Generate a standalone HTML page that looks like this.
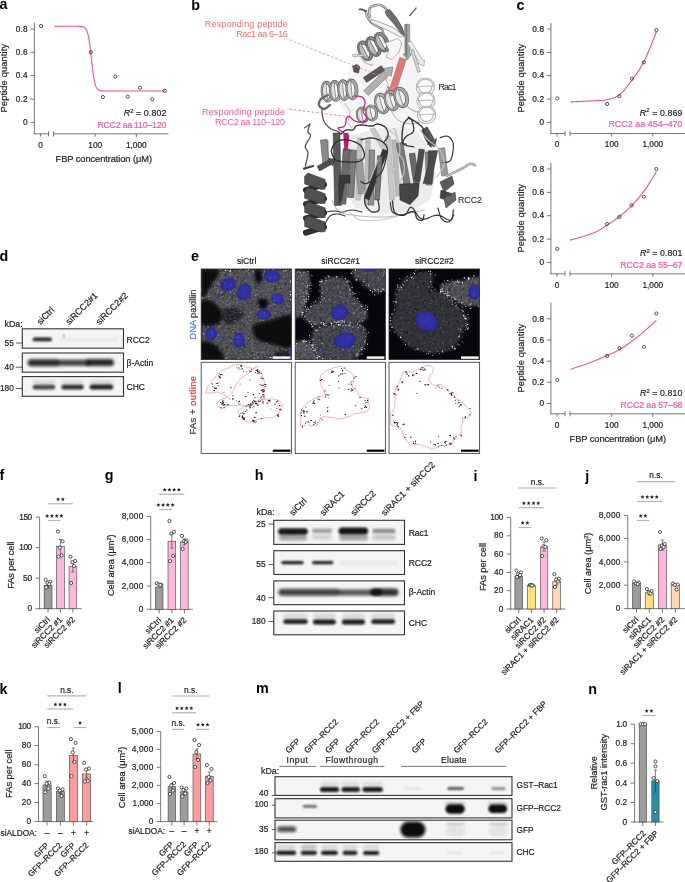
<!DOCTYPE html>
<html><head><meta charset="utf-8"><style>
html,body{margin:0;padding:0;background:#fff;width:685px;height:882px;overflow:hidden}
svg{display:block;will-change:transform}
text{font-family:"Liberation Sans",sans-serif}
</style></head><body>
<svg width="685" height="882" viewBox="0 0 685 882">
<defs><filter id="bl1" x="-50%" y="-100%" width="200%" height="300%"><feGaussianBlur stdDeviation="0.9"/></filter><filter id="bl2" x="-50%" y="-100%" width="200%" height="300%"><feGaussianBlur stdDeviation="1.5"/></filter><filter id="bl3" x="-50%" y="-100%" width="200%" height="300%"><feGaussianBlur stdDeviation="2.3"/></filter><clipPath id="cb1"><rect x="22.3" y="328.8" width="101.2" height="19.399999999999977"/></clipPath><clipPath id="cb2"><rect x="22.3" y="353.0" width="101.2" height="19.19999999999999"/></clipPath><clipPath id="cb3"><rect x="22.3" y="376.6" width="101.2" height="19.69999999999999"/></clipPath><clipPath id="cb4"><rect x="273.8" y="520.3" width="130.7" height="24.100000000000023"/></clipPath><clipPath id="cb5"><rect x="273.8" y="550.7" width="130.7" height="23.799999999999955"/></clipPath><clipPath id="cb6"><rect x="273.8" y="580.9" width="130.7" height="23.800000000000068"/></clipPath><clipPath id="cb7"><rect x="273.8" y="611.0" width="130.7" height="23.799999999999955"/></clipPath><clipPath id="cb8"><rect x="275.0" y="776.7" width="237.0" height="18.699999999999932"/></clipPath><clipPath id="cb9"><rect x="275.0" y="798.7" width="237.0" height="19.199999999999932"/></clipPath><clipPath id="cb10"><rect x="275.0" y="820.2" width="237.0" height="19.59999999999991"/></clipPath><clipPath id="cb11"><rect x="275.0" y="842.6" width="237.0" height="18.699999999999932"/></clipPath><filter id="mb1" x="-20%" y="-20%" width="140%" height="140%"><feGaussianBlur stdDeviation="1.6"/></filter><filter id="mb2" x="-20%" y="-20%" width="140%" height="140%"><feGaussianBlur stdDeviation="0.7"/></filter><filter id="mb3" x="-20%" y="-20%" width="140%" height="140%"><feGaussianBlur stdDeviation="0.35"/></filter><filter id="mnoise" x="0" y="0" width="100%" height="100%"><feTurbulence type="fractalNoise" baseFrequency="0.35" numOctaves="3" seed="7"/><feColorMatrix type="matrix" values="0.9 0.9 0.9 0 -0.55  0.9 0.9 0.9 0 -0.55  0.9 0.9 0.9 0 -0.55  0 0 0 0 1"/></filter><radialGradient id="nuc"><stop offset="0" stop-color="#3434ac"/><stop offset="0.8" stop-color="#2e2e9e"/><stop offset="1" stop-color="#262684"/></radialGradient><clipPath id="mic0"><rect x="201.2" y="269.0" width="90.19999999999999" height="90.60000000000002"/></clipPath><clipPath id="mic1"><rect x="295.2" y="269.0" width="90.19999999999999" height="90.60000000000002"/></clipPath><clipPath id="mic2"><rect x="389.0" y="269.0" width="90.60000000000002" height="90.60000000000002"/></clipPath></defs>
<rect width="685" height="882" fill="#fff"/>
<text x="-0.60" y="9.40" font-size="14.3" text-anchor="start" fill="#000" font-weight="bold">a</text>
<line x1="34.40" y1="22.60" x2="34.40" y2="134.20" stroke="#555" stroke-width="0.8"/>
<line x1="30.40" y1="29.20" x2="34.40" y2="29.20" stroke="#555" stroke-width="0.8"/>
<text x="27.60" y="31.90" font-size="8.3" text-anchor="end" fill="#222" stroke="#222" stroke-width="0.2" textLength="11.77" lengthAdjust="spacing">0.8</text>
<line x1="30.40" y1="52.30" x2="34.40" y2="52.30" stroke="#555" stroke-width="0.8"/>
<text x="27.60" y="55.00" font-size="8.3" text-anchor="end" fill="#222" stroke="#222" stroke-width="0.2" textLength="11.77" lengthAdjust="spacing">0.6</text>
<line x1="30.40" y1="75.60" x2="34.40" y2="75.60" stroke="#555" stroke-width="0.8"/>
<text x="27.60" y="78.30" font-size="8.3" text-anchor="end" fill="#222" stroke="#222" stroke-width="0.2" textLength="11.77" lengthAdjust="spacing">0.4</text>
<line x1="30.40" y1="99.20" x2="34.40" y2="99.20" stroke="#555" stroke-width="0.8"/>
<text x="27.60" y="101.90" font-size="8.3" text-anchor="end" fill="#222" stroke="#222" stroke-width="0.2" textLength="11.77" lengthAdjust="spacing">0.2</text>
<line x1="30.40" y1="122.30" x2="34.40" y2="122.30" stroke="#555" stroke-width="0.8"/>
<text x="27.60" y="125.00" font-size="8.3" text-anchor="end" fill="#222" stroke="#222" stroke-width="0.2" textLength="4.62" lengthAdjust="spacing">0</text>
<line x1="34.00" y1="133.80" x2="48.50" y2="133.80" stroke="#555" stroke-width="0.8"/>
<line x1="48.50" y1="131.20" x2="48.50" y2="136.40" stroke="#555" stroke-width="0.8"/>
<line x1="53.50" y1="133.80" x2="168.60" y2="133.80" stroke="#555" stroke-width="0.8"/>
<line x1="53.50" y1="131.20" x2="53.50" y2="136.40" stroke="#555" stroke-width="0.8"/>
<line x1="40.60" y1="133.80" x2="40.60" y2="136.80" stroke="#555" stroke-width="0.8"/>
<text x="40.60" y="147.60" font-size="8.3" text-anchor="middle" fill="#222" stroke="#222" stroke-width="0.2">0</text>
<line x1="95.20" y1="133.80" x2="95.20" y2="136.80" stroke="#555" stroke-width="0.8"/>
<text x="95.20" y="147.60" font-size="8.3" text-anchor="middle" fill="#222" stroke="#222" stroke-width="0.2">100</text>
<line x1="136.30" y1="133.80" x2="136.30" y2="136.80" stroke="#555" stroke-width="0.8"/>
<text x="136.30" y="147.60" font-size="8.3" text-anchor="middle" fill="#222" stroke="#222" stroke-width="0.2">1,000</text>
<path d="M54.00,26.30 L54.50,26.30 L55.00,26.30 L55.50,26.30 L56.00,26.30 L56.50,26.30 L57.00,26.30 L57.50,26.30 L58.00,26.30 L58.50,26.30 L59.00,26.30 L59.50,26.30 L60.00,26.30 L60.50,26.30 L61.00,26.30 L61.50,26.30 L62.00,26.30 L62.50,26.30 L63.00,26.30 L63.50,26.30 L64.00,26.30 L64.50,26.30 L65.00,26.30 L65.50,26.30 L66.00,26.30 L66.50,26.30 L67.00,26.30 L67.50,26.30 L68.00,26.30 L68.50,26.30 L69.00,26.30 L69.50,26.30 L70.00,26.30 L70.50,26.30 L71.00,26.30 L71.50,26.30 L72.00,26.30 L72.50,26.30 L73.00,26.30 L73.50,26.30 L74.00,26.30 L74.50,26.30 L75.00,26.31 L75.50,26.31 L76.00,26.31 L76.50,26.31 L77.00,26.32 L77.50,26.32 L78.00,26.33 L78.50,26.34 L79.00,26.35 L79.50,26.37 L80.00,26.40 L80.50,26.43 L81.00,26.47 L81.50,26.53 L82.00,26.60 L82.50,26.70 L83.00,26.83 L83.50,27.00 L84.00,27.23 L84.50,27.53 L85.00,27.93 L85.50,28.45 L86.00,29.13 L86.50,30.01 L87.00,31.14 L87.50,32.59 L88.00,34.41 L88.50,36.66 L89.00,39.39 L89.50,42.63 L90.00,46.36 L90.50,50.51 L91.00,54.97 L91.50,59.57 L92.00,64.14 L92.50,68.50 L93.00,72.49 L93.50,76.02 L94.00,79.06 L94.50,81.59 L95.00,83.67 L95.50,85.33 L96.00,86.64 L96.50,87.67 L97.00,88.47 L97.50,89.08 L98.00,89.54 L98.50,89.90 L99.00,90.17 L99.50,90.37 L100.00,90.53 L100.50,90.65 L101.00,90.73 L101.50,90.80 L102.00,90.85 L102.50,90.89 L103.00,90.91 L103.50,90.94 L104.00,90.95 L104.50,90.96 L105.00,90.97 L105.50,90.98 L106.00,90.98 L106.50,90.99 L107.00,90.99 L107.50,90.99 L108.00,91.00 L108.50,91.00 L109.00,91.00 L109.50,91.00 L110.00,91.00 L110.50,91.00 L111.00,91.00 L111.50,91.00 L112.00,91.00 L112.50,91.00 L113.00,91.00 L113.50,91.00 L114.00,91.00 L114.50,91.00 L115.00,91.00 L115.50,91.00 L116.00,91.00 L116.50,91.00 L117.00,91.00 L117.50,91.00 L118.00,91.00 L118.50,91.00 L119.00,91.00 L119.50,91.00 L120.00,91.00 L120.50,91.00 L121.00,91.00 L121.50,91.00 L122.00,91.00 L122.50,91.00 L123.00,91.00 L123.50,91.00 L124.00,91.00 L124.50,91.00 L125.00,91.00 L125.50,91.00 L126.00,91.00 L126.50,91.00 L127.00,91.00 L127.50,91.00 L128.00,91.00 L128.50,91.00 L129.00,91.00 L129.50,91.00 L130.00,91.00 L130.50,91.00 L131.00,91.00 L131.50,91.00 L132.00,91.00 L132.50,91.00 L133.00,91.00 L133.50,91.00 L134.00,91.00 L134.50,91.00 L135.00,91.00 L135.50,91.00 L136.00,91.00 L136.50,91.00 L137.00,91.00 L137.50,91.00 L138.00,91.00 L138.50,91.00 L139.00,91.00 L139.50,91.00 L140.00,91.00 L140.50,91.00 L141.00,91.00 L141.50,91.00 L142.00,91.00 L142.50,91.00 L143.00,91.00 L143.50,91.00 L144.00,91.00 L144.50,91.00 L145.00,91.00 L145.50,91.00 L146.00,91.00 L146.50,91.00 L147.00,91.00 L147.50,91.00 L148.00,91.00 L148.50,91.00 L149.00,91.00 L149.50,91.00 L150.00,91.00 L150.50,91.00 L151.00,91.00 L151.50,91.00 L152.00,91.00 L152.50,91.00 L153.00,91.00 L153.50,91.00 L154.00,91.00 L154.50,91.00 L155.00,91.00 L155.50,91.00 L156.00,91.00 L156.50,91.00 L157.00,91.00 L157.50,91.00 L158.00,91.00 L158.50,91.00 L159.00,91.00 L159.50,91.00 L160.00,91.00 L160.50,91.00 L161.00,91.00 L161.50,91.00 L162.00,91.00 L162.50,91.00 L163.00,91.00 L163.50,91.00 L164.00,91.00 L164.50,91.00 L165.00,91.00" fill="none" stroke="#ea4f9d" stroke-width="1.1"/>
<circle cx="41.00" cy="26.00" r="1.6" fill="none" stroke="#222" stroke-width="0.75"/>
<circle cx="90.80" cy="52.30" r="1.6" fill="none" stroke="#222" stroke-width="0.75"/>
<circle cx="102.90" cy="97.00" r="1.6" fill="none" stroke="#222" stroke-width="0.75"/>
<circle cx="115.30" cy="76.60" r="1.6" fill="none" stroke="#222" stroke-width="0.75"/>
<circle cx="127.70" cy="96.70" r="1.6" fill="none" stroke="#222" stroke-width="0.75"/>
<circle cx="139.90" cy="87.80" r="1.6" fill="none" stroke="#222" stroke-width="0.75"/>
<circle cx="152.30" cy="99.20" r="1.6" fill="none" stroke="#222" stroke-width="0.75"/>
<circle cx="164.70" cy="90.70" r="1.6" fill="none" stroke="#222" stroke-width="0.75"/>
<text x="166.30" y="116.40" font-size="8.8" text-anchor="end" fill="#222" stroke="#222" stroke-width="0.2" textLength="42.5" lengthAdjust="spacing"><tspan font-style="italic">R</tspan><tspan font-size="5.8" dy="-3.4">2</tspan><tspan dy="3.4"> = 0.802</tspan></text>
<text x="166.30" y="127.70" font-size="8.8" text-anchor="end" fill="#ec5aa6" stroke="#ec5aa6" stroke-width="0.2" textLength="68.9" lengthAdjust="spacing">RCC2 aa 110–120</text>
<text x="7.20" y="78.20" font-size="9.3" text-anchor="middle" fill="#222" stroke="#222" stroke-width="0.2" transform="rotate(-90 7.20 78.20)" textLength="68.6" lengthAdjust="spacing">Peptide quantity</text>
<text x="103.80" y="161.50" font-size="9.3" text-anchor="middle" fill="#222" stroke="#222" stroke-width="0.2" textLength="96.4" lengthAdjust="spacing">FBP concentration (μM)</text>
<text x="516.50" y="9.70" font-size="14.3" text-anchor="start" fill="#000" font-weight="bold">c</text>
<line x1="550.90" y1="23.00" x2="550.90" y2="133.90" stroke="#555" stroke-width="0.8"/>
<line x1="546.90" y1="29.00" x2="550.90" y2="29.00" stroke="#555" stroke-width="0.8"/>
<text x="544.10" y="31.70" font-size="8.3" text-anchor="end" fill="#222" stroke="#222" stroke-width="0.2" textLength="11.77" lengthAdjust="spacing">0.8</text>
<line x1="546.90" y1="52.40" x2="550.90" y2="52.40" stroke="#555" stroke-width="0.8"/>
<text x="544.10" y="55.10" font-size="8.3" text-anchor="end" fill="#222" stroke="#222" stroke-width="0.2" textLength="11.77" lengthAdjust="spacing">0.6</text>
<line x1="546.90" y1="75.70" x2="550.90" y2="75.70" stroke="#555" stroke-width="0.8"/>
<text x="544.10" y="78.40" font-size="8.3" text-anchor="end" fill="#222" stroke="#222" stroke-width="0.2" textLength="11.77" lengthAdjust="spacing">0.4</text>
<line x1="546.90" y1="99.10" x2="550.90" y2="99.10" stroke="#555" stroke-width="0.8"/>
<text x="544.10" y="101.80" font-size="8.3" text-anchor="end" fill="#222" stroke="#222" stroke-width="0.2" textLength="11.77" lengthAdjust="spacing">0.2</text>
<line x1="546.90" y1="122.40" x2="550.90" y2="122.40" stroke="#555" stroke-width="0.8"/>
<text x="544.10" y="125.10" font-size="8.3" text-anchor="end" fill="#222" stroke="#222" stroke-width="0.2" textLength="4.62" lengthAdjust="spacing">0</text>
<line x1="550.50" y1="133.50" x2="565.00" y2="133.50" stroke="#555" stroke-width="0.8"/>
<line x1="565.00" y1="130.90" x2="565.00" y2="136.10" stroke="#555" stroke-width="0.8"/>
<line x1="570.00" y1="133.50" x2="685.00" y2="133.50" stroke="#555" stroke-width="0.8"/>
<line x1="570.00" y1="130.90" x2="570.00" y2="136.10" stroke="#555" stroke-width="0.8"/>
<line x1="557.10" y1="133.50" x2="557.10" y2="136.50" stroke="#555" stroke-width="0.8"/>
<text x="557.10" y="147.30" font-size="8.3" text-anchor="middle" fill="#222" stroke="#222" stroke-width="0.2">0</text>
<line x1="611.70" y1="133.50" x2="611.70" y2="136.50" stroke="#555" stroke-width="0.8"/>
<text x="611.70" y="147.30" font-size="8.3" text-anchor="middle" fill="#222" stroke="#222" stroke-width="0.2">100</text>
<line x1="652.80" y1="133.50" x2="652.80" y2="136.50" stroke="#555" stroke-width="0.8"/>
<text x="652.80" y="147.30" font-size="8.3" text-anchor="middle" fill="#222" stroke="#222" stroke-width="0.2">1,000</text>
<path d="M570.60,101.90 L572.11,101.83 L574.14,101.75 L576.56,101.65 L579.23,101.54 L582.04,101.41 L584.86,101.28 L587.55,101.14 L590.00,101.00 L592.28,100.87 L594.54,100.77 L596.77,100.67 L598.96,100.56 L601.10,100.42 L603.18,100.22 L605.18,99.96 L607.10,99.60 L608.91,99.21 L610.60,98.82 L612.22,98.41 L613.78,97.92 L615.30,97.32 L616.81,96.58 L618.33,95.65 L619.90,94.50 L621.50,93.09 L623.11,91.45 L624.72,89.62 L626.33,87.65 L627.93,85.58 L629.51,83.45 L631.07,81.31 L632.60,79.20 L634.09,77.17 L635.54,75.18 L636.97,73.18 L638.38,71.13 L639.78,68.97 L641.20,66.64 L642.63,64.11 L644.10,61.30 L645.68,57.97 L647.41,54.07 L649.19,49.83 L650.97,45.48 L652.65,41.28 L654.17,37.45 L655.45,34.25 L656.40,31.90" fill="none" stroke="#ea4f9d" stroke-width="1.1"/>
<circle cx="557.30" cy="98.40" r="1.6" fill="none" stroke="#222" stroke-width="0.75"/>
<circle cx="607.10" cy="104.00" r="1.6" fill="none" stroke="#222" stroke-width="0.75"/>
<circle cx="619.40" cy="96.10" r="1.6" fill="none" stroke="#222" stroke-width="0.75"/>
<circle cx="631.90" cy="78.70" r="1.6" fill="none" stroke="#222" stroke-width="0.75"/>
<circle cx="643.90" cy="62.30" r="1.6" fill="none" stroke="#222" stroke-width="0.75"/>
<circle cx="656.40" cy="30.10" r="1.6" fill="none" stroke="#222" stroke-width="0.75"/>
<text x="682.50" y="115.50" font-size="8.8" text-anchor="end" fill="#222" stroke="#222" stroke-width="0.2" textLength="42.7" lengthAdjust="spacing"><tspan font-style="italic">R</tspan><tspan font-size="5.8" dy="-3.4">2</tspan><tspan dy="3.4"> = 0.869</tspan></text>
<text x="682.50" y="126.80" font-size="8.8" text-anchor="end" fill="#ec5aa6" stroke="#ec5aa6" stroke-width="0.2" textLength="74.1" lengthAdjust="spacing">RCC2 aa 454–470</text>
<text x="523.70" y="78.25" font-size="9.3" text-anchor="middle" fill="#222" stroke="#222" stroke-width="0.2" transform="rotate(-90 523.70 78.25)" textLength="68.6" lengthAdjust="spacing">Peptide quantity</text>
<line x1="550.90" y1="162.80" x2="550.90" y2="274.20" stroke="#555" stroke-width="0.8"/>
<line x1="546.90" y1="169.00" x2="550.90" y2="169.00" stroke="#555" stroke-width="0.8"/>
<text x="544.10" y="171.70" font-size="8.3" text-anchor="end" fill="#222" stroke="#222" stroke-width="0.2" textLength="11.77" lengthAdjust="spacing">0.8</text>
<line x1="546.90" y1="192.40" x2="550.90" y2="192.40" stroke="#555" stroke-width="0.8"/>
<text x="544.10" y="195.10" font-size="8.3" text-anchor="end" fill="#222" stroke="#222" stroke-width="0.2" textLength="11.77" lengthAdjust="spacing">0.6</text>
<line x1="546.90" y1="215.70" x2="550.90" y2="215.70" stroke="#555" stroke-width="0.8"/>
<text x="544.10" y="218.40" font-size="8.3" text-anchor="end" fill="#222" stroke="#222" stroke-width="0.2" textLength="11.77" lengthAdjust="spacing">0.4</text>
<line x1="546.90" y1="239.10" x2="550.90" y2="239.10" stroke="#555" stroke-width="0.8"/>
<text x="544.10" y="241.80" font-size="8.3" text-anchor="end" fill="#222" stroke="#222" stroke-width="0.2" textLength="11.77" lengthAdjust="spacing">0.2</text>
<line x1="546.90" y1="262.40" x2="550.90" y2="262.40" stroke="#555" stroke-width="0.8"/>
<text x="544.10" y="265.10" font-size="8.3" text-anchor="end" fill="#222" stroke="#222" stroke-width="0.2" textLength="4.62" lengthAdjust="spacing">0</text>
<line x1="550.50" y1="273.80" x2="565.00" y2="273.80" stroke="#555" stroke-width="0.8"/>
<line x1="565.00" y1="271.20" x2="565.00" y2="276.40" stroke="#555" stroke-width="0.8"/>
<line x1="570.00" y1="273.80" x2="685.00" y2="273.80" stroke="#555" stroke-width="0.8"/>
<line x1="570.00" y1="271.20" x2="570.00" y2="276.40" stroke="#555" stroke-width="0.8"/>
<line x1="557.10" y1="273.80" x2="557.10" y2="276.80" stroke="#555" stroke-width="0.8"/>
<text x="557.10" y="287.60" font-size="8.3" text-anchor="middle" fill="#222" stroke="#222" stroke-width="0.2">0</text>
<line x1="611.70" y1="273.80" x2="611.70" y2="276.80" stroke="#555" stroke-width="0.8"/>
<text x="611.70" y="287.60" font-size="8.3" text-anchor="middle" fill="#222" stroke="#222" stroke-width="0.2">100</text>
<line x1="652.80" y1="273.80" x2="652.80" y2="276.80" stroke="#555" stroke-width="0.8"/>
<text x="652.80" y="287.60" font-size="8.3" text-anchor="middle" fill="#222" stroke="#222" stroke-width="0.2">1,000</text>
<path d="M570.10,240.10 L571.01,239.85 L572.21,239.54 L573.64,239.16 L575.24,238.74 L576.93,238.28 L578.67,237.79 L580.38,237.30 L582.00,236.80 L583.58,236.30 L585.20,235.80 L586.84,235.27 L588.50,234.73 L590.16,234.15 L591.80,233.54 L593.42,232.89 L595.00,232.20 L596.54,231.46 L598.04,230.68 L599.52,229.86 L600.98,229.01 L602.44,228.13 L603.91,227.21 L605.39,226.27 L606.90,225.30 L608.43,224.31 L609.98,223.29 L611.54,222.24 L613.11,221.17 L614.69,220.06 L616.26,218.91 L617.83,217.73 L619.40,216.50 L620.97,215.23 L622.54,213.93 L624.11,212.59 L625.69,211.22 L627.26,209.80 L628.82,208.35 L630.37,206.85 L631.90,205.30 L633.41,203.73 L634.90,202.15 L636.38,200.54 L637.85,198.88 L639.32,197.15 L640.80,195.34 L642.29,193.43 L643.80,191.40 L645.42,189.09 L647.18,186.44 L648.99,183.61 L650.79,180.73 L652.50,177.96 L654.04,175.46 L655.33,173.35 L656.30,171.80" fill="none" stroke="#ea4f9d" stroke-width="1.1"/>
<circle cx="557.30" cy="248.90" r="1.6" fill="none" stroke="#222" stroke-width="0.75"/>
<circle cx="607.00" cy="224.00" r="1.6" fill="none" stroke="#222" stroke-width="0.75"/>
<circle cx="619.40" cy="216.90" r="1.6" fill="none" stroke="#222" stroke-width="0.75"/>
<circle cx="631.60" cy="205.30" r="1.6" fill="none" stroke="#222" stroke-width="0.75"/>
<circle cx="643.80" cy="196.80" r="1.6" fill="none" stroke="#222" stroke-width="0.75"/>
<circle cx="656.30" cy="169.00" r="1.6" fill="none" stroke="#222" stroke-width="0.75"/>
<text x="682.50" y="256.30" font-size="8.8" text-anchor="end" fill="#222" stroke="#222" stroke-width="0.2" textLength="42.5" lengthAdjust="spacing"><tspan font-style="italic">R</tspan><tspan font-size="5.8" dy="-3.4">2</tspan><tspan dy="3.4"> = 0.801</tspan></text>
<text x="682.50" y="267.60" font-size="8.8" text-anchor="end" fill="#ec5aa6" stroke="#ec5aa6" stroke-width="0.2" textLength="62.3" lengthAdjust="spacing">RCC2 aa 55–67</text>
<text x="523.70" y="218.30" font-size="9.3" text-anchor="middle" fill="#222" stroke="#222" stroke-width="0.2" transform="rotate(-90 523.70 218.30)" textLength="68.6" lengthAdjust="spacing">Peptide quantity</text>
<line x1="550.90" y1="302.50" x2="550.90" y2="414.20" stroke="#555" stroke-width="0.8"/>
<line x1="546.90" y1="318.80" x2="550.90" y2="318.80" stroke="#555" stroke-width="0.8"/>
<text x="544.10" y="321.50" font-size="8.3" text-anchor="end" fill="#222" stroke="#222" stroke-width="0.2" textLength="11.77" lengthAdjust="spacing">0.8</text>
<line x1="546.90" y1="340.00" x2="550.90" y2="340.00" stroke="#555" stroke-width="0.8"/>
<text x="544.10" y="342.70" font-size="8.3" text-anchor="end" fill="#222" stroke="#222" stroke-width="0.2" textLength="11.77" lengthAdjust="spacing">0.6</text>
<line x1="546.90" y1="361.20" x2="550.90" y2="361.20" stroke="#555" stroke-width="0.8"/>
<text x="544.10" y="363.90" font-size="8.3" text-anchor="end" fill="#222" stroke="#222" stroke-width="0.2" textLength="11.77" lengthAdjust="spacing">0.4</text>
<line x1="546.90" y1="382.30" x2="550.90" y2="382.30" stroke="#555" stroke-width="0.8"/>
<text x="544.10" y="385.00" font-size="8.3" text-anchor="end" fill="#222" stroke="#222" stroke-width="0.2" textLength="11.77" lengthAdjust="spacing">0.2</text>
<line x1="546.90" y1="403.50" x2="550.90" y2="403.50" stroke="#555" stroke-width="0.8"/>
<text x="544.10" y="406.20" font-size="8.3" text-anchor="end" fill="#222" stroke="#222" stroke-width="0.2" textLength="4.62" lengthAdjust="spacing">0</text>
<line x1="550.50" y1="413.80" x2="565.00" y2="413.80" stroke="#555" stroke-width="0.8"/>
<line x1="565.00" y1="411.20" x2="565.00" y2="416.40" stroke="#555" stroke-width="0.8"/>
<line x1="570.00" y1="413.80" x2="685.00" y2="413.80" stroke="#555" stroke-width="0.8"/>
<line x1="570.00" y1="411.20" x2="570.00" y2="416.40" stroke="#555" stroke-width="0.8"/>
<line x1="557.10" y1="413.80" x2="557.10" y2="416.80" stroke="#555" stroke-width="0.8"/>
<text x="557.10" y="427.60" font-size="8.3" text-anchor="middle" fill="#222" stroke="#222" stroke-width="0.2">0</text>
<line x1="611.70" y1="413.80" x2="611.70" y2="416.80" stroke="#555" stroke-width="0.8"/>
<text x="611.70" y="427.60" font-size="8.3" text-anchor="middle" fill="#222" stroke="#222" stroke-width="0.2">100</text>
<line x1="652.80" y1="413.80" x2="652.80" y2="416.80" stroke="#555" stroke-width="0.8"/>
<text x="652.80" y="427.60" font-size="8.3" text-anchor="middle" fill="#222" stroke="#222" stroke-width="0.2">1,000</text>
<path d="M570.60,369.20 L572.11,368.69 L574.14,368.03 L576.56,367.23 L579.23,366.34 L582.04,365.40 L584.86,364.44 L587.55,363.49 L590.00,362.60 L592.28,361.73 L594.55,360.83 L596.79,359.92 L598.99,359.01 L601.14,358.10 L603.22,357.20 L605.21,356.33 L607.10,355.50 L608.87,354.72 L610.51,354.00 L612.06,353.31 L613.54,352.63 L614.98,351.94 L616.42,351.22 L617.89,350.45 L619.40,349.60 L620.96,348.68 L622.52,347.70 L624.09,346.69 L625.67,345.63 L627.24,344.55 L628.81,343.44 L630.36,342.32 L631.90,341.20 L633.42,340.07 L634.92,338.92 L636.41,337.76 L637.90,336.57 L639.39,335.37 L640.88,334.14 L642.38,332.88 L643.90,331.60 L645.52,330.20 L647.28,328.65 L649.10,327.03 L650.90,325.40 L652.61,323.85 L654.14,322.45 L655.43,321.28 L656.40,320.40" fill="none" stroke="#ea4f9d" stroke-width="1.1"/>
<circle cx="557.30" cy="379.90" r="1.6" fill="none" stroke="#222" stroke-width="0.75"/>
<circle cx="607.10" cy="355.90" r="1.6" fill="none" stroke="#222" stroke-width="0.75"/>
<circle cx="619.40" cy="348.20" r="1.6" fill="none" stroke="#222" stroke-width="0.75"/>
<circle cx="631.90" cy="335.70" r="1.6" fill="none" stroke="#222" stroke-width="0.75"/>
<circle cx="643.90" cy="346.90" r="1.6" fill="none" stroke="#222" stroke-width="0.75"/>
<circle cx="656.40" cy="313.50" r="1.6" fill="none" stroke="#222" stroke-width="0.75"/>
<text x="682.50" y="396.20" font-size="8.8" text-anchor="end" fill="#222" stroke="#222" stroke-width="0.2" textLength="42.5" lengthAdjust="spacing"><tspan font-style="italic">R</tspan><tspan font-size="5.8" dy="-3.4">2</tspan><tspan dy="3.4"> = 0.810</tspan></text>
<text x="682.50" y="407.50" font-size="8.8" text-anchor="end" fill="#ec5aa6" stroke="#ec5aa6" stroke-width="0.2" textLength="62.1" lengthAdjust="spacing">RCC2 aa 57–68</text>
<text x="523.70" y="358.15" font-size="9.3" text-anchor="middle" fill="#222" stroke="#222" stroke-width="0.2" transform="rotate(-90 523.70 358.15)" textLength="68.6" lengthAdjust="spacing">Peptide quantity</text>
<text x="617.80" y="441.50" font-size="9.3" text-anchor="middle" fill="#222" stroke="#222" stroke-width="0.2" textLength="96.4" lengthAdjust="spacing">FBP concentration (μM)</text>
<text x="-0.50" y="480.30" font-size="14.3" text-anchor="start" fill="#000" font-weight="bold">f</text>
<line x1="39.60" y1="517.00" x2="39.60" y2="609.10" stroke="#555" stroke-width="0.8"/>
<line x1="39.20" y1="608.70" x2="81.70" y2="608.70" stroke="#555" stroke-width="0.8"/>
<line x1="35.60" y1="517.00" x2="39.60" y2="517.00" stroke="#555" stroke-width="0.8"/>
<text x="32.20" y="519.60" font-size="8.3" text-anchor="end" fill="#222" stroke="#222" stroke-width="0.2" textLength="12.96" lengthAdjust="spacing">150</text>
<line x1="35.60" y1="547.60" x2="39.60" y2="547.60" stroke="#555" stroke-width="0.8"/>
<text x="32.20" y="550.20" font-size="8.3" text-anchor="end" fill="#222" stroke="#222" stroke-width="0.2" textLength="12.96" lengthAdjust="spacing">100</text>
<line x1="35.60" y1="578.20" x2="39.60" y2="578.20" stroke="#555" stroke-width="0.8"/>
<text x="32.20" y="580.80" font-size="8.3" text-anchor="end" fill="#222" stroke="#222" stroke-width="0.2" textLength="9.24" lengthAdjust="spacing">50</text>
<line x1="35.60" y1="608.70" x2="39.60" y2="608.70" stroke="#555" stroke-width="0.8"/>
<text x="32.20" y="611.30" font-size="8.3" text-anchor="end" fill="#222" stroke="#222" stroke-width="0.2" textLength="4.62" lengthAdjust="spacing">0</text>
<rect x="44.10" y="585.30" width="7.90" height="23.40" fill="#9c9c9c" stroke="#444" stroke-width="0.6"/>
<line x1="48.05" y1="608.70" x2="48.05" y2="612.70" stroke="#555" stroke-width="0.8"/>
<line x1="48.05" y1="582.50" x2="48.05" y2="588.00" stroke="#333" stroke-width="0.6"/>
<line x1="46.45" y1="582.50" x2="49.65" y2="582.50" stroke="#333" stroke-width="0.6"/>
<line x1="46.45" y1="588.00" x2="49.65" y2="588.00" stroke="#333" stroke-width="0.6"/>
<circle cx="45.65" cy="579.90" r="1.6" fill="#fff" stroke="#222" stroke-width="0.75"/>
<circle cx="50.25" cy="581.80" r="1.6" fill="#fff" stroke="#222" stroke-width="0.75"/>
<circle cx="47.45" cy="583.00" r="1.6" fill="#fff" stroke="#222" stroke-width="0.75"/>
<circle cx="49.25" cy="584.20" r="1.6" fill="#fff" stroke="#222" stroke-width="0.75"/>
<circle cx="46.25" cy="587.30" r="1.6" fill="#fff" stroke="#222" stroke-width="0.75"/>
<rect x="56.50" y="546.50" width="7.80" height="62.20" fill="#fbb8dc" stroke="#444" stroke-width="0.6"/>
<line x1="60.40" y1="608.70" x2="60.40" y2="612.70" stroke="#555" stroke-width="0.8"/>
<line x1="60.40" y1="539.50" x2="60.40" y2="556.00" stroke="#333" stroke-width="0.6"/>
<line x1="58.80" y1="539.50" x2="62.00" y2="539.50" stroke="#333" stroke-width="0.6"/>
<line x1="58.80" y1="556.00" x2="62.00" y2="556.00" stroke="#333" stroke-width="0.6"/>
<circle cx="58.00" cy="531.60" r="1.6" fill="#fff" stroke="#222" stroke-width="0.75"/>
<circle cx="62.60" cy="541.40" r="1.6" fill="#fff" stroke="#222" stroke-width="0.75"/>
<circle cx="59.80" cy="547.50" r="1.6" fill="#fff" stroke="#222" stroke-width="0.75"/>
<circle cx="61.60" cy="555.50" r="1.6" fill="#fff" stroke="#222" stroke-width="0.75"/>
<circle cx="58.60" cy="556.70" r="1.6" fill="#fff" stroke="#222" stroke-width="0.75"/>
<rect x="69.00" y="566.60" width="7.80" height="42.10" fill="#fbb8dc" stroke="#444" stroke-width="0.6"/>
<line x1="72.90" y1="608.70" x2="72.90" y2="612.70" stroke="#555" stroke-width="0.8"/>
<line x1="72.90" y1="561.00" x2="72.90" y2="572.00" stroke="#333" stroke-width="0.6"/>
<line x1="71.30" y1="561.00" x2="74.50" y2="561.00" stroke="#333" stroke-width="0.6"/>
<line x1="71.30" y1="572.00" x2="74.50" y2="572.00" stroke="#333" stroke-width="0.6"/>
<circle cx="70.50" cy="556.70" r="1.6" fill="#fff" stroke="#222" stroke-width="0.75"/>
<circle cx="75.10" cy="561.00" r="1.6" fill="#fff" stroke="#222" stroke-width="0.75"/>
<circle cx="72.30" cy="562.20" r="1.6" fill="#fff" stroke="#222" stroke-width="0.75"/>
<circle cx="74.10" cy="565.90" r="1.6" fill="#fff" stroke="#222" stroke-width="0.75"/>
<circle cx="71.10" cy="583.00" r="1.6" fill="#fff" stroke="#222" stroke-width="0.75"/>
<line x1="48.10" y1="520.50" x2="60.50" y2="520.50" stroke="#b4b4b4" stroke-width="1.2"/>
<polygon points="47.17,513.85 47.74,515.22 49.22,515.34 48.10,516.30 48.44,517.74 47.17,516.97 45.91,517.74 46.25,516.30 45.13,515.34 46.61,515.22" fill="#222"/><polygon points="51.92,513.85 52.49,515.22 53.97,515.34 52.85,516.30 53.19,517.74 51.92,516.97 50.66,517.74 51.00,516.30 49.88,515.34 51.36,515.22" fill="#222"/><polygon points="56.67,513.85 57.24,515.22 58.72,515.34 57.60,516.30 57.94,517.74 56.67,516.97 55.41,517.74 55.75,516.30 54.63,515.34 56.11,515.22" fill="#222"/><polygon points="61.42,513.85 61.99,515.22 63.47,515.34 62.35,516.30 62.69,517.74 61.42,516.97 60.16,517.74 60.50,516.30 59.38,515.34 60.86,515.22" fill="#222"/>
<line x1="48.10" y1="503.80" x2="72.80" y2="503.80" stroke="#b4b4b4" stroke-width="1.2"/>
<polygon points="58.08,497.15 58.64,498.52 60.12,498.64 59.00,499.60 59.34,501.04 58.08,500.27 56.81,501.04 57.15,499.60 56.03,498.64 57.51,498.52" fill="#222"/><polygon points="62.83,497.15 63.39,498.52 64.87,498.64 63.75,499.60 64.09,501.04 62.83,500.27 61.56,501.04 61.90,499.60 60.78,498.64 62.26,498.52" fill="#222"/>
<text x="14.10" y="565.20" font-size="9.3" text-anchor="middle" fill="#222" stroke="#222" stroke-width="0.2" transform="rotate(-90 14.10 565.20)" textLength="47.3" lengthAdjust="spacing">FAs per cell</text>
<text x="50.60" y="620.20" font-size="8.3" text-anchor="end" fill="#222" stroke="#222" stroke-width="0.2" transform="rotate(-45 50.60 620.20)">siCtrl</text>
<text x="63.00" y="620.20" font-size="8.3" text-anchor="end" fill="#222" stroke="#222" stroke-width="0.2" transform="rotate(-45 63.00 620.20)">siRCC2 #1</text>
<text x="75.50" y="620.20" font-size="8.3" text-anchor="end" fill="#222" stroke="#222" stroke-width="0.2" transform="rotate(-45 75.50 620.20)">siRCC2 #2</text>
<text x="104.80" y="480.30" font-size="14.3" text-anchor="start" fill="#000" font-weight="bold">g</text>
<line x1="150.70" y1="516.40" x2="150.70" y2="609.70" stroke="#555" stroke-width="0.8"/>
<line x1="150.30" y1="609.30" x2="192.80" y2="609.30" stroke="#555" stroke-width="0.8"/>
<line x1="146.70" y1="516.40" x2="150.70" y2="516.40" stroke="#555" stroke-width="0.8"/>
<text x="143.30" y="519.00" font-size="8.3" text-anchor="end" fill="#222" stroke="#222" stroke-width="0.2" textLength="21.65" lengthAdjust="spacing">8,000</text>
<line x1="146.70" y1="539.40" x2="150.70" y2="539.40" stroke="#555" stroke-width="0.8"/>
<text x="143.30" y="542.00" font-size="8.3" text-anchor="end" fill="#222" stroke="#222" stroke-width="0.2" textLength="21.65" lengthAdjust="spacing">6,000</text>
<line x1="146.70" y1="562.70" x2="150.70" y2="562.70" stroke="#555" stroke-width="0.8"/>
<text x="143.30" y="565.30" font-size="8.3" text-anchor="end" fill="#222" stroke="#222" stroke-width="0.2" textLength="21.65" lengthAdjust="spacing">4,000</text>
<line x1="146.70" y1="586.10" x2="150.70" y2="586.10" stroke="#555" stroke-width="0.8"/>
<text x="143.30" y="588.70" font-size="8.3" text-anchor="end" fill="#222" stroke="#222" stroke-width="0.2" textLength="21.65" lengthAdjust="spacing">2,000</text>
<line x1="146.70" y1="609.30" x2="150.70" y2="609.30" stroke="#555" stroke-width="0.8"/>
<text x="143.30" y="611.90" font-size="8.3" text-anchor="end" fill="#222" stroke="#222" stroke-width="0.2" textLength="4.62" lengthAdjust="spacing">0</text>
<rect x="155.30" y="587.10" width="7.70" height="22.20" fill="#9c9c9c" stroke="#444" stroke-width="0.6"/>
<line x1="159.15" y1="609.30" x2="159.15" y2="613.30" stroke="#555" stroke-width="0.8"/>
<circle cx="156.75" cy="583.30" r="1.6" fill="#fff" stroke="#222" stroke-width="0.75"/>
<circle cx="161.35" cy="584.90" r="1.6" fill="#fff" stroke="#222" stroke-width="0.75"/>
<circle cx="158.55" cy="584.50" r="1.6" fill="#fff" stroke="#222" stroke-width="0.75"/>
<circle cx="160.35" cy="585.00" r="1.6" fill="#fff" stroke="#222" stroke-width="0.75"/>
<rect x="168.00" y="541.20" width="7.70" height="68.10" fill="#fbb8dc" stroke="#444" stroke-width="0.6"/>
<line x1="171.85" y1="609.30" x2="171.85" y2="613.30" stroke="#555" stroke-width="0.8"/>
<line x1="171.85" y1="534.30" x2="171.85" y2="548.10" stroke="#333" stroke-width="0.6"/>
<line x1="170.25" y1="534.30" x2="173.45" y2="534.30" stroke="#333" stroke-width="0.6"/>
<line x1="170.25" y1="548.10" x2="173.45" y2="548.10" stroke="#333" stroke-width="0.6"/>
<circle cx="169.45" cy="521.00" r="1.6" fill="#fff" stroke="#222" stroke-width="0.75"/>
<circle cx="174.05" cy="531.70" r="1.6" fill="#fff" stroke="#222" stroke-width="0.75"/>
<circle cx="171.25" cy="533.60" r="1.6" fill="#fff" stroke="#222" stroke-width="0.75"/>
<circle cx="173.05" cy="555.80" r="1.6" fill="#fff" stroke="#222" stroke-width="0.75"/>
<circle cx="170.05" cy="561.10" r="1.6" fill="#fff" stroke="#222" stroke-width="0.75"/>
<rect x="180.60" y="542.00" width="7.60" height="67.30" fill="#fbb8dc" stroke="#444" stroke-width="0.6"/>
<line x1="184.40" y1="609.30" x2="184.40" y2="613.30" stroke="#555" stroke-width="0.8"/>
<line x1="184.40" y1="539.00" x2="184.40" y2="545.00" stroke="#333" stroke-width="0.6"/>
<line x1="182.80" y1="539.00" x2="186.00" y2="539.00" stroke="#333" stroke-width="0.6"/>
<line x1="182.80" y1="545.00" x2="186.00" y2="545.00" stroke="#333" stroke-width="0.6"/>
<circle cx="182.00" cy="535.90" r="1.6" fill="#fff" stroke="#222" stroke-width="0.75"/>
<circle cx="186.60" cy="540.50" r="1.6" fill="#fff" stroke="#222" stroke-width="0.75"/>
<circle cx="183.80" cy="541.00" r="1.6" fill="#fff" stroke="#222" stroke-width="0.75"/>
<circle cx="185.60" cy="542.00" r="1.6" fill="#fff" stroke="#222" stroke-width="0.75"/>
<circle cx="182.60" cy="548.90" r="1.6" fill="#fff" stroke="#222" stroke-width="0.75"/>
<line x1="159.10" y1="509.50" x2="171.80" y2="509.50" stroke="#b4b4b4" stroke-width="1.2"/>
<polygon points="158.32,502.85 158.89,504.22 160.37,504.34 159.25,505.30 159.59,506.74 158.32,505.97 157.06,506.74 157.40,505.30 156.28,504.34 157.76,504.22" fill="#222"/><polygon points="163.07,502.85 163.64,504.22 165.12,504.34 164.00,505.30 164.34,506.74 163.07,505.97 161.81,506.74 162.15,505.30 161.03,504.34 162.51,504.22" fill="#222"/><polygon points="167.82,502.85 168.39,504.22 169.87,504.34 168.75,505.30 169.09,506.74 167.82,505.97 166.56,506.74 166.90,505.30 165.78,504.34 167.26,504.22" fill="#222"/><polygon points="172.57,502.85 173.14,504.22 174.62,504.34 173.50,505.30 173.84,506.74 172.57,505.97 171.31,506.74 171.65,505.30 170.53,504.34 172.01,504.22" fill="#222"/>
<line x1="159.10" y1="494.20" x2="184.40" y2="494.20" stroke="#b4b4b4" stroke-width="1.2"/>
<polygon points="164.62,487.55 165.19,488.92 166.67,489.04 165.55,490.00 165.89,491.44 164.62,490.67 163.36,491.44 163.70,490.00 162.58,489.04 164.06,488.92" fill="#222"/><polygon points="169.38,487.55 169.94,488.92 171.42,489.04 170.30,490.00 170.64,491.44 169.38,490.67 168.11,491.44 168.45,490.00 167.33,489.04 168.81,488.92" fill="#222"/><polygon points="174.12,487.55 174.69,488.92 176.17,489.04 175.05,490.00 175.39,491.44 174.12,490.67 172.86,491.44 173.20,490.00 172.08,489.04 173.56,488.92" fill="#222"/><polygon points="178.88,487.55 179.44,488.92 180.92,489.04 179.80,490.00 180.14,491.44 178.88,490.67 177.61,491.44 177.95,490.00 176.83,489.04 178.31,488.92" fill="#222"/>
<text x="113.80" y="565.20" font-size="9.3" text-anchor="middle" fill="#222" stroke="#222" stroke-width="0.2" transform="rotate(-90 113.80 565.20)" textLength="61.7" lengthAdjust="spacing">Cell area (μm<tspan font-size="5.5" dy="-3">2</tspan><tspan dy="3">)</tspan></text>
<text x="161.70" y="620.80" font-size="8.3" text-anchor="end" fill="#222" stroke="#222" stroke-width="0.2" transform="rotate(-45 161.70 620.80)">siCtrl</text>
<text x="174.40" y="620.80" font-size="8.3" text-anchor="end" fill="#222" stroke="#222" stroke-width="0.2" transform="rotate(-45 174.40 620.80)">siRCC2 #1</text>
<text x="187.00" y="620.80" font-size="8.3" text-anchor="end" fill="#222" stroke="#222" stroke-width="0.2" transform="rotate(-45 187.00 620.80)">siRCC2 #2</text>
<text x="473.50" y="480.50" font-size="14.3" text-anchor="start" fill="#000" font-weight="bold">i</text>
<line x1="510.70" y1="517.40" x2="510.70" y2="609.40" stroke="#555" stroke-width="0.8"/>
<line x1="510.30" y1="609.00" x2="565.40" y2="609.00" stroke="#555" stroke-width="0.8"/>
<line x1="506.70" y1="517.40" x2="510.70" y2="517.40" stroke="#555" stroke-width="0.8"/>
<text x="503.30" y="520.00" font-size="8.3" text-anchor="end" fill="#222" stroke="#222" stroke-width="0.2" textLength="12.96" lengthAdjust="spacing">100</text>
<line x1="506.70" y1="535.80" x2="510.70" y2="535.80" stroke="#555" stroke-width="0.8"/>
<text x="503.30" y="538.40" font-size="8.3" text-anchor="end" fill="#222" stroke="#222" stroke-width="0.2" textLength="9.24" lengthAdjust="spacing">80</text>
<line x1="506.70" y1="554.10" x2="510.70" y2="554.10" stroke="#555" stroke-width="0.8"/>
<text x="503.30" y="556.70" font-size="8.3" text-anchor="end" fill="#222" stroke="#222" stroke-width="0.2" textLength="9.24" lengthAdjust="spacing">60</text>
<line x1="506.70" y1="572.50" x2="510.70" y2="572.50" stroke="#555" stroke-width="0.8"/>
<text x="503.30" y="575.10" font-size="8.3" text-anchor="end" fill="#222" stroke="#222" stroke-width="0.2" textLength="9.24" lengthAdjust="spacing">40</text>
<line x1="506.70" y1="590.70" x2="510.70" y2="590.70" stroke="#555" stroke-width="0.8"/>
<text x="503.30" y="593.30" font-size="8.3" text-anchor="end" fill="#222" stroke="#222" stroke-width="0.2" textLength="9.24" lengthAdjust="spacing">20</text>
<line x1="506.70" y1="609.00" x2="510.70" y2="609.00" stroke="#555" stroke-width="0.8"/>
<text x="503.30" y="611.60" font-size="8.3" text-anchor="end" fill="#222" stroke="#222" stroke-width="0.2" textLength="4.62" lengthAdjust="spacing">0</text>
<rect x="514.90" y="576.10" width="7.70" height="32.90" fill="#9c9c9c" stroke="#444" stroke-width="0.6"/>
<line x1="518.75" y1="609.00" x2="518.75" y2="613.00" stroke="#555" stroke-width="0.8"/>
<line x1="518.75" y1="574.00" x2="518.75" y2="578.00" stroke="#333" stroke-width="0.6"/>
<line x1="517.15" y1="574.00" x2="520.35" y2="574.00" stroke="#333" stroke-width="0.6"/>
<line x1="517.15" y1="578.00" x2="520.35" y2="578.00" stroke="#333" stroke-width="0.6"/>
<circle cx="516.35" cy="570.50" r="1.6" fill="#fff" stroke="#222" stroke-width="0.75"/>
<circle cx="520.95" cy="572.40" r="1.6" fill="#fff" stroke="#222" stroke-width="0.75"/>
<circle cx="518.15" cy="574.20" r="1.6" fill="#fff" stroke="#222" stroke-width="0.75"/>
<circle cx="519.95" cy="575.10" r="1.6" fill="#fff" stroke="#222" stroke-width="0.75"/>
<circle cx="516.95" cy="577.00" r="1.6" fill="#fff" stroke="#222" stroke-width="0.75"/>
<rect x="527.40" y="585.40" width="7.90" height="23.60" fill="#fbe27c" stroke="#444" stroke-width="0.6"/>
<line x1="531.35" y1="609.00" x2="531.35" y2="613.00" stroke="#555" stroke-width="0.8"/>
<circle cx="529.97" cy="585.00" r="1.6" fill="#fff" stroke="#222" stroke-width="0.75"/>
<circle cx="532.62" cy="585.20" r="1.6" fill="#fff" stroke="#222" stroke-width="0.75"/>
<circle cx="531.00" cy="585.40" r="1.6" fill="#fff" stroke="#222" stroke-width="0.75"/>
<circle cx="532.04" cy="585.60" r="1.6" fill="#fff" stroke="#222" stroke-width="0.75"/>
<rect x="540.30" y="546.90" width="7.50" height="62.10" fill="#fbb8dc" stroke="#444" stroke-width="0.6"/>
<line x1="544.05" y1="609.00" x2="544.05" y2="613.00" stroke="#555" stroke-width="0.8"/>
<line x1="544.05" y1="542.00" x2="544.05" y2="551.00" stroke="#333" stroke-width="0.6"/>
<line x1="542.45" y1="542.00" x2="545.65" y2="542.00" stroke="#333" stroke-width="0.6"/>
<line x1="542.45" y1="551.00" x2="545.65" y2="551.00" stroke="#333" stroke-width="0.6"/>
<circle cx="541.65" cy="538.50" r="1.6" fill="#fff" stroke="#222" stroke-width="0.75"/>
<circle cx="546.25" cy="540.30" r="1.6" fill="#fff" stroke="#222" stroke-width="0.75"/>
<circle cx="543.45" cy="546.50" r="1.6" fill="#fff" stroke="#222" stroke-width="0.75"/>
<circle cx="545.25" cy="546.90" r="1.6" fill="#fff" stroke="#222" stroke-width="0.75"/>
<circle cx="542.25" cy="555.90" r="1.6" fill="#fff" stroke="#222" stroke-width="0.75"/>
<rect x="552.80" y="581.60" width="7.90" height="27.40" fill="#fdd8b4" stroke="#444" stroke-width="0.6"/>
<line x1="556.75" y1="609.00" x2="556.75" y2="613.00" stroke="#555" stroke-width="0.8"/>
<line x1="556.75" y1="578.00" x2="556.75" y2="585.00" stroke="#333" stroke-width="0.6"/>
<line x1="555.15" y1="578.00" x2="558.35" y2="578.00" stroke="#333" stroke-width="0.6"/>
<line x1="555.15" y1="585.00" x2="558.35" y2="585.00" stroke="#333" stroke-width="0.6"/>
<circle cx="554.35" cy="574.20" r="1.6" fill="#fff" stroke="#222" stroke-width="0.75"/>
<circle cx="558.95" cy="578.80" r="1.6" fill="#fff" stroke="#222" stroke-width="0.75"/>
<circle cx="556.15" cy="579.70" r="1.6" fill="#fff" stroke="#222" stroke-width="0.75"/>
<circle cx="557.95" cy="581.50" r="1.6" fill="#fff" stroke="#222" stroke-width="0.75"/>
<circle cx="554.95" cy="587.00" r="1.6" fill="#fff" stroke="#222" stroke-width="0.75"/>
<line x1="518.50" y1="527.50" x2="531.50" y2="527.50" stroke="#b4b4b4" stroke-width="1.2"/>
<polygon points="522.62,520.85 523.19,522.22 524.67,522.34 523.55,523.30 523.89,524.74 522.62,523.97 521.36,524.74 521.70,523.30 520.58,522.34 522.06,522.22" fill="#222"/><polygon points="527.38,520.85 527.94,522.22 529.42,522.34 528.30,523.30 528.64,524.74 527.38,523.97 526.11,524.74 526.45,523.30 525.33,522.34 526.81,522.22" fill="#222"/>
<line x1="518.50" y1="507.70" x2="543.70" y2="507.70" stroke="#b4b4b4" stroke-width="1.2"/>
<polygon points="523.98,501.05 524.54,502.42 526.02,502.54 524.90,503.50 525.24,504.94 523.98,504.17 522.71,504.94 523.05,503.50 521.93,502.54 523.41,502.42" fill="#222"/><polygon points="528.73,501.05 529.29,502.42 530.77,502.54 529.65,503.50 529.99,504.94 528.73,504.17 527.46,504.94 527.80,503.50 526.68,502.54 528.16,502.42" fill="#222"/><polygon points="533.48,501.05 534.04,502.42 535.52,502.54 534.40,503.50 534.74,504.94 533.48,504.17 532.21,504.94 532.55,503.50 531.43,502.54 532.91,502.42" fill="#222"/><polygon points="538.23,501.05 538.79,502.42 540.27,502.54 539.15,503.50 539.49,504.94 538.23,504.17 536.96,504.94 537.30,503.50 536.18,502.54 537.66,502.42" fill="#222"/>
<line x1="518.60" y1="488.00" x2="556.40" y2="488.00" stroke="#b4b4b4" stroke-width="1.2"/>
<text x="537.50" y="484.80" font-size="8.3" text-anchor="middle" fill="#222" stroke="#222" stroke-width="0.2">n.s.</text>
<text x="486.00" y="567.00" font-size="9.3" text-anchor="middle" fill="#222" stroke="#222" stroke-width="0.2" transform="rotate(-90 486.00 567.00)" textLength="48.0" lengthAdjust="spacing">FAs per cell</text>
<text x="521.30" y="620.50" font-size="8.3" text-anchor="end" fill="#222" stroke="#222" stroke-width="0.2" transform="rotate(-45 521.30 620.50)">siCtrl</text>
<text x="533.90" y="620.50" font-size="8.3" text-anchor="end" fill="#222" stroke="#222" stroke-width="0.2" transform="rotate(-45 533.90 620.50)">siRAC1</text>
<text x="546.60" y="620.50" font-size="8.3" text-anchor="end" fill="#222" stroke="#222" stroke-width="0.2" transform="rotate(-45 546.60 620.50)">siRCC2 #2</text>
<text x="559.30" y="620.50" font-size="8.3" text-anchor="end" fill="#222" stroke="#222" stroke-width="0.2" transform="rotate(-45 559.30 620.50)">siRAC1 + siRCC2 #2</text>
<text x="585.20" y="480.50" font-size="14.3" text-anchor="start" fill="#000" font-weight="bold">j</text>
<line x1="627.80" y1="515.40" x2="627.80" y2="609.10" stroke="#555" stroke-width="0.8"/>
<line x1="627.40" y1="608.70" x2="685.50" y2="608.70" stroke="#555" stroke-width="0.8"/>
<line x1="623.80" y1="515.40" x2="627.80" y2="515.40" stroke="#555" stroke-width="0.8"/>
<text x="620.40" y="518.00" font-size="8.3" text-anchor="end" fill="#222" stroke="#222" stroke-width="0.2" textLength="21.65" lengthAdjust="spacing">8,000</text>
<line x1="623.80" y1="538.40" x2="627.80" y2="538.40" stroke="#555" stroke-width="0.8"/>
<text x="620.40" y="541.00" font-size="8.3" text-anchor="end" fill="#222" stroke="#222" stroke-width="0.2" textLength="21.65" lengthAdjust="spacing">6,000</text>
<line x1="623.80" y1="561.90" x2="627.80" y2="561.90" stroke="#555" stroke-width="0.8"/>
<text x="620.40" y="564.50" font-size="8.3" text-anchor="end" fill="#222" stroke="#222" stroke-width="0.2" textLength="21.65" lengthAdjust="spacing">4,000</text>
<line x1="623.80" y1="585.20" x2="627.80" y2="585.20" stroke="#555" stroke-width="0.8"/>
<text x="620.40" y="587.80" font-size="8.3" text-anchor="end" fill="#222" stroke="#222" stroke-width="0.2" textLength="21.65" lengthAdjust="spacing">2,000</text>
<line x1="623.80" y1="608.70" x2="627.80" y2="608.70" stroke="#555" stroke-width="0.8"/>
<text x="620.40" y="611.30" font-size="8.3" text-anchor="end" fill="#222" stroke="#222" stroke-width="0.2" textLength="4.62" lengthAdjust="spacing">0</text>
<rect x="632.40" y="583.10" width="8.20" height="25.60" fill="#9c9c9c" stroke="#444" stroke-width="0.6"/>
<line x1="636.50" y1="608.70" x2="636.50" y2="612.70" stroke="#555" stroke-width="0.8"/>
<circle cx="634.10" cy="581.50" r="1.6" fill="#fff" stroke="#222" stroke-width="0.75"/>
<circle cx="638.70" cy="582.50" r="1.6" fill="#fff" stroke="#222" stroke-width="0.75"/>
<circle cx="635.90" cy="583.50" r="1.6" fill="#fff" stroke="#222" stroke-width="0.75"/>
<circle cx="637.70" cy="584.00" r="1.6" fill="#fff" stroke="#222" stroke-width="0.75"/>
<rect x="645.20" y="592.80" width="8.20" height="15.90" fill="#fbe27c" stroke="#444" stroke-width="0.6"/>
<line x1="649.30" y1="608.70" x2="649.30" y2="612.70" stroke="#555" stroke-width="0.8"/>
<line x1="649.30" y1="591.00" x2="649.30" y2="595.00" stroke="#333" stroke-width="0.6"/>
<line x1="647.70" y1="591.00" x2="650.90" y2="591.00" stroke="#333" stroke-width="0.6"/>
<line x1="647.70" y1="595.00" x2="650.90" y2="595.00" stroke="#333" stroke-width="0.6"/>
<circle cx="646.90" cy="589.00" r="1.6" fill="#fff" stroke="#222" stroke-width="0.75"/>
<circle cx="651.50" cy="591.00" r="1.6" fill="#fff" stroke="#222" stroke-width="0.75"/>
<circle cx="648.70" cy="592.50" r="1.6" fill="#fff" stroke="#222" stroke-width="0.75"/>
<circle cx="650.50" cy="593.50" r="1.6" fill="#fff" stroke="#222" stroke-width="0.75"/>
<rect x="658.30" y="544.90" width="8.20" height="63.80" fill="#fbb8dc" stroke="#444" stroke-width="0.6"/>
<line x1="662.40" y1="608.70" x2="662.40" y2="612.70" stroke="#555" stroke-width="0.8"/>
<line x1="662.40" y1="540.00" x2="662.40" y2="550.00" stroke="#333" stroke-width="0.6"/>
<line x1="660.80" y1="540.00" x2="664.00" y2="540.00" stroke="#333" stroke-width="0.6"/>
<line x1="660.80" y1="550.00" x2="664.00" y2="550.00" stroke="#333" stroke-width="0.6"/>
<circle cx="660.00" cy="532.00" r="1.6" fill="#fff" stroke="#222" stroke-width="0.75"/>
<circle cx="664.60" cy="544.00" r="1.6" fill="#fff" stroke="#222" stroke-width="0.75"/>
<circle cx="661.80" cy="545.50" r="1.6" fill="#fff" stroke="#222" stroke-width="0.75"/>
<circle cx="663.60" cy="547.00" r="1.6" fill="#fff" stroke="#222" stroke-width="0.75"/>
<circle cx="660.60" cy="549.00" r="1.6" fill="#fff" stroke="#222" stroke-width="0.75"/>
<rect x="671.20" y="584.80" width="8.40" height="23.90" fill="#fdd8b4" stroke="#444" stroke-width="0.6"/>
<line x1="675.40" y1="608.70" x2="675.40" y2="612.70" stroke="#555" stroke-width="0.8"/>
<circle cx="673.00" cy="583.50" r="1.6" fill="#fff" stroke="#222" stroke-width="0.75"/>
<circle cx="677.60" cy="584.50" r="1.6" fill="#fff" stroke="#222" stroke-width="0.75"/>
<circle cx="674.80" cy="585.00" r="1.6" fill="#fff" stroke="#222" stroke-width="0.75"/>
<circle cx="676.60" cy="589.50" r="1.6" fill="#fff" stroke="#222" stroke-width="0.75"/>
<line x1="636.70" y1="520.50" x2="649.40" y2="520.50" stroke="#b4b4b4" stroke-width="1.2"/>
<polygon points="640.67,513.85 641.24,515.22 642.72,515.34 641.60,516.30 641.94,517.74 640.67,516.97 639.41,517.74 639.75,516.30 638.63,515.34 640.11,515.22" fill="#222"/><polygon points="645.42,513.85 645.99,515.22 647.47,515.34 646.35,516.30 646.69,517.74 645.42,516.97 644.16,517.74 644.50,516.30 643.38,515.34 644.86,515.22" fill="#222"/>
<line x1="636.70" y1="501.50" x2="662.50" y2="501.50" stroke="#b4b4b4" stroke-width="1.2"/>
<polygon points="642.48,494.85 643.04,496.22 644.52,496.34 643.40,497.30 643.74,498.74 642.48,497.97 641.21,498.74 641.55,497.30 640.43,496.34 641.91,496.22" fill="#222"/><polygon points="647.23,494.85 647.79,496.22 649.27,496.34 648.15,497.30 648.49,498.74 647.23,497.97 645.96,498.74 646.30,497.30 645.18,496.34 646.66,496.22" fill="#222"/><polygon points="651.98,494.85 652.54,496.22 654.02,496.34 652.90,497.30 653.24,498.74 651.98,497.97 650.71,498.74 651.05,497.30 649.93,496.34 651.41,496.22" fill="#222"/><polygon points="656.73,494.85 657.29,496.22 658.77,496.34 657.65,497.30 657.99,498.74 656.73,497.97 655.46,498.74 655.80,497.30 654.68,496.34 656.16,496.22" fill="#222"/>
<line x1="636.70" y1="481.60" x2="675.30" y2="481.60" stroke="#b4b4b4" stroke-width="1.2"/>
<text x="656.00" y="478.40" font-size="8.3" text-anchor="middle" fill="#222" stroke="#222" stroke-width="0.2">n.s.</text>
<text x="590.70" y="563.50" font-size="9.3" text-anchor="middle" fill="#222" stroke="#222" stroke-width="0.2" transform="rotate(-90 590.70 563.50)" textLength="61.7" lengthAdjust="spacing">Cell area (μm<tspan font-size="5.5" dy="-3">2</tspan><tspan dy="3">)</tspan></text>
<text x="639.10" y="620.20" font-size="8.3" text-anchor="end" fill="#222" stroke="#222" stroke-width="0.2" transform="rotate(-45 639.10 620.20)">siCtrl</text>
<text x="651.90" y="620.20" font-size="8.3" text-anchor="end" fill="#222" stroke="#222" stroke-width="0.2" transform="rotate(-45 651.90 620.20)">siRAC1</text>
<text x="665.00" y="620.20" font-size="8.3" text-anchor="end" fill="#222" stroke="#222" stroke-width="0.2" transform="rotate(-45 665.00 620.20)">siRCC2 #2</text>
<text x="678.00" y="620.20" font-size="8.3" text-anchor="end" fill="#222" stroke="#222" stroke-width="0.2" transform="rotate(-45 678.00 620.20)">siRAC1 + siRCC2 #2</text>
<text x="-0.50" y="694.20" font-size="14.3" text-anchor="start" fill="#000" font-weight="bold">k</text>
<line x1="38.50" y1="726.80" x2="38.50" y2="822.00" stroke="#555" stroke-width="0.8"/>
<line x1="38.10" y1="821.60" x2="92.90" y2="821.60" stroke="#555" stroke-width="0.8"/>
<line x1="34.50" y1="726.80" x2="38.50" y2="726.80" stroke="#555" stroke-width="0.8"/>
<text x="31.10" y="729.40" font-size="8.3" text-anchor="end" fill="#222" stroke="#222" stroke-width="0.2" textLength="12.96" lengthAdjust="spacing">100</text>
<line x1="34.50" y1="745.50" x2="38.50" y2="745.50" stroke="#555" stroke-width="0.8"/>
<text x="31.10" y="748.10" font-size="8.3" text-anchor="end" fill="#222" stroke="#222" stroke-width="0.2" textLength="9.24" lengthAdjust="spacing">80</text>
<line x1="34.50" y1="764.80" x2="38.50" y2="764.80" stroke="#555" stroke-width="0.8"/>
<text x="31.10" y="767.40" font-size="8.3" text-anchor="end" fill="#222" stroke="#222" stroke-width="0.2" textLength="9.24" lengthAdjust="spacing">60</text>
<line x1="34.50" y1="783.60" x2="38.50" y2="783.60" stroke="#555" stroke-width="0.8"/>
<text x="31.10" y="786.20" font-size="8.3" text-anchor="end" fill="#222" stroke="#222" stroke-width="0.2" textLength="9.24" lengthAdjust="spacing">40</text>
<line x1="34.50" y1="802.50" x2="38.50" y2="802.50" stroke="#555" stroke-width="0.8"/>
<text x="31.10" y="805.10" font-size="8.3" text-anchor="end" fill="#222" stroke="#222" stroke-width="0.2" textLength="9.24" lengthAdjust="spacing">20</text>
<line x1="34.50" y1="821.60" x2="38.50" y2="821.60" stroke="#555" stroke-width="0.8"/>
<text x="31.10" y="824.20" font-size="8.3" text-anchor="end" fill="#222" stroke="#222" stroke-width="0.2" textLength="4.62" lengthAdjust="spacing">0</text>
<rect x="43.00" y="784.90" width="8.20" height="36.70" fill="#9c9c9c" stroke="#444" stroke-width="0.6"/>
<line x1="47.10" y1="821.60" x2="47.10" y2="825.60" stroke="#555" stroke-width="0.8"/>
<line x1="47.10" y1="781.00" x2="47.10" y2="789.00" stroke="#333" stroke-width="0.6"/>
<line x1="45.50" y1="781.00" x2="48.70" y2="781.00" stroke="#333" stroke-width="0.6"/>
<line x1="45.50" y1="789.00" x2="48.70" y2="789.00" stroke="#333" stroke-width="0.6"/>
<circle cx="44.70" cy="776.10" r="1.6" fill="#fff" stroke="#222" stroke-width="0.75"/>
<circle cx="49.30" cy="782.70" r="1.6" fill="#fff" stroke="#222" stroke-width="0.75"/>
<circle cx="46.50" cy="783.70" r="1.6" fill="#fff" stroke="#222" stroke-width="0.75"/>
<circle cx="48.30" cy="788.40" r="1.6" fill="#fff" stroke="#222" stroke-width="0.75"/>
<circle cx="45.30" cy="792.20" r="1.6" fill="#fff" stroke="#222" stroke-width="0.75"/>
<rect x="56.30" y="791.60" width="8.10" height="30.00" fill="#9c9c9c" stroke="#444" stroke-width="0.6"/>
<line x1="60.35" y1="821.60" x2="60.35" y2="825.60" stroke="#555" stroke-width="0.8"/>
<line x1="60.35" y1="789.50" x2="60.35" y2="793.50" stroke="#333" stroke-width="0.6"/>
<line x1="58.75" y1="789.50" x2="61.95" y2="789.50" stroke="#333" stroke-width="0.6"/>
<line x1="58.75" y1="793.50" x2="61.95" y2="793.50" stroke="#333" stroke-width="0.6"/>
<circle cx="57.95" cy="788.40" r="1.6" fill="#fff" stroke="#222" stroke-width="0.75"/>
<circle cx="62.55" cy="789.30" r="1.6" fill="#fff" stroke="#222" stroke-width="0.75"/>
<circle cx="59.75" cy="790.50" r="1.6" fill="#fff" stroke="#222" stroke-width="0.75"/>
<circle cx="61.55" cy="796.00" r="1.6" fill="#fff" stroke="#222" stroke-width="0.75"/>
<rect x="69.30" y="755.30" width="8.20" height="66.30" fill="#fb9d9d" stroke="#444" stroke-width="0.6"/>
<line x1="73.40" y1="821.60" x2="73.40" y2="825.60" stroke="#555" stroke-width="0.8"/>
<line x1="73.40" y1="748.00" x2="73.40" y2="762.00" stroke="#333" stroke-width="0.6"/>
<line x1="71.80" y1="748.00" x2="75.00" y2="748.00" stroke="#333" stroke-width="0.6"/>
<line x1="71.80" y1="762.00" x2="75.00" y2="762.00" stroke="#333" stroke-width="0.6"/>
<circle cx="71.00" cy="739.10" r="1.6" fill="#fff" stroke="#222" stroke-width="0.75"/>
<circle cx="75.60" cy="742.90" r="1.6" fill="#fff" stroke="#222" stroke-width="0.75"/>
<circle cx="72.80" cy="752.40" r="1.6" fill="#fff" stroke="#222" stroke-width="0.75"/>
<circle cx="74.60" cy="761.90" r="1.6" fill="#fff" stroke="#222" stroke-width="0.75"/>
<circle cx="71.60" cy="776.10" r="1.6" fill="#fff" stroke="#222" stroke-width="0.75"/>
<rect x="82.60" y="774.00" width="8.10" height="47.60" fill="#fb9d9d" stroke="#444" stroke-width="0.6"/>
<line x1="86.65" y1="821.60" x2="86.65" y2="825.60" stroke="#555" stroke-width="0.8"/>
<line x1="86.65" y1="770.00" x2="86.65" y2="778.00" stroke="#333" stroke-width="0.6"/>
<line x1="85.05" y1="770.00" x2="88.25" y2="770.00" stroke="#333" stroke-width="0.6"/>
<line x1="85.05" y1="778.00" x2="88.25" y2="778.00" stroke="#333" stroke-width="0.6"/>
<circle cx="84.25" cy="762.80" r="1.6" fill="#fff" stroke="#222" stroke-width="0.75"/>
<circle cx="88.85" cy="768.50" r="1.6" fill="#fff" stroke="#222" stroke-width="0.75"/>
<circle cx="86.05" cy="769.50" r="1.6" fill="#fff" stroke="#222" stroke-width="0.75"/>
<circle cx="87.85" cy="780.80" r="1.6" fill="#fff" stroke="#222" stroke-width="0.75"/>
<circle cx="84.85" cy="781.50" r="1.6" fill="#fff" stroke="#222" stroke-width="0.75"/>
<line x1="47.20" y1="727.50" x2="59.90" y2="727.50" stroke="#b4b4b4" stroke-width="1.2"/>
<text x="53.55" y="724.30" font-size="8.3" text-anchor="middle" fill="#222" stroke="#222" stroke-width="0.2">n.s.</text>
<line x1="73.50" y1="727.50" x2="86.60" y2="727.50" stroke="#b4b4b4" stroke-width="1.2"/>
<polygon points="80.05,720.85 80.62,722.22 82.09,722.34 80.97,723.30 81.31,724.74 80.05,723.97 78.79,724.74 79.13,723.30 78.01,722.34 79.48,722.22" fill="#222"/>
<line x1="47.20" y1="709.00" x2="73.10" y2="709.00" stroke="#b4b4b4" stroke-width="1.2"/>
<polygon points="55.40,702.35 55.97,703.72 57.44,703.84 56.32,704.80 56.66,706.24 55.40,705.47 54.14,706.24 54.48,704.80 53.36,703.84 54.83,703.72" fill="#222"/><polygon points="60.15,702.35 60.72,703.72 62.19,703.84 61.07,704.80 61.41,706.24 60.15,705.47 58.89,706.24 59.23,704.80 58.11,703.84 59.58,703.72" fill="#222"/><polygon points="64.90,702.35 65.47,703.72 66.94,703.84 65.82,704.80 66.16,706.24 64.90,705.47 63.64,706.24 63.98,704.80 62.86,703.84 64.33,703.72" fill="#222"/>
<line x1="47.20" y1="695.80" x2="86.60" y2="695.80" stroke="#b4b4b4" stroke-width="1.2"/>
<text x="66.90" y="692.60" font-size="8.3" text-anchor="middle" fill="#222" stroke="#222" stroke-width="0.2">n.s.</text>
<text x="11.90" y="773.70" font-size="9.3" text-anchor="middle" fill="#222" stroke="#222" stroke-width="0.2" transform="rotate(-90 11.90 773.70)" textLength="48.4" lengthAdjust="spacing">FAs per cell</text>
<text x="0.50" y="836.30" font-size="8.3" text-anchor="start" fill="#222" stroke="#222" stroke-width="0.2">siALDOA:</text>
<text x="47.10" y="836.30" font-size="8.3" text-anchor="middle" fill="#222" stroke="#222" stroke-width="0.2">–</text>
<text x="60.30" y="836.30" font-size="8.3" text-anchor="middle" fill="#222" stroke="#222" stroke-width="0.2">–</text>
<text x="73.50" y="836.30" font-size="8.3" text-anchor="middle" fill="#222" stroke="#222" stroke-width="0.2">+</text>
<text x="86.60" y="836.30" font-size="8.3" text-anchor="middle" fill="#222" stroke="#222" stroke-width="0.2">+</text>
<text x="49.40" y="846.00" font-size="8.3" text-anchor="end" fill="#222" stroke="#222" stroke-width="0.2" transform="rotate(-45 49.40 846.00)">GFP</text>
<text x="62.60" y="846.00" font-size="8.3" text-anchor="end" fill="#222" stroke="#222" stroke-width="0.2" transform="rotate(-45 62.60 846.00)">GFP–RCC2</text>
<text x="75.80" y="846.00" font-size="8.3" text-anchor="end" fill="#222" stroke="#222" stroke-width="0.2" transform="rotate(-45 75.80 846.00)">GFP</text>
<text x="88.90" y="846.00" font-size="8.3" text-anchor="end" fill="#222" stroke="#222" stroke-width="0.2" transform="rotate(-45 88.90 846.00)">GFP–RCC2</text>
<text x="117.80" y="693.30" font-size="14.3" text-anchor="start" fill="#000" font-weight="bold">l</text>
<line x1="160.70" y1="731.60" x2="160.70" y2="822.00" stroke="#555" stroke-width="0.8"/>
<line x1="160.30" y1="821.60" x2="217.30" y2="821.60" stroke="#555" stroke-width="0.8"/>
<line x1="156.70" y1="731.60" x2="160.70" y2="731.60" stroke="#555" stroke-width="0.8"/>
<text x="153.30" y="734.20" font-size="8.3" text-anchor="end" fill="#222" stroke="#222" stroke-width="0.2" textLength="21.65" lengthAdjust="spacing">5,000</text>
<line x1="156.70" y1="749.40" x2="160.70" y2="749.40" stroke="#555" stroke-width="0.8"/>
<text x="153.30" y="752.00" font-size="8.3" text-anchor="end" fill="#222" stroke="#222" stroke-width="0.2" textLength="21.65" lengthAdjust="spacing">4,000</text>
<line x1="156.70" y1="767.30" x2="160.70" y2="767.30" stroke="#555" stroke-width="0.8"/>
<text x="153.30" y="769.90" font-size="8.3" text-anchor="end" fill="#222" stroke="#222" stroke-width="0.2" textLength="21.65" lengthAdjust="spacing">3,000</text>
<line x1="156.70" y1="785.40" x2="160.70" y2="785.40" stroke="#555" stroke-width="0.8"/>
<text x="153.30" y="788.00" font-size="8.3" text-anchor="end" fill="#222" stroke="#222" stroke-width="0.2" textLength="21.65" lengthAdjust="spacing">2,000</text>
<line x1="156.70" y1="803.70" x2="160.70" y2="803.70" stroke="#555" stroke-width="0.8"/>
<text x="153.30" y="806.30" font-size="8.3" text-anchor="end" fill="#222" stroke="#222" stroke-width="0.2" textLength="20.74" lengthAdjust="spacing">1,000</text>
<line x1="156.70" y1="821.60" x2="160.70" y2="821.60" stroke="#555" stroke-width="0.8"/>
<text x="153.30" y="824.20" font-size="8.3" text-anchor="end" fill="#222" stroke="#222" stroke-width="0.2" textLength="4.62" lengthAdjust="spacing">0</text>
<rect x="168.10" y="786.60" width="7.50" height="35.00" fill="#9c9c9c" stroke="#444" stroke-width="0.6"/>
<line x1="171.85" y1="821.60" x2="171.85" y2="825.60" stroke="#555" stroke-width="0.8"/>
<line x1="171.85" y1="783.50" x2="171.85" y2="790.00" stroke="#333" stroke-width="0.6"/>
<line x1="170.25" y1="783.50" x2="173.45" y2="783.50" stroke="#333" stroke-width="0.6"/>
<line x1="170.25" y1="790.00" x2="173.45" y2="790.00" stroke="#333" stroke-width="0.6"/>
<circle cx="169.45" cy="777.00" r="1.6" fill="#fff" stroke="#222" stroke-width="0.75"/>
<circle cx="174.05" cy="783.00" r="1.6" fill="#fff" stroke="#222" stroke-width="0.75"/>
<circle cx="171.25" cy="785.50" r="1.6" fill="#fff" stroke="#222" stroke-width="0.75"/>
<circle cx="173.05" cy="790.50" r="1.6" fill="#fff" stroke="#222" stroke-width="0.75"/>
<circle cx="170.05" cy="794.00" r="1.6" fill="#fff" stroke="#222" stroke-width="0.75"/>
<rect x="180.20" y="791.80" width="7.80" height="29.80" fill="#9c9c9c" stroke="#444" stroke-width="0.6"/>
<line x1="184.10" y1="821.60" x2="184.10" y2="825.60" stroke="#555" stroke-width="0.8"/>
<line x1="184.10" y1="789.50" x2="184.10" y2="794.00" stroke="#333" stroke-width="0.6"/>
<line x1="182.50" y1="789.50" x2="185.70" y2="789.50" stroke="#333" stroke-width="0.6"/>
<line x1="182.50" y1="794.00" x2="185.70" y2="794.00" stroke="#333" stroke-width="0.6"/>
<circle cx="181.70" cy="787.50" r="1.6" fill="#fff" stroke="#222" stroke-width="0.75"/>
<circle cx="186.30" cy="788.50" r="1.6" fill="#fff" stroke="#222" stroke-width="0.75"/>
<circle cx="183.50" cy="790.00" r="1.6" fill="#fff" stroke="#222" stroke-width="0.75"/>
<circle cx="185.30" cy="793.50" r="1.6" fill="#fff" stroke="#222" stroke-width="0.75"/>
<circle cx="182.30" cy="796.50" r="1.6" fill="#fff" stroke="#222" stroke-width="0.75"/>
<rect x="193.00" y="754.00" width="7.80" height="67.60" fill="#fb9d9d" stroke="#444" stroke-width="0.6"/>
<line x1="196.90" y1="821.60" x2="196.90" y2="825.60" stroke="#555" stroke-width="0.8"/>
<line x1="196.90" y1="749.00" x2="196.90" y2="759.00" stroke="#333" stroke-width="0.6"/>
<line x1="195.30" y1="749.00" x2="198.50" y2="749.00" stroke="#333" stroke-width="0.6"/>
<line x1="195.30" y1="759.00" x2="198.50" y2="759.00" stroke="#333" stroke-width="0.6"/>
<circle cx="194.50" cy="740.00" r="1.6" fill="#fff" stroke="#222" stroke-width="0.75"/>
<circle cx="199.10" cy="745.00" r="1.6" fill="#fff" stroke="#222" stroke-width="0.75"/>
<circle cx="196.30" cy="752.00" r="1.6" fill="#fff" stroke="#222" stroke-width="0.75"/>
<circle cx="198.10" cy="760.00" r="1.6" fill="#fff" stroke="#222" stroke-width="0.75"/>
<circle cx="195.10" cy="767.00" r="1.6" fill="#fff" stroke="#222" stroke-width="0.75"/>
<rect x="205.40" y="776.20" width="7.80" height="45.40" fill="#fb9d9d" stroke="#444" stroke-width="0.6"/>
<line x1="209.30" y1="821.60" x2="209.30" y2="825.60" stroke="#555" stroke-width="0.8"/>
<line x1="209.30" y1="772.00" x2="209.30" y2="780.50" stroke="#333" stroke-width="0.6"/>
<line x1="207.70" y1="772.00" x2="210.90" y2="772.00" stroke="#333" stroke-width="0.6"/>
<line x1="207.70" y1="780.50" x2="210.90" y2="780.50" stroke="#333" stroke-width="0.6"/>
<circle cx="206.90" cy="765.00" r="1.6" fill="#fff" stroke="#222" stroke-width="0.75"/>
<circle cx="211.50" cy="769.00" r="1.6" fill="#fff" stroke="#222" stroke-width="0.75"/>
<circle cx="208.70" cy="777.00" r="1.6" fill="#fff" stroke="#222" stroke-width="0.75"/>
<circle cx="210.50" cy="780.50" r="1.6" fill="#fff" stroke="#222" stroke-width="0.75"/>
<circle cx="207.50" cy="783.00" r="1.6" fill="#fff" stroke="#222" stroke-width="0.75"/>
<line x1="172.20" y1="729.30" x2="184.30" y2="729.30" stroke="#b4b4b4" stroke-width="1.2"/>
<text x="178.25" y="726.10" font-size="8.3" text-anchor="middle" fill="#222" stroke="#222" stroke-width="0.2">n.s.</text>
<line x1="196.20" y1="729.30" x2="209.30" y2="729.30" stroke="#b4b4b4" stroke-width="1.2"/>
<polygon points="198.00,722.65 198.57,724.02 200.04,724.14 198.92,725.10 199.26,726.54 198.00,725.77 196.74,726.54 197.08,725.10 195.96,724.14 197.43,724.02" fill="#222"/><polygon points="202.75,722.65 203.32,724.02 204.79,724.14 203.67,725.10 204.01,726.54 202.75,725.77 201.49,726.54 201.83,725.10 200.71,724.14 202.18,724.02" fill="#222"/><polygon points="207.50,722.65 208.07,724.02 209.54,724.14 208.42,725.10 208.76,726.54 207.50,725.77 206.24,726.54 206.58,725.10 205.46,724.14 206.93,724.02" fill="#222"/>
<line x1="172.20" y1="712.80" x2="196.20" y2="712.80" stroke="#b4b4b4" stroke-width="1.2"/>
<polygon points="177.07,706.15 177.64,707.52 179.12,707.64 178.00,708.60 178.34,710.04 177.07,709.27 175.81,710.04 176.15,708.60 175.03,707.64 176.51,707.52" fill="#222"/><polygon points="181.82,706.15 182.39,707.52 183.87,707.64 182.75,708.60 183.09,710.04 181.82,709.27 180.56,710.04 180.90,708.60 179.78,707.64 181.26,707.52" fill="#222"/><polygon points="186.57,706.15 187.14,707.52 188.62,707.64 187.50,708.60 187.84,710.04 186.57,709.27 185.31,710.04 185.65,708.60 184.53,707.64 186.01,707.52" fill="#222"/><polygon points="191.32,706.15 191.89,707.52 193.37,707.64 192.25,708.60 192.59,710.04 191.32,709.27 190.06,710.04 190.40,708.60 189.28,707.64 190.76,707.52" fill="#222"/>
<line x1="172.20" y1="696.00" x2="209.30" y2="696.00" stroke="#b4b4b4" stroke-width="1.2"/>
<text x="190.75" y="692.80" font-size="8.3" text-anchor="middle" fill="#222" stroke="#222" stroke-width="0.2">n.s.</text>
<text x="125.50" y="777.40" font-size="9.3" text-anchor="middle" fill="#222" stroke="#222" stroke-width="0.2" transform="rotate(-90 125.50 777.40)" textLength="61.7" lengthAdjust="spacing">Cell area (μm<tspan font-size="5.5" dy="-3">2</tspan><tspan dy="3">)</tspan></text>
<text x="128.60" y="834.30" font-size="8.3" text-anchor="start" fill="#222" stroke="#222" stroke-width="0.2">siALDOA:</text>
<text x="171.90" y="834.30" font-size="8.3" text-anchor="middle" fill="#222" stroke="#222" stroke-width="0.2">–</text>
<text x="184.10" y="834.30" font-size="8.3" text-anchor="middle" fill="#222" stroke="#222" stroke-width="0.2">–</text>
<text x="196.90" y="834.30" font-size="8.3" text-anchor="middle" fill="#222" stroke="#222" stroke-width="0.2">+</text>
<text x="209.30" y="834.30" font-size="8.3" text-anchor="middle" fill="#222" stroke="#222" stroke-width="0.2">+</text>
<text x="174.20" y="845.00" font-size="8.3" text-anchor="end" fill="#222" stroke="#222" stroke-width="0.2" transform="rotate(-45 174.20 845.00)">GFP</text>
<text x="186.40" y="845.00" font-size="8.3" text-anchor="end" fill="#222" stroke="#222" stroke-width="0.2" transform="rotate(-45 186.40 845.00)">GFP–RCC2</text>
<text x="199.20" y="845.00" font-size="8.3" text-anchor="end" fill="#222" stroke="#222" stroke-width="0.2" transform="rotate(-45 199.20 845.00)">GFP</text>
<text x="211.60" y="845.00" font-size="8.3" text-anchor="end" fill="#222" stroke="#222" stroke-width="0.2" transform="rotate(-45 211.60 845.00)">GFP–RCC2</text>
<text x="588.30" y="694.20" font-size="14.3" text-anchor="start" fill="#000" font-weight="bold">n</text>
<line x1="634.60" y1="724.20" x2="634.60" y2="822.40" stroke="#555" stroke-width="0.8"/>
<line x1="634.20" y1="822.00" x2="663.70" y2="822.00" stroke="#555" stroke-width="0.8"/>
<line x1="630.60" y1="724.20" x2="634.60" y2="724.20" stroke="#555" stroke-width="0.8"/>
<text x="627.20" y="726.80" font-size="8.3" text-anchor="end" fill="#222" stroke="#222" stroke-width="0.2" textLength="10.86" lengthAdjust="spacing">1.0</text>
<line x1="630.60" y1="743.70" x2="634.60" y2="743.70" stroke="#555" stroke-width="0.8"/>
<text x="627.20" y="746.30" font-size="8.3" text-anchor="end" fill="#222" stroke="#222" stroke-width="0.2" textLength="11.77" lengthAdjust="spacing">0.8</text>
<line x1="630.60" y1="763.10" x2="634.60" y2="763.10" stroke="#555" stroke-width="0.8"/>
<text x="627.20" y="765.70" font-size="8.3" text-anchor="end" fill="#222" stroke="#222" stroke-width="0.2" textLength="11.77" lengthAdjust="spacing">0.6</text>
<line x1="630.60" y1="783.10" x2="634.60" y2="783.10" stroke="#555" stroke-width="0.8"/>
<text x="627.20" y="785.70" font-size="8.3" text-anchor="end" fill="#222" stroke="#222" stroke-width="0.2" textLength="11.77" lengthAdjust="spacing">0.4</text>
<line x1="630.60" y1="802.50" x2="634.60" y2="802.50" stroke="#555" stroke-width="0.8"/>
<text x="627.20" y="805.10" font-size="8.3" text-anchor="end" fill="#222" stroke="#222" stroke-width="0.2" textLength="11.77" lengthAdjust="spacing">0.2</text>
<line x1="630.60" y1="822.00" x2="634.60" y2="822.00" stroke="#555" stroke-width="0.8"/>
<text x="627.20" y="824.60" font-size="8.3" text-anchor="end" fill="#222" stroke="#222" stroke-width="0.2" textLength="4.62" lengthAdjust="spacing">0</text>
<rect x="639.20" y="724.20" width="7.30" height="97.80" fill="#9c9c9c" stroke="#444" stroke-width="0.6"/>
<line x1="642.85" y1="822.00" x2="642.85" y2="826.00" stroke="#555" stroke-width="0.8"/>
<circle cx="640.65" cy="724.20" r="1.6" fill="#fff" stroke="#222" stroke-width="0.75"/>
<circle cx="642.85" cy="724.20" r="1.6" fill="#fff" stroke="#222" stroke-width="0.75"/>
<circle cx="645.05" cy="724.20" r="1.6" fill="#fff" stroke="#222" stroke-width="0.75"/>
<rect x="651.80" y="780.80" width="7.30" height="41.20" fill="#2b8da6" stroke="#444" stroke-width="0.6"/>
<line x1="655.45" y1="822.00" x2="655.45" y2="826.00" stroke="#555" stroke-width="0.8"/>
<line x1="655.45" y1="770.00" x2="655.45" y2="792.00" stroke="#333" stroke-width="0.6"/>
<line x1="653.85" y1="770.00" x2="657.05" y2="770.00" stroke="#333" stroke-width="0.6"/>
<line x1="653.85" y1="792.00" x2="657.05" y2="792.00" stroke="#333" stroke-width="0.6"/>
<circle cx="655.45" cy="761.50" r="1.6" fill="#fff" stroke="#222" stroke-width="0.75"/>
<circle cx="655.45" cy="766.30" r="1.6" fill="#fff" stroke="#222" stroke-width="0.75"/>
<circle cx="653.65" cy="778.00" r="1.6" fill="#fff" stroke="#222" stroke-width="0.75"/>
<circle cx="657.25" cy="781.00" r="1.6" fill="#fff" stroke="#222" stroke-width="0.75"/>
<circle cx="655.45" cy="812.00" r="1.6" fill="#fff" stroke="#222" stroke-width="0.75"/>
<line x1="642.40" y1="715.50" x2="655.70" y2="715.50" stroke="#b4b4b4" stroke-width="1.2"/>
<polygon points="646.67,708.85 647.24,710.22 648.72,710.34 647.60,711.30 647.94,712.74 646.67,711.97 645.41,712.74 645.75,711.30 644.63,710.34 646.11,710.22" fill="#222"/><polygon points="651.42,708.85 651.99,710.22 653.47,710.34 652.35,711.30 652.69,712.74 651.42,711.97 650.16,712.74 650.50,711.30 649.38,710.34 650.86,710.22" fill="#222"/>
<text x="597.30" y="772.80" font-size="9.3" text-anchor="middle" fill="#222" stroke="#222" stroke-width="0.2" transform="rotate(-90 597.30 772.80)">Relative</text>
<text x="607.00" y="772.20" font-size="9.3" text-anchor="middle" fill="#222" stroke="#222" stroke-width="0.2" transform="rotate(-90 607.00 772.20)">GST-rac1 intensity</text>
<text x="646.30" y="834.00" font-size="8.3" text-anchor="end" fill="#222" stroke="#222" stroke-width="0.2" transform="rotate(-45 646.30 834.00)">GFP–RCC2</text>
<text x="658.90" y="834.00" font-size="8.3" text-anchor="end" fill="#222" stroke="#222" stroke-width="0.2" transform="rotate(-45 658.90 834.00)">GFP–RCC2 + FBP</text>
<text x="-0.50" y="261.00" font-size="14.3" text-anchor="start" fill="#000" font-weight="bold">d</text>
<text x="4.60" y="327.00" font-size="8.8" text-anchor="start" fill="#222" stroke="#222" stroke-width="0.2">kDa:</text>
<text x="40.40" y="325.20" font-size="9" text-anchor="start" fill="#222" stroke="#222" stroke-width="0.2" transform="rotate(-45 40.40 325.20)">siCtrl</text>
<text x="69.30" y="325.20" font-size="9" text-anchor="start" fill="#222" stroke="#222" stroke-width="0.2" transform="rotate(-45 69.30 325.20)">siRCC2#1</text>
<text x="99.50" y="325.20" font-size="9" text-anchor="start" fill="#222" stroke="#222" stroke-width="0.2" transform="rotate(-45 99.50 325.20)">siRCC2#2</text>
<g clip-path="url(#cb1)">
<rect x="22.30" y="328.80" width="101.20" height="19.40" fill="#f5f5f5" stroke="none" stroke-width="0"/>
<rect x="32.60" y="337.40" width="19.40" height="3.80" rx="1.90" fill="#0a0a0a" fill-opacity="0.9" filter="url(#bl1)"/>
<rect x="62.90" y="335.10" width="1.60" height="1.60" rx="0.80" fill="#0a0a0a" fill-opacity="0.95" filter="url(#bl1)"/>
<rect x="60.00" y="337.50" width="58.00" height="4.00" rx="2.00" fill="#0a0a0a" fill-opacity="0.05" filter="url(#bl2)"/>
</g>
<rect x="22.30" y="328.80" width="101.20" height="19.40" fill="none" stroke="#333" stroke-width="1.1"/>
<g clip-path="url(#cb2)">
<rect x="22.30" y="353.00" width="101.20" height="19.20" fill="#f5f5f5" stroke="none" stroke-width="0"/>
<rect x="27.60" y="359.30" width="32.40" height="7.00" rx="3.50" fill="#0a0a0a" fill-opacity="0.88" filter="url(#bl2)"/>
<rect x="58.00" y="359.80" width="32.00" height="6.00" rx="3.00" fill="#0a0a0a" fill-opacity="0.78" filter="url(#bl2)"/>
<rect x="86.00" y="359.10" width="28.00" height="7.00" rx="3.50" fill="#0a0a0a" fill-opacity="0.88" filter="url(#bl2)"/>
</g>
<rect x="22.30" y="353.00" width="101.20" height="19.20" fill="none" stroke="#333" stroke-width="1.1"/>
<g clip-path="url(#cb3)">
<rect x="22.30" y="376.60" width="101.20" height="19.70" fill="#f5f5f5" stroke="none" stroke-width="0"/>
<rect x="32.60" y="384.80" width="22.70" height="4.60" rx="2.30" fill="#0a0a0a" fill-opacity="0.75" filter="url(#bl1)"/>
<rect x="61.20" y="384.70" width="22.60" height="4.80" rx="2.40" fill="#0a0a0a" fill-opacity="0.85" filter="url(#bl1)"/>
<rect x="89.70" y="384.50" width="23.50" height="5.00" rx="2.50" fill="#0a0a0a" fill-opacity="0.9" filter="url(#bl1)"/>
<rect x="33.00" y="380.00" width="22.00" height="4.00" rx="2.00" fill="#0a0a0a" fill-opacity="0.1" filter="url(#bl2)"/>
<rect x="61.00" y="380.00" width="23.00" height="4.00" rx="2.00" fill="#0a0a0a" fill-opacity="0.1" filter="url(#bl2)"/>
<rect x="90.00" y="380.00" width="23.00" height="4.00" rx="2.00" fill="#0a0a0a" fill-opacity="0.12" filter="url(#bl2)"/>
</g>
<rect x="22.30" y="376.60" width="101.20" height="19.70" fill="none" stroke="#333" stroke-width="1.1"/>
<line x1="15.80" y1="343.00" x2="22.30" y2="343.00" stroke="#333" stroke-width="0.8"/>
<text x="13.80" y="345.80" font-size="8.3" text-anchor="end" fill="#222" stroke="#222" stroke-width="0.2">55</text>
<line x1="15.80" y1="367.20" x2="22.30" y2="367.20" stroke="#333" stroke-width="0.8"/>
<text x="13.80" y="370.00" font-size="8.3" text-anchor="end" fill="#222" stroke="#222" stroke-width="0.2">40</text>
<line x1="15.80" y1="388.50" x2="22.30" y2="388.50" stroke="#333" stroke-width="0.8"/>
<text x="13.80" y="391.30" font-size="8.3" text-anchor="end" fill="#222" stroke="#222" stroke-width="0.2">180</text>
<text x="126.60" y="343.00" font-size="8.5" text-anchor="start" fill="#222" stroke="#222" stroke-width="0.2">RCC2</text>
<text x="126.60" y="365.60" font-size="8.5" text-anchor="start" fill="#222" stroke="#222" stroke-width="0.2">β-Actin</text>
<text x="126.60" y="389.80" font-size="8.5" text-anchor="start" fill="#222" stroke="#222" stroke-width="0.2">CHC</text>
<text x="254.70" y="480.30" font-size="14.3" text-anchor="start" fill="#000" font-weight="bold">h</text>
<text x="256.60" y="514.80" font-size="8.8" text-anchor="start" fill="#222" stroke="#222" stroke-width="0.2">kDa:</text>
<text x="293.00" y="516.20" font-size="9" text-anchor="start" fill="#222" stroke="#222" stroke-width="0.2" transform="rotate(-45 293.00 516.20)">siCtrl</text>
<text x="323.50" y="516.20" font-size="9" text-anchor="start" fill="#222" stroke="#222" stroke-width="0.2" transform="rotate(-45 323.50 516.20)">siRAC1</text>
<text x="354.30" y="516.20" font-size="9" text-anchor="start" fill="#222" stroke="#222" stroke-width="0.2" transform="rotate(-45 354.30 516.20)">siRCC2</text>
<text x="384.80" y="516.20" font-size="9" text-anchor="start" fill="#222" stroke="#222" stroke-width="0.2" transform="rotate(-45 384.80 516.20)">siRAC1 + siRCC2</text>
<g clip-path="url(#cb4)">
<rect x="273.80" y="520.30" width="130.70" height="24.10" fill="#f5f5f5" stroke="none" stroke-width="0"/>
<rect x="278.20" y="528.25" width="29.60" height="6.50" rx="3.25" fill="#0a0a0a" fill-opacity="0.95" filter="url(#bl1)"/>
<rect x="279.00" y="534.50" width="28.00" height="6.00" rx="3.00" fill="#0a0a0a" fill-opacity="0.35" filter="url(#bl2)"/>
<rect x="311.90" y="528.55" width="20.40" height="4.50" rx="2.25" fill="#0a0a0a" fill-opacity="0.35" filter="url(#bl1)"/>
<rect x="312.00" y="534.50" width="20.00" height="5.00" rx="2.50" fill="#0a0a0a" fill-opacity="0.15" filter="url(#bl2)"/>
<rect x="338.50" y="527.50" width="29.60" height="7.00" rx="3.50" fill="#0a0a0a" fill-opacity="0.97" filter="url(#bl1)"/>
<rect x="339.00" y="534.50" width="29.00" height="6.00" rx="3.00" fill="#0a0a0a" fill-opacity="0.35" filter="url(#bl2)"/>
<rect x="372.20" y="528.75" width="23.50" height="4.50" rx="2.25" fill="#0a0a0a" fill-opacity="0.42" filter="url(#bl1)"/>
<rect x="372.00" y="535.00" width="24.00" height="5.00" rx="2.50" fill="#0a0a0a" fill-opacity="0.2" filter="url(#bl2)"/>
</g>
<rect x="273.80" y="520.30" width="130.70" height="24.10" fill="none" stroke="#333" stroke-width="1.1"/>
<g clip-path="url(#cb5)">
<rect x="273.80" y="550.70" width="130.70" height="23.80" fill="#f5f5f5" stroke="none" stroke-width="0"/>
<rect x="281.20" y="561.00" width="22.50" height="3.20" rx="1.60" fill="#0a0a0a" fill-opacity="0.95" filter="url(#bl1)"/>
<rect x="311.90" y="561.00" width="21.50" height="3.20" rx="1.60" fill="#0a0a0a" fill-opacity="0.92" filter="url(#bl1)"/>
<rect x="340.00" y="561.00" width="58.00" height="4.00" rx="2.00" fill="#0a0a0a" fill-opacity="0.06" filter="url(#bl2)"/>
</g>
<rect x="273.80" y="550.70" width="130.70" height="23.80" fill="none" stroke="#333" stroke-width="1.1"/>
<g clip-path="url(#cb6)">
<rect x="273.80" y="580.90" width="130.70" height="23.80" fill="#f5f5f5" stroke="none" stroke-width="0"/>
<rect x="278.50" y="588.80" width="61.50" height="7.00" rx="3.50" fill="#0a0a0a" fill-opacity="0.78" filter="url(#bl2)"/>
<rect x="338.00" y="589.50" width="34.00" height="6.00" rx="3.00" fill="#0a0a0a" fill-opacity="0.7" filter="url(#bl2)"/>
<rect x="370.00" y="588.55" width="28.50" height="7.50" rx="3.75" fill="#0a0a0a" fill-opacity="0.85" filter="url(#bl2)"/>
<rect x="371.00" y="589.30" width="11.00" height="6.00" rx="3.00" fill="#0a0a0a" fill-opacity="0.9" filter="url(#bl1)"/>
</g>
<rect x="273.80" y="580.90" width="130.70" height="23.80" fill="none" stroke="#333" stroke-width="1.1"/>
<g clip-path="url(#cb7)">
<rect x="273.80" y="611.00" width="130.70" height="23.80" fill="#f5f5f5" stroke="none" stroke-width="0"/>
<rect x="283.30" y="619.30" width="24.50" height="4.80" rx="2.40" fill="#0a0a0a" fill-opacity="0.92" filter="url(#bl1)"/>
<rect x="312.90" y="619.40" width="22.90" height="5.00" rx="2.50" fill="#0a0a0a" fill-opacity="0.95" filter="url(#bl1)"/>
<rect x="341.90" y="619.40" width="23.10" height="5.00" rx="2.50" fill="#0a0a0a" fill-opacity="0.95" filter="url(#bl1)"/>
<rect x="371.20" y="619.30" width="23.90" height="4.80" rx="2.40" fill="#0a0a0a" fill-opacity="0.92" filter="url(#bl1)"/>
<rect x="283.00" y="613.50" width="25.00" height="5.00" rx="2.50" fill="#0a0a0a" fill-opacity="0.12" filter="url(#bl2)"/>
<rect x="313.00" y="613.50" width="23.00" height="5.00" rx="2.50" fill="#0a0a0a" fill-opacity="0.12" filter="url(#bl2)"/>
<rect x="342.00" y="613.50" width="23.00" height="5.00" rx="2.50" fill="#0a0a0a" fill-opacity="0.12" filter="url(#bl2)"/>
<rect x="371.00" y="613.50" width="24.00" height="5.00" rx="2.50" fill="#0a0a0a" fill-opacity="0.12" filter="url(#bl2)"/>
</g>
<rect x="273.80" y="611.00" width="130.70" height="23.80" fill="none" stroke="#333" stroke-width="1.1"/>
<line x1="268.50" y1="524.10" x2="273.80" y2="524.10" stroke="#333" stroke-width="0.8"/>
<text x="265.50" y="526.90" font-size="8.3" text-anchor="end" fill="#222" stroke="#222" stroke-width="0.2">25</text>
<line x1="268.50" y1="564.40" x2="273.80" y2="564.40" stroke="#333" stroke-width="0.8"/>
<text x="265.50" y="567.20" font-size="8.3" text-anchor="end" fill="#222" stroke="#222" stroke-width="0.2">55</text>
<line x1="268.50" y1="597.70" x2="273.80" y2="597.70" stroke="#333" stroke-width="0.8"/>
<text x="265.50" y="600.50" font-size="8.3" text-anchor="end" fill="#222" stroke="#222" stroke-width="0.2">40</text>
<line x1="268.50" y1="621.50" x2="273.80" y2="621.50" stroke="#333" stroke-width="0.8"/>
<text x="265.50" y="624.30" font-size="8.3" text-anchor="end" fill="#222" stroke="#222" stroke-width="0.2">180</text>
<text x="408.70" y="535.70" font-size="8.5" text-anchor="start" fill="#222" stroke="#222" stroke-width="0.2">Rac1</text>
<text x="408.70" y="566.10" font-size="8.5" text-anchor="start" fill="#222" stroke="#222" stroke-width="0.2">RCC2</text>
<text x="408.70" y="595.20" font-size="8.5" text-anchor="start" fill="#222" stroke="#222" stroke-width="0.2">β-Actin</text>
<text x="408.70" y="625.70" font-size="8.5" text-anchor="start" fill="#222" stroke="#222" stroke-width="0.2">CHC</text>
<text x="255.90" y="693.10" font-size="14.3" text-anchor="start" fill="#000" font-weight="bold">m</text>
<text x="288.70" y="753.80" font-size="8.3" text-anchor="start" fill="#222" stroke="#222" stroke-width="0.2" transform="rotate(-45 288.70 753.80)">GFP</text>
<text x="307.40" y="753.80" font-size="8.3" text-anchor="start" fill="#222" stroke="#222" stroke-width="0.2" transform="rotate(-45 307.40 753.80)">GFP–RCC2</text>
<text x="328.40" y="753.80" font-size="8.3" text-anchor="start" fill="#222" stroke="#222" stroke-width="0.2" transform="rotate(-45 328.40 753.80)">GFP</text>
<text x="348.50" y="753.80" font-size="8.3" text-anchor="start" fill="#222" stroke="#222" stroke-width="0.2" transform="rotate(-45 348.50 753.80)">GFP–RCC2</text>
<text x="375.20" y="753.80" font-size="8.3" text-anchor="start" fill="#222" stroke="#222" stroke-width="0.2" transform="rotate(-45 375.20 753.80)">GFP–RCC2 + FBP</text>
<text x="414.90" y="753.80" font-size="8.3" text-anchor="start" fill="#222" stroke="#222" stroke-width="0.2" transform="rotate(-45 414.90 753.80)">GFP</text>
<text x="457.00" y="753.80" font-size="8.3" text-anchor="start" fill="#222" stroke="#222" stroke-width="0.2" transform="rotate(-45 457.00 753.80)">GFP–RCC2</text>
<text x="498.10" y="753.80" font-size="8.3" text-anchor="start" fill="#222" stroke="#222" stroke-width="0.2" transform="rotate(-45 498.10 753.80)">GFP–RCC2 + FBP</text>
<text x="297.20" y="763.40" font-size="8.6" text-anchor="middle" fill="#222" stroke="#222" stroke-width="0.2" textLength="21.5" lengthAdjust="spacing">Input</text>
<line x1="279.40" y1="766.40" x2="316.20" y2="766.40" stroke="#555" stroke-width="0.8"/>
<text x="351.70" y="763.40" font-size="8.6" text-anchor="middle" fill="#222" stroke="#222" stroke-width="0.2" textLength="52.6" lengthAdjust="spacing">Flowthrough</text>
<line x1="319.70" y1="766.40" x2="384.50" y2="766.40" stroke="#555" stroke-width="0.8"/>
<text x="453.80" y="763.40" font-size="8.6" text-anchor="middle" fill="#222" stroke="#222" stroke-width="0.2" textLength="25.6" lengthAdjust="spacing">Eluate</text>
<line x1="401.20" y1="766.40" x2="506.40" y2="766.40" stroke="#555" stroke-width="0.8"/>
<text x="261.00" y="773.80" font-size="8.8" text-anchor="start" fill="#222" stroke="#222" stroke-width="0.2">kDa:</text>
<g clip-path="url(#cb8)">
<rect x="275.00" y="776.70" width="237.00" height="18.70" fill="#f5f5f5" stroke="none" stroke-width="0"/>
<rect x="320.00" y="786.90" width="19.10" height="5.00" rx="2.50" fill="#0a0a0a" fill-opacity="0.95" filter="url(#bl1)"/>
<rect x="341.50" y="786.90" width="18.40" height="5.00" rx="2.50" fill="#0a0a0a" fill-opacity="0.93" filter="url(#bl1)"/>
<rect x="362.40" y="786.90" width="20.40" height="5.00" rx="2.50" fill="#0a0a0a" fill-opacity="0.95" filter="url(#bl1)"/>
<rect x="320.00" y="782.00" width="19.00" height="3.00" rx="1.50" fill="#0a0a0a" fill-opacity="0.15" filter="url(#bl2)"/>
<rect x="341.50" y="782.00" width="18.50" height="3.00" rx="1.50" fill="#0a0a0a" fill-opacity="0.15" filter="url(#bl2)"/>
<rect x="362.00" y="782.00" width="21.00" height="3.00" rx="1.50" fill="#0a0a0a" fill-opacity="0.15" filter="url(#bl2)"/>
<rect x="404.50" y="787.80" width="16.40" height="1.60" rx="0.80" fill="#0a0a0a" fill-opacity="0.12" filter="url(#bl1)"/>
<rect x="447.40" y="786.90" width="16.40" height="3.00" rx="1.50" fill="#0a0a0a" fill-opacity="0.7" filter="url(#bl1)"/>
<rect x="491.40" y="787.30" width="14.30" height="2.60" rx="1.30" fill="#0a0a0a" fill-opacity="0.45" filter="url(#bl1)"/>
</g>
<rect x="275.00" y="776.70" width="237.00" height="18.70" fill="none" stroke="#333" stroke-width="1.1"/>
<g clip-path="url(#cb9)">
<rect x="275.00" y="798.70" width="237.00" height="19.20" fill="#f5f5f5" stroke="none" stroke-width="0"/>
<rect x="302.70" y="805.10" width="14.30" height="2.60" rx="1.30" fill="#0a0a0a" fill-opacity="0.6" filter="url(#bl1)"/>
<rect x="445.40" y="804.25" width="19.40" height="9.50" rx="4.75" fill="#0a0a0a" fill-opacity="1.0" filter="url(#bl1)"/>
<rect x="488.30" y="804.55" width="18.80" height="8.50" rx="4.25" fill="#0a0a0a" fill-opacity="1.0" filter="url(#bl1)"/>
<rect x="445.00" y="802.50" width="20.00" height="2.00" rx="1.00" fill="#0a0a0a" fill-opacity="0.3" filter="url(#bl2)"/>
<rect x="488.00" y="802.50" width="19.00" height="2.00" rx="1.00" fill="#0a0a0a" fill-opacity="0.3" filter="url(#bl2)"/>
</g>
<rect x="275.00" y="798.70" width="237.00" height="19.20" fill="none" stroke="#333" stroke-width="1.1"/>
<g clip-path="url(#cb10)">
<rect x="275.00" y="820.20" width="237.00" height="19.60" fill="#f5f5f5" stroke="none" stroke-width="0"/>
<rect x="277.20" y="826.60" width="19.00" height="5.40" rx="2.70" fill="#0a0a0a" fill-opacity="0.75" filter="url(#bl2)"/>
<rect x="400.40" y="821.60" width="25.00" height="16.00" rx="8.00" fill="#0a0a0a" fill-opacity="1.0" filter="url(#bl2)"/>
<rect x="446.00" y="823.00" width="19.00" height="2.00" rx="1.00" fill="#0a0a0a" fill-opacity="0.2" filter="url(#bl1)"/>
<rect x="489.00" y="823.00" width="19.00" height="2.00" rx="1.00" fill="#0a0a0a" fill-opacity="0.2" filter="url(#bl1)"/>
<rect x="446.00" y="825.00" width="19.00" height="12.00" rx="6.00" fill="#0a0a0a" fill-opacity="0.07" filter="url(#bl2)"/>
<rect x="489.00" y="825.00" width="19.00" height="12.00" rx="6.00" fill="#0a0a0a" fill-opacity="0.07" filter="url(#bl2)"/>
</g>
<rect x="275.00" y="820.20" width="237.00" height="19.60" fill="none" stroke="#333" stroke-width="1.1"/>
<g clip-path="url(#cb11)">
<rect x="275.00" y="842.60" width="237.00" height="18.70" fill="#f5f5f5" stroke="none" stroke-width="0"/>
<rect x="276.10" y="850.70" width="20.10" height="4.20" rx="2.10" fill="#0a0a0a" fill-opacity="0.95" filter="url(#bl1)"/>
<rect x="300.70" y="850.70" width="16.30" height="4.20" rx="2.10" fill="#0a0a0a" fill-opacity="0.92" filter="url(#bl1)"/>
<rect x="321.00" y="850.70" width="16.90" height="4.20" rx="2.10" fill="#0a0a0a" fill-opacity="0.95" filter="url(#bl1)"/>
<rect x="342.60" y="850.70" width="14.90" height="4.20" rx="2.10" fill="#0a0a0a" fill-opacity="0.92" filter="url(#bl1)"/>
<rect x="363.00" y="850.90" width="16.30" height="4.20" rx="2.10" fill="#0a0a0a" fill-opacity="0.95" filter="url(#bl1)"/>
<rect x="276.00" y="844.50" width="20.00" height="5.00" rx="2.50" fill="#0a0a0a" fill-opacity="0.12" filter="url(#bl2)"/>
<rect x="300.70" y="844.50" width="16.30" height="5.00" rx="2.50" fill="#0a0a0a" fill-opacity="0.2" filter="url(#bl2)"/>
<rect x="321.00" y="844.50" width="17.00" height="5.00" rx="2.50" fill="#0a0a0a" fill-opacity="0.12" filter="url(#bl2)"/>
<rect x="342.60" y="844.50" width="14.90" height="5.00" rx="2.50" fill="#0a0a0a" fill-opacity="0.12" filter="url(#bl2)"/>
<rect x="363.00" y="844.50" width="16.00" height="5.00" rx="2.50" fill="#0a0a0a" fill-opacity="0.12" filter="url(#bl2)"/>
<rect x="447.00" y="852.25" width="15.00" height="1.50" rx="0.75" fill="#0a0a0a" fill-opacity="0.12" filter="url(#bl1)"/>
<rect x="490.00" y="852.25" width="15.00" height="1.50" rx="0.75" fill="#0a0a0a" fill-opacity="0.1" filter="url(#bl1)"/>
</g>
<rect x="275.00" y="842.60" width="237.00" height="18.70" fill="none" stroke="#333" stroke-width="1.1"/>
<line x1="271.80" y1="795.50" x2="275.00" y2="795.50" stroke="#333" stroke-width="0.8"/>
<line x1="271.80" y1="805.20" x2="275.00" y2="805.20" stroke="#333" stroke-width="0.8"/>
<line x1="271.80" y1="829.70" x2="275.00" y2="829.70" stroke="#333" stroke-width="0.8"/>
<line x1="271.80" y1="852.80" x2="275.00" y2="852.80" stroke="#333" stroke-width="0.8"/>
<text x="268.30" y="795.80" font-size="8.3" text-anchor="end" fill="#222" stroke="#222" stroke-width="0.2">40</text>
<text x="268.30" y="807.30" font-size="8.3" text-anchor="end" fill="#222" stroke="#222" stroke-width="0.2">100</text>
<text x="268.30" y="831.80" font-size="8.3" text-anchor="end" fill="#222" stroke="#222" stroke-width="0.2">35</text>
<text x="268.30" y="853.80" font-size="8.3" text-anchor="end" fill="#222" stroke="#222" stroke-width="0.2">180</text>
<text x="516.60" y="788.40" font-size="8.3" text-anchor="start" fill="#222" stroke="#222" stroke-width="0.2">GST–Rac1</text>
<text x="516.60" y="810.80" font-size="8.3" text-anchor="start" fill="#222" stroke="#222" stroke-width="0.2">GFP–RCC2</text>
<text x="516.60" y="832.80" font-size="8.3" text-anchor="start" fill="#222" stroke="#222" stroke-width="0.2">GFP</text>
<text x="516.60" y="855.20" font-size="8.3" text-anchor="start" fill="#222" stroke="#222" stroke-width="0.2">CHC</text>
<g clip-path="url(#mic0)">
<rect x="201.20" y="269.00" width="90.20" height="90.60" fill="#07070e" stroke="none" stroke-width="0"/>
<polygon points="201.0,269.0 292.0,269.0 292.0,360.0 201.0,360.0" fill="#55555c" filter="url(#mb1)"/>
<rect x="201.2" y="269.0" width="90.19999999999999" height="90.60000000000002" filter="url(#mnoise)" style="mix-blend-mode:multiply"/>
<polygon points="201.4,269.4 219.2,269.4 217.8,276.2 212.4,283.1 208.2,290.0 205.5,295.4 201.4,298.2" fill="#07070e" fill-opacity="1.0" filter="url(#mb1)"/>
<polygon points="200.0,300.9 208.2,299.6 215.1,303.7 220.6,309.2 222.6,316.0 219.2,322.9 213.7,325.6 206.9,326.3 200.0,324.3" fill="#07070e" fill-opacity="1.0" filter="url(#mb1)"/>
<polygon points="223.3,309.2 234.3,307.8 241.2,310.5 243.9,314.7 239.8,320.1 232.9,322.9 226.1,324.3 222.0,318.8" fill="#07070e" fill-opacity="0.55" filter="url(#mb1)"/>
<polygon points="252.1,325.6 259.0,322.9 271.4,320.1 282.3,316.0 294.7,314.0 294.7,346.2 285.1,348.3 276.8,345.5 265.9,342.8 257.6,340.0 253.5,333.9" fill="#07070e" fill-opacity="1.0" filter="url(#mb1)"/>
<polygon points="200.0,342.1 208.2,341.4 216.5,345.5 222.6,353.1 224.7,362.7 200.0,362.7" fill="#07070e" fill-opacity="1.0" filter="url(#mb1)"/>
<polygon points="254.9,270.1 261.1,270.1 262.4,279.0 259.0,284.5 254.9,279.0" fill="#07070e" fill-opacity="0.9" filter="url(#mb1)"/>
<polygon points="257.6,299.6 265.9,298.2 268.6,303.7 264.5,309.2 259.0,307.8" fill="#07070e" fill-opacity="0.9" filter="url(#mb1)"/>
<polygon points="274.1,351.7 294.7,350.3 294.7,362.7 276.8,362.7" fill="#07070e" fill-opacity="0.6" filter="url(#mb1)"/>
<path d="M241.7 319.5h0.9v0.9h-0.9zM209.2 296.2h0.7v0.7h-0.7zM263.7 272.4h0.8v0.8h-0.8zM290.0 356.5h0.7v0.7h-0.7zM248.8 274.2h0.5v0.5h-0.5zM217.9 290.6h0.8v0.8h-0.8zM246.2 329.0h0.5v0.5h-0.5zM229.4 289.6h0.7v0.7h-0.7zM270.3 305.0h0.8v0.8h-0.8zM200.8 287.8h0.5v0.5h-0.5zM207.2 325.9h0.8v0.8h-0.8zM218.0 335.2h0.8v0.8h-0.8zM227.6 275.4h0.7v0.7h-0.7zM234.5 309.9h0.7v0.7h-0.7zM252.9 347.5h0.8v0.8h-0.8zM217.3 282.7h0.6v0.6h-0.6zM241.3 274.2h0.6v0.6h-0.6zM216.7 302.2h0.7v0.7h-0.7zM267.8 350.6h0.6v0.6h-0.6zM232.6 330.9h0.8v0.8h-0.8zM291.0 348.6h0.9v0.9h-0.9zM256.5 352.3h0.9v0.9h-0.9zM224.0 269.7h0.6v0.6h-0.6zM228.0 330.3h0.7v0.7h-0.7zM219.0 284.0h0.9v0.9h-0.9zM276.9 346.0h0.5v0.5h-0.5zM220.1 306.3h0.8v0.8h-0.8zM289.9 309.7h0.9v0.9h-0.9zM263.0 286.9h0.6v0.6h-0.6zM264.2 316.1h0.5v0.5h-0.5zM236.6 340.8h0.5v0.5h-0.5zM283.1 276.6h0.7v0.7h-0.7zM234.8 320.3h0.9v0.9h-0.9zM266.3 343.1h0.8v0.8h-0.8zM213.4 282.2h0.7v0.7h-0.7zM287.1 276.5h0.6v0.6h-0.6zM263.5 274.7h0.7v0.7h-0.7zM287.9 352.8h0.4v0.4h-0.4zM233.0 325.1h0.6v0.6h-0.6zM210.2 335.2h0.6v0.6h-0.6zM234.9 306.3h0.6v0.6h-0.6zM219.2 326.1h0.7v0.7h-0.7zM281.4 280.8h0.8v0.8h-0.8zM224.3 277.5h0.6v0.6h-0.6zM272.6 280.2h0.5v0.5h-0.5zM237.3 331.0h0.6v0.6h-0.6zM262.8 351.6h0.6v0.6h-0.6zM246.5 331.2h0.5v0.5h-0.5zM270.3 305.6h0.6v0.6h-0.6zM231.8 311.4h0.6v0.6h-0.6zM260.8 320.6h0.5v0.5h-0.5zM274.3 275.6h0.6v0.6h-0.6zM286.8 307.0h0.5v0.5h-0.5zM227.5 269.9h0.8v0.8h-0.8zM223.1 272.6h0.5v0.5h-0.5zM215.0 337.4h0.5v0.5h-0.5zM290.6 354.6h0.7v0.7h-0.7zM239.7 312.0h0.9v0.9h-0.9zM289.3 290.9h0.6v0.6h-0.6zM248.2 353.9h0.8v0.8h-0.8zM257.5 310.2h0.6v0.6h-0.6zM291.5 355.4h0.5v0.5h-0.5zM267.4 290.3h0.8v0.8h-0.8zM263.0 320.1h0.7v0.7h-0.7zM284.1 348.7h0.6v0.6h-0.6zM234.6 312.2h0.7v0.7h-0.7zM274.5 302.3h0.5v0.5h-0.5zM230.3 318.6h0.6v0.6h-0.6zM268.7 352.6h0.5v0.5h-0.5zM263.0 295.8h0.8v0.8h-0.8zM271.2 275.5h0.8v0.8h-0.8zM234.0 279.4h0.6v0.6h-0.6zM283.8 308.5h0.7v0.7h-0.7zM285.6 350.0h0.9v0.9h-0.9zM223.2 301.5h0.9v0.9h-0.9zM233.8 301.6h0.9v0.9h-0.9zM280.9 294.4h0.5v0.5h-0.5zM250.3 340.3h0.9v0.9h-0.9zM208.3 326.3h0.8v0.8h-0.8zM259.7 290.9h0.8v0.8h-0.8zM248.0 338.1h0.9v0.9h-0.9zM236.6 299.4h0.6v0.6h-0.6zM219.3 307.4h0.6v0.6h-0.6zM217.4 288.4h0.8v0.8h-0.8zM222.1 333.9h0.7v0.7h-0.7zM274.9 312.2h0.9v0.9h-0.9zM283.8 299.7h0.8v0.8h-0.8zM234.6 341.3h0.5v0.5h-0.5zM229.8 292.2h0.9v0.9h-0.9zM225.0 317.4h0.5v0.5h-0.5zM208.1 293.2h0.8v0.8h-0.8zM265.9 277.5h0.6v0.6h-0.6zM229.0 296.9h0.7v0.7h-0.7zM207.7 296.6h0.5v0.5h-0.5zM242.7 356.7h0.7v0.7h-0.7zM273.3 287.4h0.9v0.9h-0.9zM234.9 317.8h0.7v0.7h-0.7zM236.5 329.4h0.5v0.5h-0.5zM224.0 286.9h0.6v0.6h-0.6zM237.1 332.3h0.7v0.7h-0.7zM247.1 340.5h0.5v0.5h-0.5zM215.0 338.3h0.8v0.8h-0.8zM232.8 314.3h0.5v0.5h-0.5zM257.8 286.7h0.5v0.5h-0.5zM230.7 353.3h0.6v0.6h-0.6zM260.6 296.7h0.6v0.6h-0.6zM273.9 270.2h0.5v0.5h-0.5zM252.4 284.4h0.8v0.8h-0.8zM252.1 351.0h0.8v0.8h-0.8zM248.4 316.3h0.9v0.9h-0.9zM239.9 350.9h0.8v0.8h-0.8zM229.8 273.6h0.8v0.8h-0.8zM266.8 350.7h0.5v0.5h-0.5zM269.1 296.4h0.6v0.6h-0.6zM222.1 274.9h0.7v0.7h-0.7zM239.1 342.0h0.6v0.6h-0.6zM252.1 350.8h0.9v0.9h-0.9zM287.3 268.8h0.5v0.5h-0.5zM222.8 295.8h0.8v0.8h-0.8zM230.1 274.3h0.8v0.8h-0.8zM243.7 287.5h0.5v0.5h-0.5zM282.3 286.5h0.7v0.7h-0.7zM280.6 359.1h0.9v0.9h-0.9zM266.8 297.2h0.6v0.6h-0.6zM282.6 347.8h0.7v0.7h-0.7zM265.5 280.9h0.8v0.8h-0.8zM217.2 290.1h0.6v0.6h-0.6zM248.9 272.8h0.7v0.7h-0.7zM208.7 294.7h0.5v0.5h-0.5zM226.1 318.5h0.7v0.7h-0.7zM242.7 337.0h0.6v0.6h-0.6zM251.4 327.5h0.5v0.5h-0.5zM246.7 345.6h0.6v0.6h-0.6zM262.9 316.0h0.7v0.7h-0.7zM287.3 284.5h0.7v0.7h-0.7zM240.8 339.1h0.5v0.5h-0.5zM220.8 321.5h0.6v0.6h-0.6zM257.1 316.4h0.8v0.8h-0.8zM242.1 336.5h0.6v0.6h-0.6zM242.7 353.5h0.6v0.6h-0.6zM231.8 331.8h0.8v0.8h-0.8zM236.5 345.4h0.6v0.6h-0.6zM235.2 339.7h0.9v0.9h-0.9zM217.3 292.6h0.6v0.6h-0.6zM283.1 270.4h0.8v0.8h-0.8zM230.2 338.7h0.8v0.8h-0.8zM247.9 273.6h0.7v0.7h-0.7zM250.3 281.1h0.5v0.5h-0.5zM265.0 292.4h0.6v0.6h-0.6zM214.0 287.2h0.9v0.9h-0.9zM227.2 300.0h0.7v0.7h-0.7zM279.6 290.0h0.8v0.8h-0.8zM239.6 304.4h0.6v0.6h-0.6zM222.4 277.0h0.9v0.9h-0.9zM264.3 270.7h0.8v0.8h-0.8zM254.1 311.4h0.5v0.5h-0.5zM230.2 291.6h0.8v0.8h-0.8zM256.7 355.6h0.6v0.6h-0.6zM233.7 321.2h0.5v0.5h-0.5zM283.5 272.2h0.5v0.5h-0.5zM236.5 290.4h0.8v0.8h-0.8zM250.6 325.5h0.5v0.5h-0.5zM251.6 344.2h0.8v0.8h-0.8zM254.0 354.3h0.7v0.7h-0.7zM258.1 304.7h0.8v0.8h-0.8zM205.1 333.6h0.7v0.7h-0.7zM249.9 312.5h0.9v0.9h-0.9zM226.5 304.3h0.7v0.7h-0.7zM263.7 318.3h0.8v0.8h-0.8zM273.4 282.0h0.8v0.8h-0.8zM216.6 278.4h0.6v0.6h-0.6zM245.0 279.5h0.9v0.9h-0.9zM230.0 270.3h0.8v0.8h-0.8zM257.6 293.6h0.7v0.7h-0.7zM234.0 292.3h0.7v0.7h-0.7zM282.0 296.9h0.5v0.5h-0.5zM244.8 359.5h0.4v0.4h-0.4zM266.6 284.6h0.8v0.8h-0.8zM253.1 289.3h0.8v0.8h-0.8zM236.1 302.4h0.5v0.5h-0.5zM268.2 288.0h0.5v0.5h-0.5zM262.7 284.9h0.5v0.5h-0.5zM237.4 298.0h0.6v0.6h-0.6zM249.6 355.4h0.5v0.5h-0.5zM239.8 356.2h0.8v0.8h-0.8zM225.5 330.2h0.8v0.8h-0.8zM286.9 297.9h0.7v0.7h-0.7zM290.7 282.1h0.7v0.7h-0.7zM263.5 309.9h0.6v0.6h-0.6z" fill="#d0d0d8" fill-opacity="0.75"/>
<path d="M284.7 311.0h0.8v0.8h-0.8zM258.0 340.9h0.5v0.5h-0.5zM240.7 345.3h0.8v0.8h-0.8zM247.9 326.9h0.7v0.7h-0.7zM242.2 293.9h0.7v0.7h-0.7zM226.9 275.0h0.8v0.8h-0.8zM277.6 303.7h0.9v0.9h-0.9zM283.6 311.5h0.5v0.5h-0.5zM208.5 298.8h0.8v0.8h-0.8zM211.3 291.0h0.9v0.9h-0.9zM220.1 293.3h0.4v0.4h-0.4zM228.4 349.2h0.6v0.6h-0.6zM219.9 304.6h0.6v0.6h-0.6zM220.0 292.1h0.8v0.8h-0.8zM288.0 312.8h0.5v0.5h-0.5zM223.4 286.0h0.6v0.6h-0.6zM238.9 278.0h0.8v0.8h-0.8zM222.4 332.8h0.7v0.7h-0.7zM223.9 343.5h0.9v0.9h-0.9zM254.9 295.3h0.8v0.8h-0.8zM216.6 334.2h0.7v0.7h-0.7zM251.5 346.1h0.8v0.8h-0.8zM256.5 294.1h0.8v0.8h-0.8zM284.2 287.2h0.6v0.6h-0.6zM252.8 280.7h0.5v0.5h-0.5zM233.7 349.8h0.6v0.6h-0.6zM264.3 356.2h0.9v0.9h-0.9zM202.6 326.5h0.8v0.8h-0.8zM244.6 335.2h0.6v0.6h-0.6zM229.8 359.7h0.5v0.5h-0.5zM272.9 352.0h0.6v0.6h-0.6zM282.6 347.9h0.7v0.7h-0.7zM253.6 324.0h0.8v0.8h-0.8zM208.0 326.9h0.6v0.6h-0.6zM208.3 337.0h0.6v0.6h-0.6zM244.5 289.7h0.6v0.6h-0.6zM264.2 313.9h0.7v0.7h-0.7zM230.4 329.2h0.7v0.7h-0.7zM225.8 284.0h0.8v0.8h-0.8zM241.6 293.6h0.8v0.8h-0.8zM265.1 320.6h0.7v0.7h-0.7zM242.1 270.9h0.7v0.7h-0.7zM274.2 355.9h0.6v0.6h-0.6zM244.0 285.0h0.5v0.5h-0.5zM225.5 300.1h0.7v0.7h-0.7zM257.6 351.4h0.7v0.7h-0.7zM286.7 311.0h0.4v0.4h-0.4zM229.7 351.4h0.9v0.9h-0.9zM278.5 300.3h0.8v0.8h-0.8zM273.5 284.4h0.7v0.7h-0.7zM231.1 340.3h0.8v0.8h-0.8zM247.6 334.4h0.9v0.9h-0.9zM286.8 313.5h0.6v0.6h-0.6zM227.1 335.0h0.6v0.6h-0.6zM258.8 316.3h0.6v0.6h-0.6zM229.0 303.4h0.6v0.6h-0.6zM252.8 287.0h0.6v0.6h-0.6zM237.2 341.6h0.6v0.6h-0.6zM251.9 313.4h0.5v0.5h-0.5zM225.1 311.6h0.9v0.9h-0.9zM274.9 350.6h0.7v0.7h-0.7zM244.1 297.6h0.6v0.6h-0.6zM218.1 324.9h0.7v0.7h-0.7zM284.9 280.4h0.7v0.7h-0.7zM271.5 270.7h0.8v0.8h-0.8zM263.2 298.0h0.6v0.6h-0.6zM223.4 286.6h0.8v0.8h-0.8zM248.8 283.1h0.8v0.8h-0.8zM282.7 297.3h0.9v0.9h-0.9zM229.4 352.7h0.5v0.5h-0.5zM222.6 334.9h0.4v0.4h-0.4zM276.3 306.9h0.9v0.9h-0.9zM288.8 279.2h0.6v0.6h-0.6zM250.9 315.5h0.7v0.7h-0.7zM217.4 287.1h0.9v0.9h-0.9zM277.0 358.7h0.9v0.9h-0.9zM242.6 338.2h0.8v0.8h-0.8zM247.7 307.9h0.5v0.5h-0.5zM264.5 345.5h0.6v0.6h-0.6zM267.8 305.4h0.9v0.9h-0.9zM218.4 283.6h0.8v0.8h-0.8zM247.2 270.0h0.8v0.8h-0.8zM274.8 305.6h0.7v0.7h-0.7zM282.2 348.7h0.7v0.7h-0.7zM266.4 275.1h0.7v0.7h-0.7zM249.1 304.1h0.8v0.8h-0.8zM289.9 270.8h0.6v0.6h-0.6zM234.8 277.6h0.8v0.8h-0.8zM223.5 351.1h0.7v0.7h-0.7zM250.6 314.8h0.9v0.9h-0.9zM255.1 337.8h0.5v0.5h-0.5zM248.5 323.0h0.8v0.8h-0.8zM260.3 319.7h0.7v0.7h-0.7zM226.5 334.0h0.5v0.5h-0.5zM268.9 273.3h0.5v0.5h-0.5zM266.4 311.2h0.8v0.8h-0.8zM219.3 273.5h0.4v0.4h-0.4zM248.8 280.0h0.6v0.6h-0.6zM241.0 329.5h0.6v0.6h-0.6zM253.7 306.9h0.6v0.6h-0.6zM271.5 317.0h0.7v0.7h-0.7zM233.3 293.4h0.7v0.7h-0.7zM269.1 285.8h0.9v0.9h-0.9zM249.9 275.2h0.8v0.8h-0.8zM208.5 330.2h0.6v0.6h-0.6zM250.7 326.0h0.8v0.8h-0.8zM219.9 300.0h0.6v0.6h-0.6zM268.3 344.9h0.9v0.9h-0.9zM239.4 292.2h0.5v0.5h-0.5zM260.2 358.8h0.5v0.5h-0.5zM239.7 302.4h0.5v0.5h-0.5zM220.2 329.0h0.5v0.5h-0.5zM208.2 296.4h0.5v0.5h-0.5zM226.4 281.7h0.6v0.6h-0.6zM233.3 334.8h0.5v0.5h-0.5zM265.3 320.6h0.5v0.5h-0.5zM284.2 354.2h0.7v0.7h-0.7zM229.5 305.0h0.8v0.8h-0.8zM273.2 317.8h0.8v0.8h-0.8zM216.7 337.7h0.7v0.7h-0.7zM250.1 320.2h0.9v0.9h-0.9zM213.7 336.5h0.7v0.7h-0.7zM245.6 317.6h0.6v0.6h-0.6zM276.5 349.5h0.7v0.7h-0.7zM248.4 333.3h0.6v0.6h-0.6zM273.7 307.0h0.6v0.6h-0.6zM238.8 281.9h0.8v0.8h-0.8zM234.8 283.9h0.7v0.7h-0.7zM227.2 356.9h0.7v0.7h-0.7zM206.0 296.7h0.7v0.7h-0.7zM211.0 327.5h0.8v0.8h-0.8zM253.9 351.5h0.6v0.6h-0.6zM217.6 294.3h0.5v0.5h-0.5zM216.3 337.5h0.9v0.9h-0.9zM229.1 318.6h0.6v0.6h-0.6zM224.5 349.5h0.5v0.5h-0.5zM250.4 355.7h0.8v0.8h-0.8zM244.6 288.8h0.6v0.6h-0.6zM273.5 303.6h0.8v0.8h-0.8zM248.6 315.5h0.8v0.8h-0.8zM260.6 290.4h0.5v0.5h-0.5zM279.7 315.5h0.9v0.9h-0.9zM244.4 311.4h0.5v0.5h-0.5zM278.6 296.2h0.9v0.9h-0.9zM284.2 277.0h0.5v0.5h-0.5zM275.9 287.7h0.5v0.5h-0.5zM215.0 344.4h0.7v0.7h-0.7zM233.3 331.1h0.8v0.8h-0.8zM252.0 310.4h0.6v0.6h-0.6zM256.7 295.1h0.7v0.7h-0.7zM208.8 289.2h0.7v0.7h-0.7zM215.0 280.0h0.5v0.5h-0.5zM247.2 327.6h0.6v0.6h-0.6zM235.8 298.8h0.7v0.7h-0.7zM238.2 270.1h0.6v0.6h-0.6zM202.3 298.8h0.7v0.7h-0.7zM231.8 327.9h0.6v0.6h-0.6zM213.5 333.5h0.9v0.9h-0.9zM265.8 344.8h0.5v0.5h-0.5zM208.3 291.0h0.5v0.5h-0.5zM250.1 319.7h0.7v0.7h-0.7zM251.6 292.6h0.9v0.9h-0.9zM283.4 359.0h0.6v0.6h-0.6zM222.6 320.8h0.7v0.7h-0.7zM276.3 285.6h0.7v0.7h-0.7zM290.5 354.1h0.7v0.7h-0.7zM235.5 322.6h0.5v0.5h-0.5zM247.9 292.6h0.9v0.9h-0.9zM252.4 298.9h0.6v0.6h-0.6zM261.6 281.7h0.9v0.9h-0.9zM243.4 306.1h0.7v0.7h-0.7zM244.8 359.1h0.8v0.8h-0.8zM277.0 346.5h0.6v0.6h-0.6zM246.3 304.7h0.9v0.9h-0.9zM248.5 290.4h0.8v0.8h-0.8zM228.4 304.6h0.9v0.9h-0.9zM209.7 340.9h0.5v0.5h-0.5zM236.7 301.0h0.9v0.9h-0.9zM253.9 272.8h0.7v0.7h-0.7zM228.7 314.1h0.6v0.6h-0.6zM227.5 352.6h0.8v0.8h-0.8zM277.0 300.9h0.6v0.6h-0.6zM218.9 326.1h0.9v0.9h-0.9zM264.0 354.1h0.6v0.6h-0.6zM241.2 275.9h0.7v0.7h-0.7zM265.3 286.5h0.7v0.7h-0.7zM221.5 296.1h0.6v0.6h-0.6zM240.7 316.7h0.7v0.7h-0.7zM255.3 294.6h0.6v0.6h-0.6zM223.5 341.8h0.7v0.7h-0.7zM269.4 291.0h0.8v0.8h-0.8zM290.4 271.6h0.9v0.9h-0.9zM235.6 353.1h0.9v0.9h-0.9zM246.2 285.1h0.5v0.5h-0.5zM271.9 315.6h0.8v0.8h-0.8zM271.7 283.8h0.5v0.5h-0.5zM255.9 290.0h0.9v0.9h-0.9zM252.7 348.0h0.8v0.8h-0.8zM217.0 282.4h0.7v0.7h-0.7zM240.2 308.8h0.7v0.7h-0.7zM272.8 290.4h0.4v0.4h-0.4zM204.6 297.4h0.5v0.5h-0.5zM224.7 322.2h0.7v0.7h-0.7zM216.2 291.7h0.9v0.9h-0.9zM289.0 272.5h0.6v0.6h-0.6zM245.1 337.9h0.8v0.8h-0.8zM290.3 281.8h0.8v0.8h-0.8zM281.7 281.6h0.6v0.6h-0.6zM236.5 295.8h0.6v0.6h-0.6zM239.3 275.6h0.6v0.6h-0.6zM221.5 291.6h0.8v0.8h-0.8zM250.9 290.7h0.7v0.7h-0.7zM233.7 299.2h0.9v0.9h-0.9zM281.3 310.7h0.7v0.7h-0.7zM220.2 300.2h0.7v0.7h-0.7zM215.5 287.2h0.7v0.7h-0.7zM279.1 287.2h0.9v0.9h-0.9zM235.5 275.2h0.8v0.8h-0.8zM236.5 352.8h0.5v0.5h-0.5zM265.6 293.0h0.9v0.9h-0.9zM230.0 303.6h0.7v0.7h-0.7zM236.5 290.3h0.8v0.8h-0.8zM229.1 307.2h0.7v0.7h-0.7zM226.2 333.5h0.7v0.7h-0.7zM237.5 303.8h0.7v0.7h-0.7zM220.2 272.3h0.8v0.8h-0.8zM203.0 326.1h0.5v0.5h-0.5zM252.2 342.3h0.7v0.7h-0.7zM289.3 295.7h0.9v0.9h-0.9zM261.6 352.2h0.9v0.9h-0.9zM220.3 331.3h0.8v0.8h-0.8zM230.6 313.9h0.6v0.6h-0.6zM226.2 283.2h0.5v0.5h-0.5zM237.3 311.9h0.7v0.7h-0.7zM231.8 307.2h0.5v0.5h-0.5zM236.3 301.8h0.7v0.7h-0.7zM238.1 306.5h0.6v0.6h-0.6zM225.7 344.1h0.8v0.8h-0.8zM280.7 303.4h0.7v0.7h-0.7zM218.2 289.5h0.6v0.6h-0.6zM262.5 289.9h0.8v0.8h-0.8zM232.2 349.3h0.8v0.8h-0.8zM245.3 320.0h0.7v0.7h-0.7zM268.7 317.1h0.9v0.9h-0.9zM222.2 291.3h0.8v0.8h-0.8zM270.9 312.4h0.8v0.8h-0.8zM279.8 273.5h0.7v0.7h-0.7zM223.8 314.8h0.7v0.7h-0.7zM273.2 304.4h0.6v0.6h-0.6zM265.9 291.6h0.6v0.6h-0.6zM231.2 337.9h0.4v0.4h-0.4zM252.3 306.9h0.7v0.7h-0.7zM261.7 289.8h0.5v0.5h-0.5zM289.0 280.9h0.6v0.6h-0.6zM285.6 358.6h0.7v0.7h-0.7zM226.7 335.2h0.6v0.6h-0.6zM291.1 279.6h0.7v0.7h-0.7zM230.7 271.1h0.7v0.7h-0.7zM273.6 345.1h0.5v0.5h-0.5zM290.0 304.2h0.5v0.5h-0.5zM285.6 291.5h0.7v0.7h-0.7zM221.4 312.6h0.6v0.6h-0.6zM244.8 306.5h0.5v0.5h-0.5zM274.0 304.6h0.9v0.9h-0.9zM225.8 354.0h0.8v0.8h-0.8zM279.3 359.1h0.7v0.7h-0.7zM228.9 315.5h0.6v0.6h-0.6zM287.9 269.6h0.7v0.7h-0.7zM237.1 341.8h0.5v0.5h-0.5zM287.0 305.2h0.9v0.9h-0.9zM264.9 291.6h0.5v0.5h-0.5zM283.5 270.9h0.6v0.6h-0.6zM282.9 297.8h0.9v0.9h-0.9zM209.3 299.2h0.6v0.6h-0.6zM268.3 318.3h0.7v0.7h-0.7zM232.6 307.9h0.6v0.6h-0.6zM219.2 348.7h0.9v0.9h-0.9zM229.9 337.3h0.6v0.6h-0.6zM265.0 284.9h0.6v0.6h-0.6zM217.4 301.2h0.6v0.6h-0.6zM256.7 349.4h0.7v0.7h-0.7zM235.7 289.7h0.5v0.5h-0.5zM255.2 320.7h0.9v0.9h-0.9zM257.7 309.3h0.8v0.8h-0.8zM254.7 322.8h0.5v0.5h-0.5z" fill="#d0d0d8" fill-opacity="0.5"/>
<path d="M246.8 322.0h0.9v0.9h-0.9zM291.4 359.3h0.7v0.7h-0.7zM289.9 304.9h0.6v0.6h-0.6zM271.6 293.3h0.5v0.5h-0.5zM273.1 284.7h0.9v0.9h-0.9zM251.5 309.4h0.7v0.7h-0.7zM212.5 327.2h0.7v0.7h-0.7zM271.1 298.7h0.5v0.5h-0.5zM222.9 323.5h0.5v0.5h-0.5zM267.9 354.2h0.7v0.7h-0.7zM238.5 340.5h0.9v0.9h-0.9zM257.6 303.5h0.6v0.6h-0.6zM240.7 344.9h0.7v0.7h-0.7zM240.9 349.8h0.7v0.7h-0.7zM273.9 351.7h0.9v0.9h-0.9zM280.8 303.7h0.6v0.6h-0.6zM253.8 297.5h0.6v0.6h-0.6zM265.4 355.1h0.7v0.7h-0.7zM257.6 313.6h0.7v0.7h-0.7zM229.3 344.9h0.8v0.8h-0.8zM280.1 272.5h0.6v0.6h-0.6zM228.7 340.6h0.8v0.8h-0.8zM276.1 290.3h0.7v0.7h-0.7zM258.0 309.4h0.5v0.5h-0.5zM265.7 285.0h0.6v0.6h-0.6zM259.9 287.2h0.8v0.8h-0.8zM289.9 357.6h0.7v0.7h-0.7zM249.6 340.7h0.5v0.5h-0.5zM250.8 338.6h0.6v0.6h-0.6zM245.1 271.3h0.6v0.6h-0.6zM274.2 274.4h0.9v0.9h-0.9zM277.5 350.5h0.8v0.8h-0.8zM219.6 346.1h0.7v0.7h-0.7zM249.5 314.5h0.5v0.5h-0.5zM249.7 306.3h0.6v0.6h-0.6zM218.4 289.4h0.5v0.5h-0.5zM248.8 308.3h0.9v0.9h-0.9zM258.7 316.8h0.8v0.8h-0.8zM278.6 289.8h0.7v0.7h-0.7zM246.7 337.7h0.6v0.6h-0.6zM217.8 275.0h0.8v0.8h-0.8zM252.5 282.1h0.5v0.5h-0.5zM285.0 277.4h0.6v0.6h-0.6zM230.3 311.1h0.8v0.8h-0.8zM264.7 346.9h0.8v0.8h-0.8zM257.9 305.5h0.7v0.7h-0.7zM255.3 314.6h0.6v0.6h-0.6zM224.2 351.6h0.6v0.6h-0.6zM223.9 305.1h0.8v0.8h-0.8zM233.9 294.6h0.8v0.8h-0.8zM236.1 350.3h0.7v0.7h-0.7zM242.1 292.5h0.7v0.7h-0.7zM225.2 307.3h0.9v0.9h-0.9zM270.5 288.0h0.9v0.9h-0.9zM252.0 312.8h0.7v0.7h-0.7zM273.8 296.4h0.6v0.6h-0.6zM236.7 303.9h0.7v0.7h-0.7zM273.9 274.6h0.5v0.5h-0.5zM267.8 350.6h0.5v0.5h-0.5zM220.8 338.4h0.5v0.5h-0.5zM283.9 306.0h0.8v0.8h-0.8zM268.2 358.9h0.5v0.5h-0.5zM271.3 285.1h0.5v0.5h-0.5zM254.7 289.0h0.8v0.8h-0.8zM225.6 358.8h0.7v0.7h-0.7zM214.9 282.9h0.8v0.8h-0.8zM258.6 359.0h0.8v0.8h-0.8zM214.3 338.7h0.8v0.8h-0.8zM272.6 306.7h0.5v0.5h-0.5zM250.1 316.5h0.7v0.7h-0.7zM243.3 333.8h0.5v0.5h-0.5zM265.3 290.3h0.6v0.6h-0.6zM227.7 299.3h0.9v0.9h-0.9zM267.3 298.7h0.5v0.5h-0.5zM266.5 298.8h0.8v0.8h-0.8zM276.0 277.2h0.4v0.4h-0.4zM217.0 305.2h0.8v0.8h-0.8zM237.7 275.3h0.6v0.6h-0.6zM284.5 307.6h0.6v0.6h-0.6zM233.5 310.8h0.8v0.8h-0.8zM226.9 350.3h0.7v0.7h-0.7zM250.5 275.6h0.7v0.7h-0.7zM238.0 308.2h0.5v0.5h-0.5zM205.4 331.9h0.7v0.7h-0.7zM283.6 356.6h0.7v0.7h-0.7zM261.1 347.4h0.9v0.9h-0.9zM220.8 336.6h0.8v0.8h-0.8zM285.7 357.7h0.5v0.5h-0.5zM243.6 284.3h0.7v0.7h-0.7zM220.9 296.5h0.8v0.8h-0.8zM234.5 328.9h0.7v0.7h-0.7zM226.0 327.0h0.5v0.5h-0.5zM233.4 328.6h0.7v0.7h-0.7zM222.2 313.2h0.6v0.6h-0.6zM246.1 271.9h0.6v0.6h-0.6zM224.5 341.3h0.8v0.8h-0.8zM252.5 318.2h0.5v0.5h-0.5zM214.0 297.0h0.6v0.6h-0.6zM215.3 331.6h0.6v0.6h-0.6zM233.7 288.3h0.8v0.8h-0.8zM228.7 309.3h0.8v0.8h-0.8zM225.7 270.4h0.6v0.6h-0.6zM233.4 282.5h0.9v0.9h-0.9zM285.9 301.4h0.7v0.7h-0.7zM279.4 289.2h0.7v0.7h-0.7zM261.4 355.6h0.6v0.6h-0.6zM215.9 329.2h0.6v0.6h-0.6zM264.6 319.1h0.5v0.5h-0.5zM224.5 329.4h0.8v0.8h-0.8zM228.7 301.4h0.7v0.7h-0.7zM289.5 282.2h0.9v0.9h-0.9zM245.6 327.9h0.6v0.6h-0.6zM288.9 299.0h0.6v0.6h-0.6zM229.1 333.8h0.8v0.8h-0.8zM215.1 325.2h0.8v0.8h-0.8zM234.4 294.8h0.5v0.5h-0.5zM230.3 284.9h0.5v0.5h-0.5zM247.4 280.1h0.8v0.8h-0.8zM210.0 332.9h0.6v0.6h-0.6zM234.8 296.9h0.5v0.5h-0.5zM252.2 281.8h0.6v0.6h-0.6zM219.1 347.6h0.6v0.6h-0.6zM241.0 344.5h0.7v0.7h-0.7zM233.3 337.3h0.6v0.6h-0.6zM248.7 342.4h0.5v0.5h-0.5zM290.3 277.8h0.8v0.8h-0.8zM260.4 342.4h0.8v0.8h-0.8zM233.9 326.8h0.5v0.5h-0.5zM233.0 294.2h0.5v0.5h-0.5zM220.7 305.9h0.5v0.5h-0.5zM259.3 288.0h0.7v0.7h-0.7zM246.7 320.4h0.5v0.5h-0.5zM247.6 271.6h0.7v0.7h-0.7zM285.4 282.4h0.8v0.8h-0.8zM243.2 358.9h0.8v0.8h-0.8zM267.9 297.2h0.5v0.5h-0.5z" fill="#d0d0d8" fill-opacity="0.25"/>
<path d="M293.5 348.6h0.6v0.6h-0.6zM257.3 266.2h0.7v0.7h-0.7zM289.8 279.8h1.1v1.1h-1.1zM225.5 267.2h0.8v0.8h-0.8zM219.6 266.1h0.9v0.9h-0.9zM281.6 266.8h0.9v0.9h-0.9zM224.1 266.8h0.6v0.6h-0.6zM291.2 359.1h0.6v0.6h-0.6zM216.9 266.4h0.9v0.9h-0.9zM198.9 306.5h1.2v1.2h-1.2zM199.6 290.1h1.0v1.0h-1.0zM247.6 360.7h0.9v0.9h-0.9zM288.3 359.9h0.6v0.6h-0.6zM238.2 358.8h1.1v1.1h-1.1zM267.0 269.0h1.1v1.1h-1.1zM289.9 348.6h1.2v1.2h-1.2zM289.3 293.5h0.6v0.6h-0.6zM248.1 266.5h0.7v0.7h-0.7zM268.8 357.6h0.6v0.6h-0.6zM197.9 340.3h0.9v0.9h-0.9zM225.5 357.5h1.2v1.2h-1.2zM242.7 267.2h0.7v0.7h-0.7zM246.1 267.1h1.1v1.1h-1.1zM236.4 270.0h0.8v0.8h-0.8zM198.9 293.7h0.9v0.9h-0.9zM291.2 289.4h1.0v1.0h-1.0zM290.3 281.0h1.2v1.2h-1.2zM218.5 268.7h1.0v1.0h-1.0zM291.0 355.4h0.6v0.6h-0.6zM218.2 267.4h1.1v1.1h-1.1zM209.6 267.8h1.0v1.0h-1.0zM239.1 269.0h0.6v0.6h-0.6zM284.1 361.5h0.8v0.8h-0.8zM220.8 269.2h0.9v0.9h-0.9zM257.8 357.1h1.1v1.1h-1.1zM205.4 267.0h1.0v1.0h-1.0zM199.3 303.7h0.9v0.9h-0.9zM292.9 351.0h0.9v0.9h-0.9zM287.0 359.7h0.8v0.8h-0.8zM227.5 269.9h0.6v0.6h-0.6z" fill="#ffffff" fill-opacity="0.5"/>
<path d="M221.1 266.8h0.7v0.7h-0.7zM219.3 269.0h1.0v1.0h-1.0zM274.2 266.8h1.0v1.0h-1.0zM262.2 268.0h0.8v0.8h-0.8zM255.5 268.7h0.6v0.6h-0.6zM248.2 358.8h0.6v0.6h-0.6zM247.9 269.5h1.1v1.1h-1.1zM214.3 267.4h0.9v0.9h-0.9zM198.9 282.7h0.6v0.6h-0.6zM266.3 361.0h1.0v1.0h-1.0zM292.3 293.6h0.6v0.6h-0.6zM292.6 354.5h1.2v1.2h-1.2zM200.2 291.2h0.7v0.7h-0.7zM247.5 357.3h0.6v0.6h-0.6zM266.2 362.0h0.8v0.8h-0.8zM275.9 358.8h1.1v1.1h-1.1zM242.3 265.9h1.2v1.2h-1.2zM255.5 358.6h1.1v1.1h-1.1zM245.3 269.8h0.9v0.9h-0.9zM293.1 282.8h0.7v0.7h-0.7zM289.2 348.1h0.6v0.6h-0.6zM292.2 273.5h0.7v0.7h-0.7zM253.5 362.1h0.9v0.9h-0.9zM200.4 296.8h1.1v1.1h-1.1zM224.9 357.7h0.9v0.9h-0.9zM252.2 269.9h0.7v0.7h-0.7zM198.6 346.2h0.7v0.7h-0.7zM236.0 361.6h0.9v0.9h-0.9zM199.0 342.3h1.0v1.0h-1.0zM229.4 270.8h1.1v1.1h-1.1zM264.0 268.5h0.9v0.9h-0.9zM251.9 360.3h0.6v0.6h-0.6zM237.1 359.2h0.6v0.6h-0.6zM292.2 309.9h1.2v1.2h-1.2zM293.5 307.4h0.6v0.6h-0.6zM229.1 358.9h1.0v1.0h-1.0zM238.3 358.5h1.1v1.1h-1.1zM238.8 270.8h0.8v0.8h-0.8zM291.0 285.8h0.7v0.7h-0.7zM252.9 270.5h1.1v1.1h-1.1zM229.8 269.8h1.1v1.1h-1.1zM284.8 267.9h0.7v0.7h-0.7zM230.4 269.2h0.6v0.6h-0.6zM294.0 305.5h1.0v1.0h-1.0zM265.3 362.0h0.8v0.8h-0.8zM280.0 359.5h1.2v1.2h-1.2zM250.9 266.7h1.1v1.1h-1.1zM199.7 283.3h0.6v0.6h-0.6zM293.0 275.4h0.7v0.7h-0.7zM230.2 359.6h1.1v1.1h-1.1zM274.4 267.4h0.7v0.7h-0.7zM199.0 278.4h0.6v0.6h-0.6zM202.7 333.2h1.1v1.1h-1.1zM238.8 361.1h0.6v0.6h-0.6zM291.4 313.4h0.7v0.7h-0.7zM251.0 267.9h1.0v1.0h-1.0zM289.3 306.3h0.6v0.6h-0.6zM210.7 268.0h0.6v0.6h-0.6zM289.6 291.2h1.1v1.1h-1.1zM199.8 325.3h1.1v1.1h-1.1zM229.3 267.6h0.9v0.9h-0.9zM199.2 345.2h1.2v1.2h-1.2zM201.2 300.2h0.7v0.7h-0.7zM275.1 266.6h0.9v0.9h-0.9zM224.4 361.8h0.6v0.6h-0.6zM290.0 299.1h1.2v1.2h-1.2zM240.0 268.5h0.9v0.9h-0.9zM290.7 358.4h1.0v1.0h-1.0zM290.8 352.7h1.1v1.1h-1.1zM260.7 266.6h1.1v1.1h-1.1zM199.5 347.6h0.6v0.6h-0.6zM239.5 268.0h1.1v1.1h-1.1zM294.1 303.8h1.0v1.0h-1.0zM285.5 271.0h0.6v0.6h-0.6zM201.0 331.6h0.7v0.7h-0.7zM293.7 357.9h0.6v0.6h-0.6zM200.5 339.0h0.6v0.6h-0.6z" fill="#ffffff" fill-opacity="0.75"/>
<path d="M198.1 297.0h1.0v1.0h-1.0zM198.8 295.2h1.2v1.2h-1.2zM292.0 311.6h1.2v1.2h-1.2zM223.8 267.4h1.0v1.0h-1.0zM290.8 274.1h1.0v1.0h-1.0zM271.4 267.0h0.9v0.9h-0.9zM270.0 356.9h1.1v1.1h-1.1zM198.4 267.7h0.9v0.9h-0.9zM294.1 278.5h0.8v0.8h-0.8zM285.4 357.6h1.1v1.1h-1.1zM199.4 343.7h1.0v1.0h-1.0zM290.7 354.7h1.1v1.1h-1.1zM225.0 267.1h0.8v0.8h-0.8zM253.6 358.4h1.2v1.2h-1.2zM198.9 299.4h1.1v1.1h-1.1zM271.8 358.0h0.6v0.6h-0.6zM248.4 269.1h0.9v0.9h-0.9zM289.8 294.1h1.2v1.2h-1.2zM202.5 297.2h0.7v0.7h-0.7zM236.6 266.5h0.6v0.6h-0.6zM272.5 268.8h1.2v1.2h-1.2zM285.9 270.2h0.6v0.6h-0.6zM225.1 269.6h1.1v1.1h-1.1zM207.7 267.8h0.7v0.7h-0.7zM291.8 361.2h1.1v1.1h-1.1zM293.4 286.7h1.1v1.1h-1.1zM283.6 270.6h0.7v0.7h-0.7zM200.7 289.9h0.9v0.9h-0.9zM290.8 350.1h0.7v0.7h-0.7zM291.1 350.1h1.0v1.0h-1.0zM199.0 329.4h1.2v1.2h-1.2zM285.5 270.0h0.9v0.9h-0.9zM231.5 360.2h1.0v1.0h-1.0zM256.4 267.1h0.9v0.9h-0.9zM202.3 297.6h0.9v0.9h-0.9z" fill="#ffffff" fill-opacity="1.0"/>
<ellipse cx="228.1" cy="284.5" rx="8" ry="6.2" transform="rotate(-20 228.1 284.5)" fill="url(#nuc)" filter="url(#mb3)"/>
<path d="M230.8 284.9h0.9v0.9h-0.9zM224.4 282.4h0.9v0.9h-0.9zM230.9 284.7h0.8v0.8h-0.8z" fill="#9090ff" fill-opacity="0.5"/>
<path d="M231.3 284.6h0.7v0.7h-0.7z" fill="#9090ff" fill-opacity="0.25"/>
<ellipse cx="243.9" cy="292" rx="6.9" ry="8.4" transform="rotate(25 243.9 292)" fill="url(#nuc)" filter="url(#mb3)"/>
<path d="M241.4 287.0h0.9v0.9h-0.9zM247.1 288.6h0.8v0.8h-0.8zM241.0 286.7h0.8v0.8h-0.8z" fill="#9090ff" fill-opacity="0.25"/>
<path d="M244.1 290.8h0.7v0.7h-0.7z" fill="#9090ff" fill-opacity="0.5"/>
<ellipse cx="272" cy="276.2" rx="8" ry="6.2" transform="rotate(10 272 276.2)" fill="url(#nuc)" filter="url(#mb3)"/>
<path d="M275.5 277.6h1.0v1.0h-1.0zM269.4 276.5h1.0v1.0h-1.0zM269.6 277.8h0.7v0.7h-0.7zM269.3 278.6h0.7v0.7h-0.7z" fill="#9090ff" fill-opacity="0.5"/>
<ellipse cx="277.5" cy="298.9" rx="6.6" ry="5.2" transform="rotate(15 277.5 298.9)" fill="url(#nuc)" filter="url(#mb3)"/>
<path d="M274.1 295.7h0.7v0.7h-0.7zM277.9 296.8h0.9v0.9h-0.9zM273.8 300.1h1.0v1.0h-1.0zM274.2 300.0h1.0v1.0h-1.0z" fill="#9090ff" fill-opacity="0.5"/>
<ellipse cx="263.8" cy="314.4" rx="7.5" ry="4.6" transform="rotate(0 263.8 314.4)" fill="url(#nuc)" filter="url(#mb3)"/>
<path d="M264.6 314.5h0.7v0.7h-0.7zM264.0 312.5h0.9v0.9h-0.9zM264.7 316.0h0.8v0.8h-0.8z" fill="#9090ff" fill-opacity="0.5"/>
<path d="M261.8 313.4h0.7v0.7h-0.7z" fill="#9090ff" fill-opacity="0.25"/>
<ellipse cx="211.3" cy="333.6" rx="5.8" ry="6.6" transform="rotate(0 211.3 333.6)" fill="url(#nuc)" filter="url(#mb3)"/>
<path d="M211.5 333.5h1.0v1.0h-1.0zM212.1 333.6h0.8v0.8h-0.8zM211.3 331.1h0.8v0.8h-0.8z" fill="#9090ff" fill-opacity="0.5"/>
<path d="M208.2 332.7h0.9v0.9h-0.9z" fill="#9090ff" fill-opacity="0.25"/>
<ellipse cx="238.8" cy="340" rx="5.3" ry="7.6" transform="rotate(0 238.8 340)" fill="url(#nuc)" filter="url(#mb3)"/>
<path d="M235.7 337.1h0.8v0.8h-0.8zM237.0 336.9h0.8v0.8h-0.8zM236.5 335.8h0.7v0.7h-0.7zM238.5 336.6h0.9v0.9h-0.9z" fill="#9090ff" fill-opacity="0.5"/>
<ellipse cx="291.3" cy="352" rx="2.5" ry="4" transform="rotate(0 291.3 352)" fill="url(#nuc)" filter="url(#mb3)"/>
<path d="M290.1 352.7h0.8v0.8h-0.8zM291.1 353.8h0.9v0.9h-0.9zM291.7 350.6h0.8v0.8h-0.8z" fill="#9090ff" fill-opacity="0.5"/>
<path d="M291.2 351.7h1.0v1.0h-1.0z" fill="#9090ff" fill-opacity="0.25"/>
</g>
<rect x="201.20" y="269.00" width="90.20" height="90.60" fill="none" stroke="#222" stroke-width="0.8"/>
<rect x="272.80" y="356.40" width="17.60" height="2.40" fill="#fff" stroke="none" stroke-width="0"/>
<g clip-path="url(#mic1)">
<rect x="295.20" y="269.00" width="90.20" height="90.60" fill="#07070e" stroke="none" stroke-width="0"/>
<polygon points="293.4,270.5 307.3,270.5 310.0,278.9 308.6,292.7 305.9,303.8 301.7,314.9 297.5,317.7 293.4,317.7" fill="#58585f" filter="url(#mb1)"/>
<polygon points="319.7,281.6 328.1,277.5 337.8,276.8 347.5,280.3 351.6,290.0 354.4,298.3 361.3,303.8 366.9,310.8 367.6,317.7 361.3,323.3 354.4,324.6 344.7,323.3 333.6,323.3 325.3,324.6 317.0,326.0 308.6,323.3 303.1,317.7 305.9,310.8 312.8,305.2 319.7,301.1 321.1,292.7" fill="#4e4e56" filter="url(#mb1)"/>
<polygon points="312.8,330.2 322.5,326.0 333.6,324.6 347.5,323.3 358.6,324.6 365.5,328.8 366.9,337.1 364.1,348.2 358.6,356.5 347.5,360.7 333.6,360.7 319.7,360.7 314.2,351.0 311.4,339.9" fill="#4a4a52" filter="url(#mb1)"/>
<polygon points="293.4,342.7 303.1,339.9 311.4,345.4 317.0,353.8 319.7,360.7 293.4,360.7" fill="#5a5a62" filter="url(#mb1)"/>
<polygon points="351.6,267.8 387.7,267.8 387.7,288.6 378.0,292.7 369.7,290.0 361.3,281.6 354.4,278.9" fill="#4e4e56" filter="url(#mb1)"/>
<rect x="295.2" y="269.0" width="90.19999999999999" height="90.60000000000002" filter="url(#mnoise)" style="mix-blend-mode:multiply"/>
<path d="M299.5 274.3h0.7v0.7h-0.7zM294.6 302.0h0.7v0.7h-0.7zM305.0 278.3h0.5v0.5h-0.5zM294.4 310.6h0.9v0.9h-0.9zM308.1 291.3h0.8v0.8h-0.8zM298.5 315.3h0.5v0.5h-0.5zM303.0 283.0h0.7v0.7h-0.7zM306.4 283.0h0.8v0.8h-0.8zM302.9 274.6h0.6v0.6h-0.6zM296.8 302.7h0.7v0.7h-0.7zM302.8 305.6h0.6v0.6h-0.6zM294.8 271.9h0.6v0.6h-0.6zM294.4 295.8h0.7v0.7h-0.7zM297.7 314.6h0.8v0.8h-0.8zM301.8 287.1h0.6v0.6h-0.6zM299.7 306.8h0.5v0.5h-0.5z" fill="#d0d0d8" fill-opacity="0.25"/>
<path d="M293.4 298.2h0.5v0.5h-0.5zM306.1 290.8h0.6v0.6h-0.6zM305.4 298.7h0.6v0.6h-0.6zM304.8 290.4h0.6v0.6h-0.6zM307.9 278.7h0.5v0.5h-0.5zM303.8 292.0h0.5v0.5h-0.5zM300.3 311.2h0.8v0.8h-0.8zM300.8 296.2h0.8v0.8h-0.8zM306.2 298.5h0.7v0.7h-0.7zM302.2 311.1h0.7v0.7h-0.7zM293.8 300.8h0.7v0.7h-0.7zM301.2 283.8h0.6v0.6h-0.6zM297.1 316.4h0.5v0.5h-0.5zM302.2 286.1h0.6v0.6h-0.6zM297.3 303.8h0.7v0.7h-0.7zM300.3 302.5h0.6v0.6h-0.6zM297.4 310.8h0.6v0.6h-0.6zM300.4 289.2h0.6v0.6h-0.6zM302.7 294.9h0.6v0.6h-0.6zM302.1 296.6h0.8v0.8h-0.8zM306.7 283.2h0.6v0.6h-0.6zM293.6 278.6h0.6v0.6h-0.6zM293.4 278.0h0.7v0.7h-0.7zM293.4 272.8h0.4v0.4h-0.4zM298.3 293.4h0.7v0.7h-0.7zM301.5 278.5h0.8v0.8h-0.8zM294.4 300.6h0.7v0.7h-0.7zM296.3 282.6h0.8v0.8h-0.8zM305.7 291.2h0.9v0.9h-0.9zM306.1 281.9h0.7v0.7h-0.7zM305.9 275.0h0.9v0.9h-0.9zM295.3 294.2h0.5v0.5h-0.5zM300.2 308.6h0.8v0.8h-0.8zM305.9 293.5h0.6v0.6h-0.6zM299.7 276.1h0.7v0.7h-0.7zM304.5 285.1h0.7v0.7h-0.7z" fill="#d0d0d8" fill-opacity="0.5"/>
<path d="M305.1 299.3h0.6v0.6h-0.6zM303.6 296.1h0.6v0.6h-0.6zM304.1 296.6h0.7v0.7h-0.7zM295.8 294.3h0.7v0.7h-0.7zM299.1 278.1h0.5v0.5h-0.5zM293.2 316.3h0.6v0.6h-0.6zM295.9 287.1h0.5v0.5h-0.5zM295.0 295.7h0.5v0.5h-0.5zM295.7 281.1h0.7v0.7h-0.7zM300.2 290.0h0.9v0.9h-0.9zM303.0 282.9h0.8v0.8h-0.8zM303.4 292.5h0.7v0.7h-0.7zM297.4 311.2h0.8v0.8h-0.8zM294.5 316.7h0.8v0.8h-0.8zM293.2 272.6h0.9v0.9h-0.9zM301.3 310.0h0.6v0.6h-0.6zM297.1 287.9h0.5v0.5h-0.5zM300.9 275.3h0.9v0.9h-0.9zM296.4 293.4h0.6v0.6h-0.6zM297.0 279.0h0.7v0.7h-0.7zM301.4 302.6h0.8v0.8h-0.8zM295.5 302.2h0.7v0.7h-0.7zM300.5 295.7h0.5v0.5h-0.5zM296.1 296.7h0.7v0.7h-0.7z" fill="#d0d0d8" fill-opacity="0.75"/>
<path d="M301.4 314.5h1.1v1.1h-1.1zM310.8 288.4h0.6v0.6h-0.6zM291.4 308.3h0.6v0.6h-0.6zM307.0 292.9h0.7v0.7h-0.7zM308.1 296.2h1.1v1.1h-1.1zM305.8 301.1h1.0v1.0h-1.0zM292.7 274.1h0.8v0.8h-0.8zM293.0 303.4h0.7v0.7h-0.7zM307.4 271.2h1.1v1.1h-1.1zM293.1 295.4h0.6v0.6h-0.6zM301.8 311.7h1.1v1.1h-1.1zM290.4 298.3h1.1v1.1h-1.1zM303.8 301.7h0.8v0.8h-0.8zM293.0 291.6h0.8v0.8h-0.8zM294.8 315.8h0.6v0.6h-0.6zM305.8 308.7h1.1v1.1h-1.1zM306.0 292.7h0.9v0.9h-0.9zM293.4 297.4h1.0v1.0h-1.0zM297.1 272.1h0.6v0.6h-0.6zM291.7 311.1h0.6v0.6h-0.6z" fill="#ffffff" fill-opacity="1.0"/>
<path d="M293.6 282.4h0.7v0.7h-0.7zM295.1 274.3h0.6v0.6h-0.6zM295.0 290.8h1.0v1.0h-1.0zM305.8 298.4h1.2v1.2h-1.2zM295.2 267.9h0.8v0.8h-0.8zM304.9 306.1h1.1v1.1h-1.1zM291.0 313.5h1.2v1.2h-1.2zM309.6 282.5h1.1v1.1h-1.1zM309.1 284.7h1.2v1.2h-1.2zM290.7 276.1h1.0v1.0h-1.0zM290.8 305.6h0.8v0.8h-0.8zM306.4 286.5h1.0v1.0h-1.0zM301.8 313.4h0.8v0.8h-0.8zM304.1 300.7h0.9v0.9h-0.9zM307.7 298.6h1.1v1.1h-1.1zM304.0 272.5h0.6v0.6h-0.6zM292.8 314.7h0.9v0.9h-0.9zM296.8 268.2h0.8v0.8h-0.8zM293.1 294.5h0.8v0.8h-0.8zM303.4 298.7h1.0v1.0h-1.0zM299.6 272.0h0.9v0.9h-0.9zM300.7 316.5h1.0v1.0h-1.0zM292.4 316.0h1.1v1.1h-1.1zM308.1 293.9h1.1v1.1h-1.1zM298.1 271.3h0.7v0.7h-0.7zM308.5 277.9h0.6v0.6h-0.6zM292.4 273.3h0.8v0.8h-0.8zM309.1 288.5h0.8v0.8h-0.8zM293.1 287.4h0.6v0.6h-0.6zM293.1 315.0h0.6v0.6h-0.6zM311.4 275.1h1.0v1.0h-1.0zM307.1 285.0h1.0v1.0h-1.0zM304.7 310.5h0.6v0.6h-0.6zM291.4 301.5h0.7v0.7h-0.7zM308.1 296.0h0.7v0.7h-0.7z" fill="#ffffff" fill-opacity="0.75"/>
<path d="M291.7 290.5h0.8v0.8h-0.8zM307.5 273.4h1.0v1.0h-1.0zM303.6 303.3h1.1v1.1h-1.1zM310.6 290.9h0.9v0.9h-0.9zM308.0 274.9h0.7v0.7h-0.7zM305.0 267.8h1.1v1.1h-1.1zM305.0 303.8h0.6v0.6h-0.6zM293.1 271.3h0.9v0.9h-0.9zM292.6 312.6h0.9v0.9h-0.9zM292.9 296.6h0.7v0.7h-0.7zM290.9 306.7h0.9v0.9h-0.9zM294.3 317.0h0.6v0.6h-0.6zM302.9 272.2h1.1v1.1h-1.1zM301.2 311.9h1.1v1.1h-1.1zM298.6 271.1h0.6v0.6h-0.6zM311.2 284.5h1.1v1.1h-1.1zM293.8 312.0h0.6v0.6h-0.6z" fill="#ffffff" fill-opacity="0.5"/>
<path d="M309.4 321.9h0.6v0.6h-0.6zM317.0 305.8h0.5v0.5h-0.5zM325.6 322.4h0.5v0.5h-0.5zM342.8 286.1h0.7v0.7h-0.7zM332.3 277.2h0.7v0.7h-0.7zM335.9 279.8h0.8v0.8h-0.8zM343.3 281.2h0.5v0.5h-0.5zM338.1 308.0h0.5v0.5h-0.5zM358.8 316.2h0.7v0.7h-0.7zM342.5 307.3h0.7v0.7h-0.7zM338.5 288.0h0.6v0.6h-0.6zM326.0 291.7h0.7v0.7h-0.7zM333.7 287.8h0.9v0.9h-0.9zM325.4 313.4h0.9v0.9h-0.9zM350.4 293.7h0.8v0.8h-0.8zM347.4 312.9h0.7v0.7h-0.7zM347.3 321.7h0.6v0.6h-0.6zM341.1 309.0h0.7v0.7h-0.7zM322.8 311.6h0.7v0.7h-0.7zM342.3 306.6h0.6v0.6h-0.6zM330.8 316.5h0.7v0.7h-0.7zM345.9 316.2h0.5v0.5h-0.5zM355.6 322.0h0.5v0.5h-0.5zM360.1 312.0h0.8v0.8h-0.8zM321.7 291.6h0.6v0.6h-0.6zM364.4 312.1h0.8v0.8h-0.8zM346.9 316.5h0.8v0.8h-0.8zM337.3 316.5h0.5v0.5h-0.5zM315.7 305.3h0.6v0.6h-0.6zM329.5 292.9h0.6v0.6h-0.6zM343.7 321.7h0.6v0.6h-0.6zM326.4 318.2h0.5v0.5h-0.5zM341.4 306.7h0.6v0.6h-0.6zM317.2 310.8h0.7v0.7h-0.7zM306.5 314.5h0.6v0.6h-0.6zM342.9 282.9h0.4v0.4h-0.4zM337.1 281.2h0.5v0.5h-0.5zM320.9 298.6h0.7v0.7h-0.7zM337.8 308.5h0.9v0.9h-0.9zM325.4 286.9h0.4v0.4h-0.4zM330.9 316.4h0.8v0.8h-0.8zM332.0 288.9h0.7v0.7h-0.7zM324.5 297.6h0.6v0.6h-0.6zM310.9 319.4h0.8v0.8h-0.8zM314.1 318.3h0.5v0.5h-0.5zM334.0 318.8h0.8v0.8h-0.8zM367.1 316.7h0.7v0.7h-0.7zM318.4 324.9h0.7v0.7h-0.7zM352.6 303.1h0.6v0.6h-0.6zM334.1 302.3h0.9v0.9h-0.9zM362.1 317.7h0.5v0.5h-0.5zM328.2 318.4h0.6v0.6h-0.6zM365.3 316.8h0.6v0.6h-0.6zM330.3 304.9h0.6v0.6h-0.6zM319.3 313.4h0.6v0.6h-0.6zM307.9 321.6h0.6v0.6h-0.6zM338.0 285.0h0.6v0.6h-0.6zM339.4 295.6h0.6v0.6h-0.6zM323.0 316.7h0.6v0.6h-0.6zM349.4 311.3h0.6v0.6h-0.6zM343.5 320.0h0.6v0.6h-0.6zM321.6 301.0h0.7v0.7h-0.7zM365.7 312.6h0.7v0.7h-0.7zM326.8 288.5h0.6v0.6h-0.6zM343.6 297.6h0.8v0.8h-0.8zM347.1 306.6h0.7v0.7h-0.7zM334.7 301.4h0.6v0.6h-0.6zM329.4 321.2h0.4v0.4h-0.4zM349.7 293.8h0.9v0.9h-0.9zM316.3 307.1h0.5v0.5h-0.5zM359.7 314.5h0.5v0.5h-0.5zM326.6 321.4h0.7v0.7h-0.7zM347.6 300.2h0.9v0.9h-0.9zM343.0 295.7h0.5v0.5h-0.5zM317.5 310.7h0.6v0.6h-0.6zM325.1 299.9h0.5v0.5h-0.5zM312.5 308.5h0.5v0.5h-0.5zM348.0 297.3h0.7v0.7h-0.7zM339.8 322.3h0.5v0.5h-0.5zM331.6 319.3h0.8v0.8h-0.8zM363.1 313.7h0.6v0.6h-0.6zM317.2 311.0h0.6v0.6h-0.6zM316.9 308.9h0.5v0.5h-0.5zM353.8 312.7h0.8v0.8h-0.8zM346.6 318.5h0.6v0.6h-0.6zM357.7 313.8h0.6v0.6h-0.6zM313.0 321.1h0.8v0.8h-0.8zM329.4 288.0h0.6v0.6h-0.6zM349.3 323.1h0.9v0.9h-0.9zM323.5 305.6h0.6v0.6h-0.6zM327.6 318.1h0.8v0.8h-0.8zM350.6 294.1h0.6v0.6h-0.6zM356.0 309.9h0.8v0.8h-0.8zM320.2 323.2h0.8v0.8h-0.8zM346.8 307.4h0.8v0.8h-0.8zM330.4 310.0h0.6v0.6h-0.6zM353.3 318.8h0.5v0.5h-0.5zM335.1 282.6h0.8v0.8h-0.8zM334.5 296.5h0.9v0.9h-0.9zM346.5 305.7h0.5v0.5h-0.5zM332.6 313.9h0.7v0.7h-0.7zM365.1 313.1h0.5v0.5h-0.5zM342.5 301.4h0.8v0.8h-0.8zM310.1 312.5h0.5v0.5h-0.5zM332.7 292.4h0.6v0.6h-0.6zM331.3 294.8h0.5v0.5h-0.5zM357.8 316.6h0.8v0.8h-0.8zM321.6 284.7h0.5v0.5h-0.5zM331.4 317.5h0.6v0.6h-0.6zM314.3 320.9h0.5v0.5h-0.5zM350.9 297.3h0.5v0.5h-0.5zM347.6 301.3h0.6v0.6h-0.6zM343.3 321.7h0.9v0.9h-0.9zM321.9 288.8h0.8v0.8h-0.8zM320.7 304.2h0.9v0.9h-0.9zM344.4 313.9h0.9v0.9h-0.9z" fill="#d0d0d8" fill-opacity="0.5"/>
<path d="M340.4 296.0h0.9v0.9h-0.9zM325.4 283.5h0.5v0.5h-0.5zM347.7 294.8h0.5v0.5h-0.5zM337.4 286.9h0.8v0.8h-0.8zM340.4 291.8h0.7v0.7h-0.7zM341.8 288.3h0.6v0.6h-0.6zM322.8 306.1h0.5v0.5h-0.5zM354.9 305.9h0.6v0.6h-0.6zM316.2 307.0h0.6v0.6h-0.6zM340.5 320.3h0.9v0.9h-0.9zM361.2 315.4h0.7v0.7h-0.7zM343.3 313.0h0.5v0.5h-0.5zM320.8 281.4h0.7v0.7h-0.7zM339.5 292.3h0.8v0.8h-0.8zM352.6 312.6h0.8v0.8h-0.8zM324.9 300.7h0.5v0.5h-0.5zM353.8 304.3h0.5v0.5h-0.5zM310.9 306.7h0.7v0.7h-0.7zM320.0 302.0h0.9v0.9h-0.9zM329.8 317.6h0.8v0.8h-0.8zM321.6 293.1h0.6v0.6h-0.6zM315.5 304.8h0.7v0.7h-0.7zM356.6 310.2h0.7v0.7h-0.7zM356.7 318.9h0.4v0.4h-0.4zM350.2 293.9h0.8v0.8h-0.8zM342.2 278.3h0.7v0.7h-0.7zM316.2 323.7h0.7v0.7h-0.7zM354.0 312.9h0.8v0.8h-0.8zM333.7 279.5h0.7v0.7h-0.7zM319.8 314.6h0.6v0.6h-0.6zM321.7 281.1h0.7v0.7h-0.7zM338.6 313.1h0.7v0.7h-0.7zM353.3 323.0h0.6v0.6h-0.6zM348.4 287.3h0.5v0.5h-0.5zM324.3 298.1h0.6v0.6h-0.6zM361.5 318.5h0.6v0.6h-0.6zM329.0 300.5h0.7v0.7h-0.7zM309.5 320.7h0.9v0.9h-0.9zM324.5 323.1h0.7v0.7h-0.7zM324.1 297.7h0.8v0.8h-0.8zM321.7 313.7h0.9v0.9h-0.9zM348.9 293.5h0.5v0.5h-0.5zM323.3 304.1h0.5v0.5h-0.5zM340.8 319.5h0.7v0.7h-0.7zM317.6 307.5h0.8v0.8h-0.8zM332.9 315.8h0.7v0.7h-0.7zM327.1 290.3h0.5v0.5h-0.5zM353.2 309.4h0.6v0.6h-0.6zM335.6 277.2h0.8v0.8h-0.8zM310.6 323.3h0.6v0.6h-0.6zM350.0 322.5h0.9v0.9h-0.9zM352.0 315.3h0.5v0.5h-0.5zM348.5 300.2h0.6v0.6h-0.6zM323.4 291.5h0.6v0.6h-0.6zM316.7 317.5h0.6v0.6h-0.6zM348.0 303.6h0.6v0.6h-0.6zM329.5 279.7h0.6v0.6h-0.6zM356.9 300.8h0.7v0.7h-0.7zM352.3 309.0h0.5v0.5h-0.5zM330.0 299.0h0.8v0.8h-0.8zM338.6 310.5h0.7v0.7h-0.7zM328.8 302.1h0.5v0.5h-0.5zM327.7 319.7h0.7v0.7h-0.7zM365.0 310.9h0.7v0.7h-0.7zM335.2 307.9h0.5v0.5h-0.5zM326.6 289.1h0.7v0.7h-0.7zM326.7 280.5h0.8v0.8h-0.8zM328.5 298.6h0.8v0.8h-0.8zM337.2 284.7h0.5v0.5h-0.5zM358.5 303.4h0.6v0.6h-0.6zM339.7 308.3h0.9v0.9h-0.9zM340.8 322.6h0.8v0.8h-0.8zM351.2 303.8h0.5v0.5h-0.5zM320.1 321.9h0.6v0.6h-0.6zM354.3 303.2h0.8v0.8h-0.8zM341.0 297.1h0.5v0.5h-0.5zM346.5 294.3h0.4v0.4h-0.4zM327.8 311.7h0.6v0.6h-0.6zM345.8 281.2h0.6v0.6h-0.6zM344.5 284.6h0.8v0.8h-0.8zM358.4 307.9h0.8v0.8h-0.8z" fill="#d0d0d8" fill-opacity="0.75"/>
<path d="M341.5 316.7h0.7v0.7h-0.7zM329.3 280.0h0.6v0.6h-0.6zM308.2 319.5h0.9v0.9h-0.9zM362.3 320.0h0.8v0.8h-0.8zM335.0 315.9h0.7v0.7h-0.7zM310.2 311.9h0.5v0.5h-0.5zM361.4 312.2h0.6v0.6h-0.6zM338.2 302.7h0.7v0.7h-0.7zM328.2 309.8h0.9v0.9h-0.9zM333.1 282.0h0.6v0.6h-0.6zM335.3 301.3h0.8v0.8h-0.8zM342.4 313.5h0.7v0.7h-0.7zM350.4 294.6h0.6v0.6h-0.6zM333.2 305.2h0.5v0.5h-0.5zM335.5 317.5h0.7v0.7h-0.7zM343.9 287.7h0.4v0.4h-0.4zM355.3 320.0h0.6v0.6h-0.6zM311.1 319.9h0.7v0.7h-0.7zM353.6 311.8h0.9v0.9h-0.9zM353.0 311.5h0.8v0.8h-0.8zM342.8 281.4h0.8v0.8h-0.8zM342.1 299.2h0.8v0.8h-0.8zM363.6 308.0h0.6v0.6h-0.6zM343.3 293.2h0.9v0.9h-0.9zM344.9 307.4h0.9v0.9h-0.9zM349.9 306.0h0.6v0.6h-0.6zM336.3 278.0h0.7v0.7h-0.7zM339.6 277.6h0.8v0.8h-0.8zM354.2 308.5h0.5v0.5h-0.5zM321.3 296.2h0.6v0.6h-0.6zM336.9 312.8h0.9v0.9h-0.9zM355.5 302.0h0.8v0.8h-0.8zM345.3 307.2h0.5v0.5h-0.5zM326.5 313.1h0.7v0.7h-0.7zM314.2 304.4h0.8v0.8h-0.8zM314.2 309.8h0.8v0.8h-0.8zM336.0 296.6h0.7v0.7h-0.7zM318.9 305.1h0.7v0.7h-0.7zM340.3 289.4h0.9v0.9h-0.9zM337.4 321.2h0.7v0.7h-0.7zM342.1 301.6h0.7v0.7h-0.7zM361.3 317.5h0.6v0.6h-0.6zM335.6 290.2h0.7v0.7h-0.7z" fill="#d0d0d8" fill-opacity="0.25"/>
<path d="M357.1 323.6h1.1v1.1h-1.1zM338.1 324.4h1.2v1.2h-1.2zM310.1 306.3h0.9v0.9h-0.9zM343.9 320.8h1.0v1.0h-1.0zM322.3 299.2h0.8v0.8h-0.8zM361.2 305.8h1.1v1.1h-1.1zM359.7 324.3h0.9v0.9h-0.9zM352.9 293.8h0.9v0.9h-0.9zM347.5 281.4h0.7v0.7h-0.7zM311.5 305.0h0.6v0.6h-0.6zM326.1 280.0h0.8v0.8h-0.8zM321.8 289.3h0.9v0.9h-0.9zM303.5 309.6h0.9v0.9h-0.9zM310.8 303.5h0.6v0.6h-0.6zM303.4 318.8h0.7v0.7h-0.7zM318.5 297.5h0.8v0.8h-0.8zM351.5 286.7h1.2v1.2h-1.2zM354.6 293.4h0.7v0.7h-0.7zM362.1 320.4h0.9v0.9h-0.9zM347.6 285.4h1.1v1.1h-1.1zM359.4 320.8h0.8v0.8h-0.8zM306.7 319.4h0.9v0.9h-0.9zM360.6 304.8h0.8v0.8h-0.8zM334.4 321.1h0.8v0.8h-0.8zM324.7 325.1h0.6v0.6h-0.6zM346.5 281.0h0.6v0.6h-0.6zM313.4 301.8h0.9v0.9h-0.9zM333.5 325.2h1.1v1.1h-1.1zM320.8 322.0h1.2v1.2h-1.2zM321.9 292.5h0.9v0.9h-0.9zM315.1 300.6h1.1v1.1h-1.1zM349.2 288.7h1.2v1.2h-1.2zM314.7 327.4h0.8v0.8h-0.8zM337.4 321.2h0.8v0.8h-0.8zM305.7 311.0h1.0v1.0h-1.0zM319.3 284.6h1.0v1.0h-1.0zM346.8 281.6h1.0v1.0h-1.0zM323.3 323.4h1.0v1.0h-1.0zM325.2 277.4h1.1v1.1h-1.1zM354.6 297.1h0.6v0.6h-0.6zM354.8 292.9h1.0v1.0h-1.0zM308.9 320.9h1.2v1.2h-1.2zM358.5 321.3h0.8v0.8h-0.8zM364.0 318.0h0.7v0.7h-0.7zM365.3 305.3h0.9v0.9h-0.9zM303.2 312.1h0.8v0.8h-0.8zM333.1 278.2h0.7v0.7h-0.7zM352.0 326.7h0.9v0.9h-0.9zM349.4 290.3h1.0v1.0h-1.0zM314.4 327.8h0.6v0.6h-0.6zM324.6 325.6h0.9v0.9h-0.9zM304.1 316.3h0.9v0.9h-0.9zM319.2 281.1h0.9v0.9h-0.9zM320.8 278.9h0.8v0.8h-0.8zM364.6 311.4h0.9v0.9h-0.9zM353.3 292.2h0.6v0.6h-0.6zM308.0 308.8h0.9v0.9h-0.9zM341.8 276.2h0.9v0.9h-0.9zM312.6 325.4h1.2v1.2h-1.2zM348.5 280.2h0.6v0.6h-0.6zM361.1 325.3h0.8v0.8h-0.8zM312.8 304.7h0.7v0.7h-0.7zM311.8 326.2h0.9v0.9h-0.9zM349.3 325.5h1.1v1.1h-1.1zM357.0 297.8h1.2v1.2h-1.2z" fill="#ffffff" fill-opacity="0.75"/>
<path d="M319.6 290.5h0.7v0.7h-0.7zM352.2 292.4h0.8v0.8h-0.8zM307.3 309.4h0.6v0.6h-0.6zM327.6 275.4h1.1v1.1h-1.1zM344.9 277.8h0.9v0.9h-0.9zM367.0 309.0h1.1v1.1h-1.1zM306.9 307.3h0.8v0.8h-0.8zM329.4 275.9h0.8v0.8h-0.8zM337.8 324.1h1.1v1.1h-1.1zM305.1 315.9h0.7v0.7h-0.7zM337.7 321.4h1.2v1.2h-1.2zM353.9 298.7h0.8v0.8h-0.8zM336.2 276.3h1.1v1.1h-1.1zM339.6 325.2h0.9v0.9h-0.9zM323.2 324.1h1.1v1.1h-1.1zM314.5 323.4h1.2v1.2h-1.2zM367.3 306.6h0.9v0.9h-0.9zM358.9 301.5h0.7v0.7h-0.7zM364.9 307.7h0.7v0.7h-0.7zM320.5 281.0h1.2v1.2h-1.2zM341.7 320.4h1.1v1.1h-1.1zM328.0 277.4h0.7v0.7h-0.7zM321.9 279.9h0.6v0.6h-0.6zM311.0 324.1h0.9v0.9h-0.9zM348.2 325.0h0.8v0.8h-0.8zM319.6 327.2h0.9v0.9h-0.9z" fill="#ffffff" fill-opacity="1.0"/>
<path d="M333.7 321.8h1.0v1.0h-1.0zM366.1 310.2h1.0v1.0h-1.0zM344.9 278.4h1.1v1.1h-1.1zM350.3 325.3h0.7v0.7h-0.7zM321.0 295.9h1.2v1.2h-1.2zM313.2 322.5h0.9v0.9h-0.9zM343.9 321.8h1.2v1.2h-1.2zM317.7 299.5h0.7v0.7h-0.7zM323.6 276.2h0.7v0.7h-0.7zM302.2 313.7h1.1v1.1h-1.1zM335.6 323.4h1.2v1.2h-1.2zM348.7 324.1h1.1v1.1h-1.1zM312.4 326.0h0.7v0.7h-0.7zM356.6 298.1h0.6v0.6h-0.6zM338.7 324.1h0.6v0.6h-0.6zM352.4 298.9h0.7v0.7h-0.7zM338.7 324.2h0.8v0.8h-0.8zM324.9 280.5h1.1v1.1h-1.1zM310.9 306.0h1.1v1.1h-1.1zM356.5 300.2h0.9v0.9h-0.9zM325.7 323.3h0.7v0.7h-0.7zM347.4 280.0h0.9v0.9h-0.9zM343.8 323.9h0.6v0.6h-0.6zM311.3 326.5h1.2v1.2h-1.2zM301.8 312.8h0.9v0.9h-0.9zM335.3 322.0h0.7v0.7h-0.7zM346.4 281.7h1.0v1.0h-1.0zM314.3 305.6h0.6v0.6h-0.6zM321.0 281.4h1.1v1.1h-1.1zM321.2 280.3h1.0v1.0h-1.0zM318.4 289.8h0.6v0.6h-0.6zM361.1 305.9h0.7v0.7h-0.7zM321.6 286.7h0.9v0.9h-0.9zM364.0 313.9h0.9v0.9h-0.9zM323.0 322.1h1.0v1.0h-1.0zM351.1 283.5h0.8v0.8h-0.8zM349.4 281.0h1.2v1.2h-1.2z" fill="#ffffff" fill-opacity="0.5"/>
<path d="M353.6 348.9h0.7v0.7h-0.7zM320.0 349.2h0.8v0.8h-0.8zM360.3 348.6h0.6v0.6h-0.6zM348.0 343.3h0.6v0.6h-0.6zM351.7 343.5h0.5v0.5h-0.5zM344.6 335.7h0.5v0.5h-0.5zM355.3 343.3h0.8v0.8h-0.8zM325.9 327.9h0.5v0.5h-0.5zM319.3 333.8h0.7v0.7h-0.7zM323.2 332.0h0.5v0.5h-0.5zM347.0 331.6h0.8v0.8h-0.8zM344.6 339.5h0.7v0.7h-0.7zM349.6 325.0h0.6v0.6h-0.6zM360.9 347.0h0.9v0.9h-0.9zM356.7 351.8h0.7v0.7h-0.7zM363.7 344.5h0.5v0.5h-0.5zM326.6 359.8h0.8v0.8h-0.8zM317.8 330.0h0.8v0.8h-0.8zM316.8 349.1h0.5v0.5h-0.5zM323.1 343.7h0.7v0.7h-0.7zM312.9 344.1h0.8v0.8h-0.8zM321.7 333.9h0.9v0.9h-0.9zM338.3 341.1h0.6v0.6h-0.6zM327.2 329.2h0.7v0.7h-0.7zM344.8 344.9h0.9v0.9h-0.9zM342.1 348.8h0.9v0.9h-0.9zM342.0 325.8h0.6v0.6h-0.6zM338.9 358.4h0.7v0.7h-0.7zM334.1 340.5h0.9v0.9h-0.9zM353.8 339.6h0.7v0.7h-0.7zM335.0 350.5h0.6v0.6h-0.6zM350.1 344.0h0.5v0.5h-0.5zM341.8 331.0h0.5v0.5h-0.5zM326.8 332.5h0.5v0.5h-0.5zM323.3 330.6h0.5v0.5h-0.5zM355.2 355.6h0.6v0.6h-0.6zM319.8 355.7h0.7v0.7h-0.7zM355.7 329.3h0.8v0.8h-0.8zM330.4 352.5h0.6v0.6h-0.6zM333.9 348.9h0.9v0.9h-0.9zM321.5 345.8h0.7v0.7h-0.7zM351.0 331.3h0.7v0.7h-0.7zM342.8 342.6h0.8v0.8h-0.8zM347.0 328.9h0.7v0.7h-0.7zM358.7 338.4h0.7v0.7h-0.7zM329.1 345.2h0.6v0.6h-0.6zM317.3 347.2h0.8v0.8h-0.8zM345.8 325.6h0.7v0.7h-0.7zM352.9 326.2h0.7v0.7h-0.7zM346.5 343.2h0.7v0.7h-0.7zM338.4 345.1h0.9v0.9h-0.9zM335.9 337.2h0.5v0.5h-0.5zM355.5 327.1h0.6v0.6h-0.6zM346.4 348.8h0.8v0.8h-0.8zM361.0 336.5h0.7v0.7h-0.7zM317.3 341.5h0.7v0.7h-0.7zM343.3 348.9h0.5v0.5h-0.5zM330.5 343.2h0.5v0.5h-0.5zM333.0 328.5h0.9v0.9h-0.9zM346.4 343.2h0.7v0.7h-0.7zM358.4 334.5h0.7v0.7h-0.7zM319.4 339.6h0.8v0.8h-0.8zM313.7 340.4h0.6v0.6h-0.6zM322.4 360.2h0.5v0.5h-0.5zM322.5 333.4h0.5v0.5h-0.5zM351.0 330.8h0.5v0.5h-0.5zM363.1 332.7h0.5v0.5h-0.5zM331.4 325.3h0.8v0.8h-0.8zM356.2 330.0h0.6v0.6h-0.6zM342.6 332.3h0.7v0.7h-0.7zM341.2 332.5h0.7v0.7h-0.7zM325.2 329.9h0.8v0.8h-0.8zM326.3 352.4h0.5v0.5h-0.5zM319.1 338.1h0.5v0.5h-0.5zM347.6 348.7h0.6v0.6h-0.6zM349.1 349.8h0.8v0.8h-0.8zM344.4 328.6h0.9v0.9h-0.9zM365.1 340.3h0.9v0.9h-0.9zM353.1 346.1h0.9v0.9h-0.9zM313.1 343.4h0.7v0.7h-0.7zM348.3 357.9h0.5v0.5h-0.5z" fill="#d0d0d8" fill-opacity="0.5"/>
<path d="M313.4 333.4h0.9v0.9h-0.9zM351.8 349.8h0.7v0.7h-0.7zM346.4 345.2h0.8v0.8h-0.8zM335.2 342.2h0.7v0.7h-0.7zM339.3 325.9h0.5v0.5h-0.5zM331.0 341.0h0.8v0.8h-0.8zM343.2 327.6h0.6v0.6h-0.6zM347.6 332.1h0.8v0.8h-0.8zM329.4 329.4h0.7v0.7h-0.7zM320.4 334.6h0.8v0.8h-0.8zM320.6 353.2h0.8v0.8h-0.8zM348.1 359.5h0.6v0.6h-0.6zM324.1 337.3h0.8v0.8h-0.8zM330.1 356.9h0.6v0.6h-0.6zM338.8 324.0h0.6v0.6h-0.6zM357.3 342.6h0.8v0.8h-0.8zM356.4 348.1h0.6v0.6h-0.6zM328.2 327.0h0.6v0.6h-0.6zM344.2 324.0h0.8v0.8h-0.8zM320.4 337.3h0.5v0.5h-0.5zM356.8 330.5h0.5v0.5h-0.5zM330.4 332.0h0.6v0.6h-0.6zM316.3 330.6h0.7v0.7h-0.7zM360.0 349.6h0.7v0.7h-0.7zM353.5 347.2h0.5v0.5h-0.5zM338.9 341.4h0.9v0.9h-0.9zM354.9 357.0h0.6v0.6h-0.6zM332.3 337.2h0.9v0.9h-0.9zM325.3 358.2h0.5v0.5h-0.5zM315.6 336.9h0.6v0.6h-0.6zM346.3 352.6h0.7v0.7h-0.7zM364.9 335.9h0.6v0.6h-0.6zM315.4 336.9h0.6v0.6h-0.6zM357.8 329.0h0.4v0.4h-0.4zM354.8 339.6h0.8v0.8h-0.8zM333.8 351.1h0.5v0.5h-0.5zM363.8 347.0h0.4v0.4h-0.4zM355.7 336.8h0.6v0.6h-0.6zM340.6 351.4h0.6v0.6h-0.6zM328.8 342.3h0.5v0.5h-0.5zM327.6 356.8h0.6v0.6h-0.6z" fill="#d0d0d8" fill-opacity="0.25"/>
<path d="M355.5 328.8h0.5v0.5h-0.5zM337.1 346.4h0.8v0.8h-0.8zM314.8 343.9h0.8v0.8h-0.8zM337.5 339.5h0.5v0.5h-0.5zM350.5 354.3h0.5v0.5h-0.5zM356.4 349.5h0.6v0.6h-0.6zM337.4 351.3h0.5v0.5h-0.5zM335.5 355.6h0.6v0.6h-0.6zM337.4 334.2h0.7v0.7h-0.7zM354.1 338.0h0.5v0.5h-0.5zM349.8 327.7h0.9v0.9h-0.9zM340.0 339.5h0.6v0.6h-0.6zM322.0 342.6h0.8v0.8h-0.8zM315.2 333.7h0.8v0.8h-0.8zM359.2 325.1h0.8v0.8h-0.8zM332.1 332.6h0.6v0.6h-0.6zM350.4 338.4h0.9v0.9h-0.9zM350.6 357.9h0.4v0.4h-0.4zM360.8 340.0h0.7v0.7h-0.7zM348.5 351.0h0.5v0.5h-0.5zM346.7 349.7h0.6v0.6h-0.6zM356.4 354.5h0.7v0.7h-0.7zM316.2 329.2h0.7v0.7h-0.7zM357.1 337.8h0.8v0.8h-0.8zM352.4 345.6h0.6v0.6h-0.6zM341.0 347.8h0.6v0.6h-0.6zM313.9 348.3h0.5v0.5h-0.5zM338.3 346.2h0.8v0.8h-0.8zM351.8 331.5h0.6v0.6h-0.6zM343.4 342.8h0.7v0.7h-0.7zM338.0 351.8h0.8v0.8h-0.8zM354.6 334.2h0.5v0.5h-0.5zM329.8 345.4h0.8v0.8h-0.8zM338.6 339.9h0.5v0.5h-0.5zM346.0 325.8h0.7v0.7h-0.7zM355.8 354.3h0.6v0.6h-0.6zM353.0 337.9h0.6v0.6h-0.6zM341.0 334.9h0.9v0.9h-0.9zM321.4 360.1h0.6v0.6h-0.6zM312.9 345.4h0.8v0.8h-0.8zM328.9 334.3h0.7v0.7h-0.7zM333.7 326.0h0.6v0.6h-0.6zM337.0 344.7h0.5v0.5h-0.5zM352.8 332.1h0.8v0.8h-0.8zM338.0 333.7h0.5v0.5h-0.5zM339.6 347.7h0.5v0.5h-0.5zM351.6 340.0h0.9v0.9h-0.9zM344.8 332.5h0.5v0.5h-0.5zM343.1 349.5h0.8v0.8h-0.8zM321.4 343.1h0.9v0.9h-0.9zM341.3 333.5h0.6v0.6h-0.6zM358.2 344.8h0.6v0.6h-0.6z" fill="#d0d0d8" fill-opacity="0.75"/>
<path d="M355.8 356.6h0.8v0.8h-0.8zM364.7 343.5h0.9v0.9h-0.9zM348.8 322.2h0.6v0.6h-0.6zM309.5 337.3h0.7v0.7h-0.7zM327.9 326.3h0.6v0.6h-0.6zM368.0 331.8h1.1v1.1h-1.1zM311.4 345.2h0.8v0.8h-0.8zM313.0 329.5h0.7v0.7h-0.7zM310.5 344.6h0.8v0.8h-0.8zM316.9 329.6h1.0v1.0h-1.0zM350.3 322.1h1.0v1.0h-1.0zM312.8 332.8h0.8v0.8h-0.8zM358.4 350.3h1.1v1.1h-1.1zM325.4 358.6h0.7v0.7h-0.7zM361.8 346.7h1.0v1.0h-1.0zM365.3 336.1h0.8v0.8h-0.8zM355.5 325.5h0.7v0.7h-0.7zM323.5 323.6h0.6v0.6h-0.6zM324.7 359.9h0.7v0.7h-0.7zM356.1 355.0h0.7v0.7h-0.7zM324.6 359.4h0.8v0.8h-0.8zM338.5 358.3h0.9v0.9h-0.9zM312.8 350.0h1.1v1.1h-1.1zM357.8 353.5h1.1v1.1h-1.1zM367.1 343.1h1.0v1.0h-1.0zM309.2 344.1h1.0v1.0h-1.0zM317.7 360.2h1.1v1.1h-1.1zM349.3 357.8h0.8v0.8h-0.8zM316.5 358.4h1.0v1.0h-1.0zM367.0 343.9h0.9v0.9h-0.9zM363.9 341.5h0.8v0.8h-0.8zM339.6 324.8h0.8v0.8h-0.8zM346.2 362.0h0.9v0.9h-0.9zM311.5 339.5h0.6v0.6h-0.6z" fill="#ffffff" fill-opacity="0.5"/>
<path d="M334.9 361.8h0.7v0.7h-0.7zM360.0 326.3h0.7v0.7h-0.7zM322.8 358.7h1.1v1.1h-1.1zM331.2 322.8h1.2v1.2h-1.2zM322.0 357.9h1.2v1.2h-1.2zM364.7 329.1h0.9v0.9h-0.9zM326.3 325.3h0.8v0.8h-0.8zM316.8 357.4h1.2v1.2h-1.2zM312.0 346.9h1.1v1.1h-1.1zM320.3 360.3h0.7v0.7h-0.7zM342.5 325.2h1.1v1.1h-1.1zM311.4 344.3h0.9v0.9h-0.9zM362.7 326.8h1.0v1.0h-1.0zM357.6 355.6h0.9v0.9h-0.9zM330.1 358.3h1.1v1.1h-1.1zM321.0 362.5h0.7v0.7h-0.7zM333.2 326.6h1.0v1.0h-1.0zM361.4 353.5h1.0v1.0h-1.0zM329.6 361.6h1.0v1.0h-1.0zM315.3 348.5h0.9v0.9h-0.9zM341.5 321.8h1.0v1.0h-1.0zM362.9 328.5h0.7v0.7h-0.7zM332.4 359.5h0.9v0.9h-0.9zM338.7 321.3h1.0v1.0h-1.0zM330.3 322.5h1.1v1.1h-1.1zM339.2 361.4h0.6v0.6h-0.6zM310.8 348.7h1.0v1.0h-1.0zM364.1 348.2h1.1v1.1h-1.1zM316.0 352.4h0.8v0.8h-0.8zM364.3 341.4h1.2v1.2h-1.2zM318.6 326.4h1.0v1.0h-1.0zM346.3 360.5h1.2v1.2h-1.2zM325.8 323.3h0.6v0.6h-0.6zM313.3 347.0h0.8v0.8h-0.8zM350.8 358.7h0.9v0.9h-0.9zM353.1 361.0h0.9v0.9h-0.9zM353.9 359.1h0.6v0.6h-0.6zM312.3 344.4h1.2v1.2h-1.2zM367.0 344.2h0.8v0.8h-0.8zM323.3 361.5h0.7v0.7h-0.7zM338.9 362.4h1.0v1.0h-1.0zM356.6 353.6h1.1v1.1h-1.1zM336.1 322.0h1.1v1.1h-1.1zM311.8 345.0h1.1v1.1h-1.1zM312.7 338.9h0.8v0.8h-0.8zM363.1 329.0h0.6v0.6h-0.6zM312.4 339.3h1.0v1.0h-1.0z" fill="#ffffff" fill-opacity="0.75"/>
<path d="M309.8 340.4h0.6v0.6h-0.6zM361.2 348.9h1.1v1.1h-1.1zM309.0 335.3h0.9v0.9h-0.9zM309.5 342.0h0.9v0.9h-0.9zM342.0 361.4h0.8v0.8h-0.8zM345.6 324.5h1.0v1.0h-1.0zM324.9 360.4h1.1v1.1h-1.1zM357.1 358.8h1.1v1.1h-1.1zM315.5 330.0h1.1v1.1h-1.1zM334.6 321.9h0.7v0.7h-0.7zM365.3 339.7h0.6v0.6h-0.6zM331.1 323.3h1.0v1.0h-1.0zM312.7 342.5h0.7v0.7h-0.7zM339.4 324.0h1.1v1.1h-1.1zM330.9 324.8h0.8v0.8h-0.8zM357.7 327.2h1.0v1.0h-1.0zM336.3 360.2h0.9v0.9h-0.9zM343.3 361.6h0.7v0.7h-0.7zM365.9 333.5h0.8v0.8h-0.8z" fill="#ffffff" fill-opacity="1.0"/>
<path d="M317.1 355.2h0.6v0.6h-0.6zM302.7 348.9h0.7v0.7h-0.7zM317.0 356.2h0.8v0.8h-0.8zM295.8 353.1h0.5v0.5h-0.5zM303.7 350.2h0.8v0.8h-0.8zM297.7 349.1h0.6v0.6h-0.6zM302.0 355.7h0.5v0.5h-0.5zM300.8 345.0h0.8v0.8h-0.8zM304.5 353.0h0.5v0.5h-0.5z" fill="#d0d0d8" fill-opacity="0.25"/>
<path d="M310.1 352.2h0.5v0.5h-0.5zM298.0 342.6h0.9v0.9h-0.9zM305.2 350.0h0.7v0.7h-0.7zM295.1 359.3h0.7v0.7h-0.7zM299.3 347.6h0.7v0.7h-0.7zM296.1 344.0h0.8v0.8h-0.8zM315.0 356.7h0.8v0.8h-0.8zM301.1 346.9h0.5v0.5h-0.5zM304.5 347.2h0.5v0.5h-0.5zM312.6 353.8h0.8v0.8h-0.8zM309.1 358.8h0.5v0.5h-0.5zM308.9 344.0h0.4v0.4h-0.4zM296.8 351.6h0.9v0.9h-0.9zM302.6 347.0h0.6v0.6h-0.6zM295.9 350.5h0.8v0.8h-0.8zM295.1 354.2h0.5v0.5h-0.5zM294.1 349.7h0.5v0.5h-0.5zM305.0 349.1h0.9v0.9h-0.9zM302.4 349.6h0.6v0.6h-0.6zM302.3 342.5h0.7v0.7h-0.7zM308.6 348.6h0.7v0.7h-0.7zM299.0 351.4h0.7v0.7h-0.7zM312.8 348.3h0.8v0.8h-0.8zM314.1 356.0h0.5v0.5h-0.5zM302.5 340.0h0.5v0.5h-0.5zM306.3 358.4h0.5v0.5h-0.5zM303.2 344.8h0.7v0.7h-0.7z" fill="#d0d0d8" fill-opacity="0.5"/>
<path d="M304.8 353.8h0.6v0.6h-0.6zM314.3 359.3h0.6v0.6h-0.6zM294.7 358.2h0.7v0.7h-0.7zM306.4 345.1h0.8v0.8h-0.8zM310.1 355.7h0.5v0.5h-0.5zM295.9 348.4h0.6v0.6h-0.6zM293.1 355.8h0.7v0.7h-0.7zM296.4 350.7h0.6v0.6h-0.6zM301.4 354.5h0.7v0.7h-0.7zM301.9 355.4h0.6v0.6h-0.6zM315.9 358.9h0.5v0.5h-0.5zM309.6 355.4h0.8v0.8h-0.8zM306.9 357.9h0.6v0.6h-0.6z" fill="#d0d0d8" fill-opacity="0.75"/>
<path d="M304.0 339.8h0.7v0.7h-0.7zM317.5 355.0h0.9v0.9h-0.9zM295.5 348.3h0.8v0.8h-0.8zM292.1 356.2h0.9v0.9h-0.9zM290.5 348.3h0.7v0.7h-0.7zM317.7 356.7h0.6v0.6h-0.6zM312.7 344.8h0.8v0.8h-0.8zM318.2 359.6h0.6v0.6h-0.6zM294.8 355.3h0.6v0.6h-0.6zM313.6 358.8h0.9v0.9h-0.9zM314.5 355.0h0.6v0.6h-0.6zM297.1 358.3h1.0v1.0h-1.0zM291.7 345.2h1.0v1.0h-1.0zM318.6 358.9h0.9v0.9h-0.9zM291.2 350.5h0.9v0.9h-0.9zM314.5 349.3h1.1v1.1h-1.1zM311.6 345.8h0.7v0.7h-0.7zM307.6 344.7h0.7v0.7h-0.7zM318.8 361.0h1.0v1.0h-1.0zM291.6 347.2h0.6v0.6h-0.6zM296.0 339.9h0.7v0.7h-0.7zM318.1 363.0h0.7v0.7h-0.7zM291.5 357.4h1.1v1.1h-1.1zM304.4 341.0h1.2v1.2h-1.2zM291.9 346.7h1.0v1.0h-1.0zM314.2 350.2h1.1v1.1h-1.1zM304.9 339.9h0.6v0.6h-0.6z" fill="#ffffff" fill-opacity="0.75"/>
<path d="M295.1 358.8h1.0v1.0h-1.0zM317.9 359.5h0.8v0.8h-0.8zM306.0 341.0h1.0v1.0h-1.0zM291.1 354.5h0.7v0.7h-0.7zM291.6 350.2h0.6v0.6h-0.6zM316.7 357.2h0.9v0.9h-0.9zM295.0 345.8h1.2v1.2h-1.2zM292.0 354.8h0.6v0.6h-0.6zM319.2 356.1h0.8v0.8h-0.8zM297.3 361.9h0.7v0.7h-0.7zM302.6 340.2h1.0v1.0h-1.0zM296.4 343.1h0.8v0.8h-0.8zM309.6 359.9h1.1v1.1h-1.1zM303.3 341.3h1.0v1.0h-1.0z" fill="#ffffff" fill-opacity="1.0"/>
<path d="M302.5 341.5h0.6v0.6h-0.6zM308.6 341.1h0.9v0.9h-0.9zM314.1 361.0h1.0v1.0h-1.0zM308.8 342.2h0.9v0.9h-0.9zM309.2 362.3h1.2v1.2h-1.2zM318.2 355.8h0.9v0.9h-0.9zM315.8 361.9h0.7v0.7h-0.7zM308.6 342.7h1.1v1.1h-1.1zM290.5 353.0h1.1v1.1h-1.1zM299.8 340.0h0.7v0.7h-0.7zM318.7 356.6h0.6v0.6h-0.6zM312.5 350.0h1.1v1.1h-1.1zM313.2 362.8h0.8v0.8h-0.8zM294.5 355.4h0.7v0.7h-0.7zM300.4 361.7h1.0v1.0h-1.0zM293.2 343.5h1.2v1.2h-1.2zM307.5 339.9h1.0v1.0h-1.0z" fill="#ffffff" fill-opacity="0.5"/>
<path d="M370.7 270.6h0.7v0.7h-0.7zM364.4 273.1h0.6v0.6h-0.6zM381.9 274.8h0.7v0.7h-0.7zM369.8 288.9h0.5v0.5h-0.5zM380.8 283.5h0.8v0.8h-0.8zM380.9 267.5h0.6v0.6h-0.6zM371.8 267.7h0.6v0.6h-0.6zM385.9 272.0h0.6v0.6h-0.6zM383.9 289.2h0.8v0.8h-0.8zM382.3 284.8h0.6v0.6h-0.6zM373.7 288.9h0.6v0.6h-0.6zM378.9 272.6h0.8v0.8h-0.8zM374.0 271.0h0.6v0.6h-0.6zM386.6 282.9h0.5v0.5h-0.5z" fill="#d0d0d8" fill-opacity="0.25"/>
<path d="M379.6 272.9h0.6v0.6h-0.6zM377.0 268.7h0.7v0.7h-0.7zM383.8 287.5h0.9v0.9h-0.9zM378.3 267.6h0.6v0.6h-0.6zM383.1 274.2h0.7v0.7h-0.7zM377.8 270.6h0.5v0.5h-0.5zM359.7 268.6h0.8v0.8h-0.8zM364.8 267.8h0.5v0.5h-0.5zM372.7 280.6h0.6v0.6h-0.6zM370.7 282.7h0.8v0.8h-0.8zM356.5 278.4h0.9v0.9h-0.9zM377.9 277.5h0.9v0.9h-0.9zM381.7 289.5h0.5v0.5h-0.5zM371.0 273.3h0.8v0.8h-0.8zM381.1 269.9h0.7v0.7h-0.7zM372.9 288.4h0.6v0.6h-0.6zM358.1 276.0h0.5v0.5h-0.5zM369.1 267.5h0.7v0.7h-0.7zM369.9 270.2h0.8v0.8h-0.8zM366.8 285.2h0.7v0.7h-0.7zM359.7 269.1h0.5v0.5h-0.5zM377.4 269.1h0.5v0.5h-0.5zM385.0 269.9h0.6v0.6h-0.6zM375.3 290.5h0.9v0.9h-0.9zM385.7 277.0h0.8v0.8h-0.8zM366.6 268.0h0.7v0.7h-0.7zM379.6 279.7h0.6v0.6h-0.6zM371.7 268.5h0.6v0.6h-0.6zM364.4 279.0h0.8v0.8h-0.8z" fill="#d0d0d8" fill-opacity="0.5"/>
<path d="M372.5 283.6h0.5v0.5h-0.5zM361.8 272.6h0.7v0.7h-0.7zM365.5 272.6h0.8v0.8h-0.8zM368.1 286.3h0.6v0.6h-0.6zM369.8 272.2h0.6v0.6h-0.6zM377.4 287.7h0.9v0.9h-0.9zM372.4 276.4h0.9v0.9h-0.9zM383.1 275.6h0.7v0.7h-0.7zM381.4 288.2h0.6v0.6h-0.6zM354.7 272.3h0.7v0.7h-0.7zM384.1 271.4h0.8v0.8h-0.8zM365.6 285.1h0.8v0.8h-0.8zM382.3 288.0h0.5v0.5h-0.5zM378.5 290.4h0.8v0.8h-0.8zM386.4 279.6h0.8v0.8h-0.8zM380.7 278.8h0.7v0.7h-0.7zM357.7 275.8h0.8v0.8h-0.8zM378.3 277.5h0.7v0.7h-0.7zM382.2 276.5h0.7v0.7h-0.7zM383.1 271.9h0.5v0.5h-0.5zM369.8 270.6h0.6v0.6h-0.6zM363.6 273.2h0.5v0.5h-0.5zM381.6 272.5h0.7v0.7h-0.7zM359.1 268.3h0.8v0.8h-0.8z" fill="#d0d0d8" fill-opacity="0.75"/>
<path d="M362.8 265.0h0.6v0.6h-0.6zM356.7 266.6h0.6v0.6h-0.6zM371.7 265.5h0.6v0.6h-0.6zM375.8 265.8h0.6v0.6h-0.6zM384.7 290.1h1.2v1.2h-1.2zM387.1 274.6h1.0v1.0h-1.0zM372.7 265.0h1.0v1.0h-1.0zM388.6 281.8h0.7v0.7h-0.7zM369.9 290.1h0.8v0.8h-0.8zM354.5 267.6h0.6v0.6h-0.6zM377.7 289.1h0.9v0.9h-0.9zM380.4 290.8h1.1v1.1h-1.1zM355.0 269.6h1.1v1.1h-1.1zM355.3 268.7h0.7v0.7h-0.7zM370.3 266.4h1.1v1.1h-1.1zM374.2 294.4h1.0v1.0h-1.0z" fill="#ffffff" fill-opacity="1.0"/>
<path d="M368.0 284.3h1.0v1.0h-1.0zM382.2 288.8h1.2v1.2h-1.2zM386.2 287.8h1.0v1.0h-1.0zM372.1 292.8h0.8v0.8h-0.8zM370.1 290.5h0.6v0.6h-0.6zM388.0 285.7h0.9v0.9h-0.9zM385.7 288.6h0.9v0.9h-0.9zM358.3 265.1h1.0v1.0h-1.0zM387.8 266.8h1.1v1.1h-1.1zM374.4 288.7h0.8v0.8h-0.8zM374.0 289.3h0.9v0.9h-0.9zM356.6 267.4h0.9v0.9h-0.9zM363.3 281.1h0.9v0.9h-0.9zM375.8 269.2h0.8v0.8h-0.8zM355.8 279.1h1.2v1.2h-1.2zM351.0 272.8h1.2v1.2h-1.2zM382.4 268.2h0.6v0.6h-0.6zM364.1 266.5h1.0v1.0h-1.0zM385.8 283.2h0.9v0.9h-0.9zM380.1 266.0h1.1v1.1h-1.1zM374.9 290.4h0.7v0.7h-0.7zM351.0 267.2h0.8v0.8h-0.8zM353.9 272.2h0.6v0.6h-0.6zM362.4 285.2h1.0v1.0h-1.0zM364.6 287.7h0.6v0.6h-0.6zM372.1 291.0h0.9v0.9h-0.9zM382.8 268.9h0.8v0.8h-0.8zM386.9 269.0h0.9v0.9h-0.9z" fill="#ffffff" fill-opacity="0.75"/>
<path d="M387.8 276.5h1.1v1.1h-1.1zM377.8 293.6h0.9v0.9h-0.9zM381.0 290.7h0.6v0.6h-0.6zM355.6 279.9h1.1v1.1h-1.1zM388.8 281.0h1.0v1.0h-1.0zM383.1 288.7h1.0v1.0h-1.0zM350.4 272.7h1.0v1.0h-1.0zM380.5 265.9h0.8v0.8h-0.8zM388.9 274.7h1.2v1.2h-1.2zM350.2 268.1h0.8v0.8h-0.8zM387.7 269.0h1.0v1.0h-1.0zM385.7 271.2h1.0v1.0h-1.0zM374.7 268.8h1.0v1.0h-1.0zM351.7 265.6h0.7v0.7h-0.7zM377.9 291.3h0.9v0.9h-0.9zM380.7 293.0h0.6v0.6h-0.6zM352.2 271.2h0.8v0.8h-0.8zM368.5 266.7h0.6v0.6h-0.6z" fill="#ffffff" fill-opacity="0.5"/>
<ellipse cx="339.8" cy="312.8" rx="9" ry="7.2" transform="rotate(-15 339.8 312.8)" fill="url(#nuc)" filter="url(#mb3)"/>
<path d="M340.6 312.4h0.9v0.9h-0.9zM343.5 312.2h0.6v0.6h-0.6z" fill="#9090ff" fill-opacity="0.25"/>
<path d="M339.7 310.8h0.8v0.8h-0.8zM343.9 311.3h0.7v0.7h-0.7z" fill="#9090ff" fill-opacity="0.5"/>
<ellipse cx="344.7" cy="340.6" rx="11" ry="8" transform="rotate(-10 344.7 340.6)" fill="url(#nuc)" filter="url(#mb3)"/>
<path d="M348.9 339.9h0.7v0.7h-0.7zM347.2 338.0h0.8v0.8h-0.8zM349.7 337.7h0.8v0.8h-0.8zM350.8 336.1h0.7v0.7h-0.7z" fill="#9090ff" fill-opacity="0.5"/>
<ellipse cx="370.4" cy="269.5" rx="6.2" ry="2.8" transform="rotate(0 370.4 269.5)" fill="url(#nuc)" filter="url(#mb3)"/>
<path d="M369.1 269.7h0.8v0.8h-0.8zM366.6 268.3h1.0v1.0h-1.0zM367.7 268.0h0.9v0.9h-0.9zM368.1 267.4h1.0v1.0h-1.0z" fill="#9090ff" fill-opacity="0.5"/>
</g>
<rect x="295.20" y="269.00" width="90.20" height="90.60" fill="none" stroke="#222" stroke-width="0.8"/>
<rect x="366.80" y="356.40" width="17.60" height="2.40" fill="#fff" stroke="none" stroke-width="0"/>
<g clip-path="url(#mic2)">
<rect x="389.00" y="269.00" width="90.60" height="90.60" fill="#07070e" stroke="none" stroke-width="0"/>
<polygon points="403.0,278.9 412.7,276.1 419.7,271.9 426.6,271.2 433.5,276.1 432.2,283.0 430.8,288.6 436.3,291.4 443.3,291.4 450.2,296.9 454.3,303.8 459.9,308.0 465.4,313.5 468.2,320.5 465.4,327.4 461.3,333.0 459.9,339.9 455.7,345.4 451.6,349.6 440.5,352.4 430.8,353.8 421.1,351.0 412.7,348.2 407.2,345.4 401.6,339.9 396.1,333.0 391.9,327.4 391.9,317.7 394.7,309.4 396.1,301.1 394.7,295.5 398.9,288.6" fill="#36363d" filter="url(#mb1)"/>
<polygon points="440.5,284.4 450.2,281.6 462.7,280.3 473.8,277.5 480.7,276.1 480.7,306.6 473.8,305.2 468.2,306.6 462.7,305.2 457.1,302.4 451.6,298.3 444.6,292.7 440.5,288.6" fill="#55555c" filter="url(#mb1)"/>
<rect x="389.0" y="269.0" width="90.60000000000002" height="90.60000000000002" filter="url(#mnoise)" style="mix-blend-mode:multiply"/>
<path d="M425.3 342.1h0.9v0.9h-0.9zM408.2 342.2h0.6v0.6h-0.6zM413.8 280.8h0.8v0.8h-0.8zM435.4 300.8h0.6v0.6h-0.6zM411.5 297.6h0.5v0.5h-0.5zM410.4 345.7h0.6v0.6h-0.6zM412.7 316.8h0.6v0.6h-0.6zM417.9 294.3h0.9v0.9h-0.9zM420.9 327.5h0.5v0.5h-0.5zM404.8 290.4h0.6v0.6h-0.6zM399.7 292.3h0.8v0.8h-0.8zM431.3 318.8h0.9v0.9h-0.9zM402.0 308.9h0.6v0.6h-0.6zM417.6 294.7h0.8v0.8h-0.8zM442.0 302.6h0.5v0.5h-0.5zM425.1 334.8h0.8v0.8h-0.8zM433.8 326.8h0.9v0.9h-0.9zM459.5 322.2h0.5v0.5h-0.5zM398.9 296.3h0.7v0.7h-0.7zM441.3 294.1h0.7v0.7h-0.7zM424.4 291.9h0.5v0.5h-0.5zM417.2 296.4h0.6v0.6h-0.6zM400.6 315.0h0.6v0.6h-0.6zM450.1 321.0h0.7v0.7h-0.7zM402.1 291.1h0.7v0.7h-0.7zM433.3 291.6h0.5v0.5h-0.5zM449.3 302.5h0.6v0.6h-0.6zM451.0 339.5h0.5v0.5h-0.5zM447.4 336.9h0.7v0.7h-0.7zM410.2 312.2h0.9v0.9h-0.9zM405.2 281.8h0.6v0.6h-0.6zM423.1 316.2h0.5v0.5h-0.5zM459.1 312.3h0.5v0.5h-0.5zM409.7 276.8h0.7v0.7h-0.7zM399.8 313.2h0.8v0.8h-0.8zM415.5 315.7h0.6v0.6h-0.6zM440.5 313.9h0.5v0.5h-0.5zM419.9 310.1h0.7v0.7h-0.7zM403.9 327.5h0.8v0.8h-0.8zM453.9 307.6h0.9v0.9h-0.9zM394.8 312.4h0.4v0.4h-0.4zM432.1 278.4h0.4v0.4h-0.4zM422.6 296.9h0.5v0.5h-0.5zM439.6 296.2h0.6v0.6h-0.6z" fill="#d0d0d8" fill-opacity="0.25"/>
<path d="M424.1 308.9h0.7v0.7h-0.7zM425.5 272.3h0.6v0.6h-0.6zM408.3 304.9h0.8v0.8h-0.8zM415.1 310.8h0.7v0.7h-0.7zM396.0 299.4h0.5v0.5h-0.5zM410.8 276.7h0.6v0.6h-0.6zM455.4 305.9h0.9v0.9h-0.9zM404.8 289.4h0.6v0.6h-0.6zM425.7 318.8h0.7v0.7h-0.7zM432.3 328.5h0.5v0.5h-0.5zM445.8 321.5h0.8v0.8h-0.8zM395.4 330.9h0.5v0.5h-0.5zM428.8 313.5h0.6v0.6h-0.6zM432.4 342.9h0.7v0.7h-0.7zM442.4 309.3h0.7v0.7h-0.7zM407.8 301.2h0.8v0.8h-0.8zM438.5 338.8h0.6v0.6h-0.6zM425.9 316.0h0.6v0.6h-0.6zM440.4 327.3h0.9v0.9h-0.9zM424.3 300.9h0.7v0.7h-0.7zM429.8 333.7h0.7v0.7h-0.7zM446.8 322.3h0.5v0.5h-0.5zM429.8 284.9h0.8v0.8h-0.8zM428.0 277.0h0.6v0.6h-0.6zM454.1 346.3h0.7v0.7h-0.7zM451.0 339.6h0.7v0.7h-0.7zM437.6 343.8h0.8v0.8h-0.8zM419.9 336.5h0.6v0.6h-0.6zM418.9 279.7h0.6v0.6h-0.6zM413.9 282.3h0.5v0.5h-0.5zM399.3 288.8h0.8v0.8h-0.8zM451.0 302.5h0.5v0.5h-0.5zM443.7 339.1h0.5v0.5h-0.5zM435.5 325.0h0.7v0.7h-0.7zM442.2 307.9h0.8v0.8h-0.8zM414.9 277.0h0.6v0.6h-0.6zM457.8 308.4h0.8v0.8h-0.8zM434.2 339.2h0.5v0.5h-0.5zM401.1 332.5h0.8v0.8h-0.8zM445.7 350.0h0.8v0.8h-0.8zM431.0 300.1h0.6v0.6h-0.6zM437.5 316.2h0.6v0.6h-0.6zM402.6 332.1h0.5v0.5h-0.5zM400.0 298.5h0.5v0.5h-0.5zM426.1 298.6h0.6v0.6h-0.6zM432.6 322.2h0.5v0.5h-0.5zM463.9 317.9h0.5v0.5h-0.5zM410.9 277.9h0.8v0.8h-0.8zM449.0 300.1h0.7v0.7h-0.7zM441.9 342.6h0.9v0.9h-0.9zM426.5 350.5h0.7v0.7h-0.7zM402.5 321.5h0.8v0.8h-0.8zM413.6 284.8h0.9v0.9h-0.9zM426.6 273.9h0.5v0.5h-0.5zM457.8 329.0h0.9v0.9h-0.9zM435.2 347.6h0.7v0.7h-0.7zM435.4 330.4h0.5v0.5h-0.5zM412.9 286.2h0.6v0.6h-0.6zM401.4 338.6h0.9v0.9h-0.9z" fill="#d0d0d8" fill-opacity="0.5"/>
<path d="M411.1 332.4h0.6v0.6h-0.6zM410.8 297.0h0.6v0.6h-0.6zM395.6 328.6h0.6v0.6h-0.6zM407.7 322.5h0.8v0.8h-0.8zM430.7 341.4h0.5v0.5h-0.5zM416.7 349.0h0.8v0.8h-0.8zM462.7 311.2h0.8v0.8h-0.8zM452.6 309.7h0.7v0.7h-0.7zM417.4 287.3h0.7v0.7h-0.7zM450.2 345.3h0.5v0.5h-0.5zM442.7 332.3h0.6v0.6h-0.6zM417.6 296.5h0.6v0.6h-0.6zM428.7 322.8h0.5v0.5h-0.5zM458.4 327.8h0.7v0.7h-0.7zM415.1 323.5h0.5v0.5h-0.5zM459.1 335.3h0.9v0.9h-0.9zM444.1 297.6h0.9v0.9h-0.9zM430.3 303.3h0.8v0.8h-0.8zM400.3 336.0h0.5v0.5h-0.5zM435.9 301.8h0.8v0.8h-0.8zM399.3 289.6h0.9v0.9h-0.9zM407.2 301.8h0.4v0.4h-0.4zM460.3 328.8h0.7v0.7h-0.7zM417.4 318.9h0.5v0.5h-0.5zM461.8 310.0h0.9v0.9h-0.9zM414.1 296.4h0.7v0.7h-0.7zM427.3 283.5h0.5v0.5h-0.5zM450.4 342.6h0.5v0.5h-0.5zM427.9 319.3h0.5v0.5h-0.5zM401.8 312.4h0.6v0.6h-0.6zM408.1 292.9h0.6v0.6h-0.6zM423.8 332.1h0.5v0.5h-0.5zM409.4 302.7h0.6v0.6h-0.6zM408.6 296.9h0.7v0.7h-0.7zM442.7 320.7h0.9v0.9h-0.9zM442.7 325.3h0.5v0.5h-0.5zM412.3 299.6h0.6v0.6h-0.6zM401.5 317.5h0.8v0.8h-0.8zM450.4 323.8h0.6v0.6h-0.6zM401.2 329.0h0.8v0.8h-0.8zM459.4 320.0h0.8v0.8h-0.8zM395.9 298.3h0.6v0.6h-0.6zM420.9 272.1h0.6v0.6h-0.6zM423.5 299.6h0.5v0.5h-0.5zM405.1 340.0h0.6v0.6h-0.6z" fill="#d0d0d8" fill-opacity="0.75"/>
<path d="M462.1 325.7h0.6v0.6h-0.6zM468.0 327.5h0.9v0.9h-0.9zM445.5 293.0h0.6v0.6h-0.6zM464.5 317.8h1.1v1.1h-1.1zM414.3 273.9h0.7v0.7h-0.7zM395.4 301.6h1.0v1.0h-1.0zM465.8 318.0h0.7v0.7h-0.7zM421.8 269.4h0.7v0.7h-0.7zM413.2 272.2h0.7v0.7h-0.7zM410.9 277.1h0.9v0.9h-0.9zM467.2 324.1h1.0v1.0h-1.0zM398.0 334.2h0.6v0.6h-0.6zM404.0 281.4h0.6v0.6h-0.6zM406.4 279.7h1.1v1.1h-1.1zM429.8 270.8h0.9v0.9h-0.9zM432.4 272.7h0.6v0.6h-0.6zM463.0 315.0h1.2v1.2h-1.2zM467.6 314.0h0.8v0.8h-0.8zM418.6 272.9h0.6v0.6h-0.6zM396.8 329.8h0.6v0.6h-0.6zM389.8 317.2h1.1v1.1h-1.1zM391.5 326.8h1.1v1.1h-1.1zM400.1 336.8h1.1v1.1h-1.1zM428.0 353.3h0.7v0.7h-0.7zM441.3 290.8h1.0v1.0h-1.0zM430.9 290.1h0.6v0.6h-0.6zM397.5 284.6h0.8v0.8h-0.8zM413.3 278.1h0.6v0.6h-0.6zM467.4 328.6h0.7v0.7h-0.7zM405.1 344.3h0.8v0.8h-0.8zM395.7 294.3h0.8v0.8h-0.8zM451.8 346.0h1.1v1.1h-1.1zM442.6 291.3h1.0v1.0h-1.0zM389.8 320.1h0.8v0.8h-0.8zM454.6 348.1h1.1v1.1h-1.1zM437.3 350.8h0.7v0.7h-0.7zM429.8 273.3h1.0v1.0h-1.0zM465.5 323.1h0.7v0.7h-0.7zM432.5 286.8h0.7v0.7h-0.7zM413.9 273.0h0.9v0.9h-0.9zM434.6 289.3h0.8v0.8h-0.8zM432.1 355.3h0.8v0.8h-0.8zM447.4 291.5h0.9v0.9h-0.9z" fill="#ffffff" fill-opacity="1.0"/>
<path d="M405.3 343.9h0.7v0.7h-0.7zM397.3 286.5h1.0v1.0h-1.0zM441.8 350.6h1.1v1.1h-1.1zM458.6 336.0h1.2v1.2h-1.2zM394.0 331.8h0.8v0.8h-0.8zM394.0 309.2h1.0v1.0h-1.0zM468.7 318.1h0.6v0.6h-0.6zM400.9 287.1h1.1v1.1h-1.1zM464.9 328.8h0.8v0.8h-0.8zM428.0 271.1h0.9v0.9h-0.9zM416.7 269.4h0.7v0.7h-0.7zM444.0 292.9h0.8v0.8h-0.8zM467.4 323.7h1.0v1.0h-1.0zM425.9 353.6h0.8v0.8h-0.8zM450.6 300.0h0.6v0.6h-0.6zM439.7 292.4h1.1v1.1h-1.1zM390.8 324.6h0.6v0.6h-0.6zM454.3 347.4h0.8v0.8h-0.8zM442.3 351.5h0.9v0.9h-0.9zM441.7 288.4h0.9v0.9h-0.9zM395.9 301.4h1.1v1.1h-1.1zM397.8 287.0h0.7v0.7h-0.7zM401.0 289.1h0.6v0.6h-0.6zM453.6 296.9h0.7v0.7h-0.7zM434.8 274.4h1.1v1.1h-1.1zM391.5 313.6h1.2v1.2h-1.2zM390.0 323.5h1.1v1.1h-1.1zM396.0 288.8h0.8v0.8h-0.8zM466.7 328.6h1.2v1.2h-1.2zM453.7 349.5h0.8v0.8h-0.8zM399.3 278.3h1.0v1.0h-1.0zM450.9 299.5h0.7v0.7h-0.7zM414.0 273.7h0.6v0.6h-0.6zM397.6 289.8h0.8v0.8h-0.8zM414.7 349.4h0.8v0.8h-0.8zM396.9 284.9h0.9v0.9h-0.9zM466.1 325.6h0.7v0.7h-0.7zM415.1 270.2h1.1v1.1h-1.1zM461.6 309.4h0.9v0.9h-0.9zM412.1 276.9h0.6v0.6h-0.6zM402.6 284.6h0.9v0.9h-0.9zM408.3 343.7h0.8v0.8h-0.8zM407.3 276.3h0.6v0.6h-0.6zM430.0 281.0h1.2v1.2h-1.2zM389.5 329.9h1.0v1.0h-1.0zM405.8 277.4h0.7v0.7h-0.7zM461.8 341.2h0.9v0.9h-0.9zM466.4 324.2h0.8v0.8h-0.8zM453.9 298.4h1.1v1.1h-1.1zM449.2 295.8h0.6v0.6h-0.6zM452.0 301.0h0.7v0.7h-0.7zM417.3 348.3h1.1v1.1h-1.1zM399.8 286.5h0.7v0.7h-0.7zM412.1 276.4h0.9v0.9h-0.9zM431.0 283.6h0.7v0.7h-0.7zM394.1 317.0h0.6v0.6h-0.6zM430.2 275.6h0.6v0.6h-0.6zM452.3 347.5h1.0v1.0h-1.0zM393.2 301.1h1.0v1.0h-1.0zM406.9 275.8h0.6v0.6h-0.6zM450.4 350.5h0.6v0.6h-0.6zM464.6 316.2h0.9v0.9h-0.9zM462.8 331.8h0.7v0.7h-0.7zM447.0 296.6h0.8v0.8h-0.8zM465.1 318.4h0.9v0.9h-0.9zM457.5 343.8h0.9v0.9h-0.9zM428.5 286.6h0.8v0.8h-0.8zM463.1 310.9h0.9v0.9h-0.9zM423.1 351.0h0.6v0.6h-0.6zM452.1 303.8h1.0v1.0h-1.0zM451.1 296.7h1.1v1.1h-1.1zM454.7 302.5h1.0v1.0h-1.0z" fill="#ffffff" fill-opacity="0.75"/>
<path d="M397.5 287.2h1.0v1.0h-1.0zM394.7 292.3h1.0v1.0h-1.0zM460.4 328.9h1.1v1.1h-1.1zM459.1 344.6h0.9v0.9h-0.9zM465.0 325.2h1.0v1.0h-1.0zM456.1 304.4h1.1v1.1h-1.1zM465.8 319.0h1.1v1.1h-1.1zM461.9 337.4h0.8v0.8h-0.8zM430.9 286.7h0.7v0.7h-0.7zM467.4 326.2h0.8v0.8h-0.8zM428.9 351.1h1.2v1.2h-1.2zM430.3 273.4h1.1v1.1h-1.1zM417.6 269.6h0.9v0.9h-0.9zM468.0 319.4h0.6v0.6h-0.6zM466.3 327.0h0.9v0.9h-0.9zM394.3 305.3h0.6v0.6h-0.6zM462.1 335.7h0.6v0.6h-0.6zM445.3 291.5h0.8v0.8h-0.8zM430.3 273.4h0.8v0.8h-0.8zM463.6 309.6h0.7v0.7h-0.7zM431.4 350.8h0.8v0.8h-0.8zM467.3 316.7h1.1v1.1h-1.1zM398.5 331.7h0.7v0.7h-0.7zM405.7 345.9h0.7v0.7h-0.7zM390.0 321.0h0.6v0.6h-0.6zM391.4 320.6h0.8v0.8h-0.8zM456.9 307.6h1.0v1.0h-1.0zM450.4 295.1h0.7v0.7h-0.7zM410.2 274.4h0.8v0.8h-0.8zM439.1 353.3h1.0v1.0h-1.0zM459.7 330.9h0.9v0.9h-0.9zM399.9 285.8h0.8v0.8h-0.8zM417.1 348.4h1.2v1.2h-1.2zM464.4 317.5h0.7v0.7h-0.7zM457.8 336.7h0.7v0.7h-0.7zM455.3 305.4h1.1v1.1h-1.1zM450.2 299.5h0.6v0.6h-0.6zM430.1 270.8h1.0v1.0h-1.0zM394.7 300.8h0.9v0.9h-0.9zM435.2 288.6h0.7v0.7h-0.7zM444.7 348.7h0.6v0.6h-0.6z" fill="#ffffff" fill-opacity="0.5"/>
<path d="M455.4 295.9h0.8v0.8h-0.8zM455.1 295.3h0.5v0.5h-0.5zM472.5 279.6h0.8v0.8h-0.8zM462.9 292.7h0.5v0.5h-0.5zM476.7 289.9h0.7v0.7h-0.7zM458.3 291.6h0.7v0.7h-0.7zM461.5 283.6h0.5v0.5h-0.5zM471.3 279.3h0.9v0.9h-0.9zM463.9 291.7h0.6v0.6h-0.6zM463.8 292.7h0.8v0.8h-0.8zM478.2 297.6h0.7v0.7h-0.7zM452.5 288.4h0.9v0.9h-0.9zM475.2 302.6h0.6v0.6h-0.6zM467.5 299.3h0.4v0.4h-0.4zM468.8 284.8h0.5v0.5h-0.5zM457.2 280.6h0.9v0.9h-0.9zM466.2 300.1h0.8v0.8h-0.8zM459.1 302.3h0.9v0.9h-0.9zM462.8 287.1h0.5v0.5h-0.5z" fill="#d0d0d8" fill-opacity="0.25"/>
<path d="M466.3 285.7h0.8v0.8h-0.8zM478.4 292.3h0.8v0.8h-0.8zM461.7 285.5h0.6v0.6h-0.6zM451.0 284.0h0.5v0.5h-0.5zM461.1 294.8h0.5v0.5h-0.5zM441.6 288.2h0.7v0.7h-0.7zM457.5 296.0h0.8v0.8h-0.8zM471.3 286.4h0.6v0.6h-0.6zM463.7 292.4h0.6v0.6h-0.6zM474.6 283.1h0.6v0.6h-0.6zM466.5 288.9h0.5v0.5h-0.5zM459.3 299.3h0.8v0.8h-0.8zM448.8 287.0h0.7v0.7h-0.7zM441.6 286.0h0.9v0.9h-0.9zM466.7 298.6h0.5v0.5h-0.5zM452.3 288.9h0.6v0.6h-0.6zM472.8 279.0h0.6v0.6h-0.6zM466.7 292.4h0.6v0.6h-0.6zM473.0 292.3h0.5v0.5h-0.5zM456.7 285.5h0.6v0.6h-0.6zM465.8 301.5h0.7v0.7h-0.7zM476.9 279.4h0.7v0.7h-0.7zM462.6 298.3h0.6v0.6h-0.6zM452.8 288.3h0.5v0.5h-0.5zM474.3 293.2h0.6v0.6h-0.6zM464.3 304.1h0.8v0.8h-0.8zM474.3 304.5h0.9v0.9h-0.9zM462.9 292.0h0.5v0.5h-0.5zM475.5 281.6h0.9v0.9h-0.9zM445.9 288.1h0.7v0.7h-0.7zM466.9 302.1h0.5v0.5h-0.5zM470.4 287.8h0.9v0.9h-0.9zM474.9 295.3h0.6v0.6h-0.6zM472.5 294.6h0.8v0.8h-0.8zM470.5 304.8h0.8v0.8h-0.8z" fill="#d0d0d8" fill-opacity="0.5"/>
<path d="M479.4 300.2h0.4v0.4h-0.4zM473.5 295.9h0.6v0.6h-0.6zM463.2 300.3h0.5v0.5h-0.5zM478.5 297.2h0.9v0.9h-0.9zM478.1 294.5h0.6v0.6h-0.6zM470.7 303.1h0.6v0.6h-0.6zM447.3 289.4h0.7v0.7h-0.7zM474.8 296.5h0.8v0.8h-0.8zM472.2 299.6h0.5v0.5h-0.5zM465.4 298.9h0.6v0.6h-0.6zM454.4 284.3h0.5v0.5h-0.5zM455.5 285.4h0.7v0.7h-0.7zM462.6 284.8h0.8v0.8h-0.8zM454.5 297.0h0.7v0.7h-0.7zM462.0 291.0h0.7v0.7h-0.7zM470.8 282.7h0.6v0.6h-0.6zM458.4 302.2h0.8v0.8h-0.8zM468.0 304.4h0.5v0.5h-0.5zM475.3 296.0h0.6v0.6h-0.6zM467.2 293.7h0.5v0.5h-0.5zM459.3 299.7h0.5v0.5h-0.5zM460.2 292.0h0.7v0.7h-0.7zM458.5 291.7h0.5v0.5h-0.5z" fill="#d0d0d8" fill-opacity="0.75"/>
<path d="M440.0 291.1h1.1v1.1h-1.1zM467.8 279.0h0.9v0.9h-0.9zM447.4 295.0h1.0v1.0h-1.0zM452.5 280.9h0.8v0.8h-0.8zM463.8 277.2h1.2v1.2h-1.2zM444.1 280.6h0.7v0.7h-0.7zM449.3 283.9h0.6v0.6h-0.6zM468.0 277.8h1.2v1.2h-1.2zM480.3 304.3h1.0v1.0h-1.0zM470.5 303.5h1.0v1.0h-1.0zM440.4 289.7h0.7v0.7h-0.7zM461.2 302.0h1.1v1.1h-1.1zM480.9 299.1h1.1v1.1h-1.1zM457.1 280.4h1.1v1.1h-1.1zM468.6 277.8h1.1v1.1h-1.1zM465.4 306.1h0.9v0.9h-0.9zM473.4 275.1h0.8v0.8h-0.8zM478.8 294.4h1.1v1.1h-1.1zM447.3 279.9h1.0v1.0h-1.0zM442.4 284.1h0.6v0.6h-0.6zM441.8 289.6h0.9v0.9h-0.9zM443.5 293.4h0.8v0.8h-0.8zM479.4 281.5h1.0v1.0h-1.0z" fill="#ffffff" fill-opacity="1.0"/>
<path d="M467.8 276.9h1.2v1.2h-1.2zM446.2 283.5h0.6v0.6h-0.6zM445.4 292.9h1.1v1.1h-1.1zM453.9 282.6h0.9v0.9h-0.9zM449.3 295.1h0.7v0.7h-0.7zM466.9 280.4h0.6v0.6h-0.6zM481.2 303.2h0.8v0.8h-0.8zM441.8 290.7h0.7v0.7h-0.7zM461.7 306.3h0.8v0.8h-0.8zM479.4 306.4h1.2v1.2h-1.2zM443.2 284.9h0.7v0.7h-0.7zM468.7 305.0h0.8v0.8h-0.8zM440.3 289.1h0.9v0.9h-0.9zM452.4 300.0h0.8v0.8h-0.8zM482.5 298.4h0.6v0.6h-0.6zM455.3 281.1h1.1v1.1h-1.1zM451.6 278.7h0.7v0.7h-0.7zM473.7 276.6h0.8v0.8h-0.8zM470.6 307.6h1.0v1.0h-1.0zM458.8 281.5h0.9v0.9h-0.9zM455.2 298.8h1.1v1.1h-1.1zM446.4 294.6h1.1v1.1h-1.1zM457.8 281.7h0.7v0.7h-0.7zM482.2 305.2h0.7v0.7h-0.7zM457.8 282.1h1.0v1.0h-1.0zM477.9 305.6h1.0v1.0h-1.0zM469.7 307.9h1.1v1.1h-1.1zM462.6 307.3h0.6v0.6h-0.6zM461.9 282.1h1.1v1.1h-1.1z" fill="#ffffff" fill-opacity="0.75"/>
<path d="M442.1 288.0h0.8v0.8h-0.8zM471.8 277.8h1.2v1.2h-1.2zM469.5 304.0h0.8v0.8h-0.8zM481.9 280.8h0.6v0.6h-0.6zM447.7 295.1h1.2v1.2h-1.2zM447.0 293.2h1.0v1.0h-1.0zM461.5 302.4h1.1v1.1h-1.1zM441.4 289.0h0.7v0.7h-0.7zM442.3 282.7h0.8v0.8h-0.8zM480.1 303.6h0.9v0.9h-0.9zM462.4 281.8h0.6v0.6h-0.6z" fill="#ffffff" fill-opacity="0.5"/>
<ellipse cx="426.6" cy="321.2" rx="11.8" ry="9.7" transform="rotate(30 426.6 321.2)" fill="url(#nuc)" filter="url(#mb3)"/>
<path d="M431.0 326.6h0.7v0.7h-0.7z" fill="#9090ff" fill-opacity="0.25"/>
<path d="M423.8 321.6h0.8v0.8h-0.8zM428.4 317.4h0.9v0.9h-0.9zM428.7 319.8h0.7v0.7h-0.7z" fill="#9090ff" fill-opacity="0.5"/>
<ellipse cx="474.5" cy="292" rx="6.2" ry="7.6" transform="rotate(0 474.5 292)" fill="url(#nuc)" filter="url(#mb3)"/>
<path d="M477.3 287.1h0.9v0.9h-0.9z" fill="#9090ff" fill-opacity="0.25"/>
<path d="M473.2 295.3h0.9v0.9h-0.9zM474.3 293.5h0.6v0.6h-0.6zM474.4 292.6h0.6v0.6h-0.6z" fill="#9090ff" fill-opacity="0.5"/>
</g>
<rect x="389.00" y="269.00" width="90.60" height="90.60" fill="none" stroke="#222" stroke-width="0.8"/>
<rect x="461.00" y="356.40" width="17.60" height="2.40" fill="#fff" stroke="none" stroke-width="0"/>
<rect x="201.20" y="362.30" width="90.20" height="91.10" fill="#fff" stroke="#444" stroke-width="0.9"/>
<rect x="272.80" y="449.60" width="17.60" height="2.20" fill="#000" stroke="none" stroke-width="0"/>
<rect x="295.20" y="362.30" width="90.20" height="91.10" fill="#fff" stroke="#444" stroke-width="0.9"/>
<rect x="366.80" y="449.60" width="17.60" height="2.20" fill="#000" stroke="none" stroke-width="0"/>
<rect x="389.00" y="362.30" width="90.60" height="91.10" fill="#fff" stroke="#444" stroke-width="0.9"/>
<rect x="461.00" y="449.60" width="17.60" height="2.20" fill="#000" stroke="none" stroke-width="0"/>
<path d="M219.0 376.4h1.2v1.3h-1.2zM218.8 373.4h0.8v0.8h-0.8zM221.3 373.9h1.2v1.1h-1.2zM238.0 367.5h1.4v1.1h-1.4zM236.4 366.8h0.8v0.8h-0.8zM260.8 373.3h0.9v0.7h-0.9zM258.8 372.0h0.9v0.7h-0.9zM259.4 372.4h0.9v1.1h-0.9zM261.1 373.1h0.9v0.8h-0.9zM253.3 399.7h0.8v1.3h-0.8zM254.0 400.6h1.4v1.4h-1.4zM255.0 401.6h1.2v0.6h-1.2zM262.1 389.3h0.8v0.8h-0.8zM252.3 403.9h0.8v0.8h-0.8zM256.5 401.0h0.7v0.7h-0.7zM258.1 400.4h1.2v1.0h-1.2zM260.1 400.6h0.8v1.2h-0.8zM249.8 407.1h1.0v0.8h-1.0zM250.6 404.4h1.3v0.9h-1.3zM247.6 404.0h1.2v1.1h-1.2zM248.8 405.4h0.8v1.1h-0.8zM219.8 377.2h1.3v1.2h-1.3zM219.8 374.0h1.2v1.1h-1.2zM259.5 370.5h0.8v0.8h-0.8zM257.2 371.1h0.7v1.0h-0.7zM257.4 372.7h1.3v1.4h-1.3zM263.2 390.4h1.4v1.2h-1.4zM263.9 390.0h1.0v1.0h-1.0zM263.3 390.8h1.0v1.4h-1.0zM229.3 398.5h0.9v0.7h-0.9zM222.8 402.0h1.2v0.7h-1.2zM223.5 404.2h1.4v1.2h-1.4zM224.7 404.2h0.8v1.1h-0.8zM222.2 403.1h1.4v0.8h-1.4zM252.7 402.7h0.9v1.2h-0.9zM249.5 404.6h1.3v0.8h-1.3zM251.2 404.0h1.5v0.8h-1.5zM261.1 376.7h0.8v0.7h-0.8zM261.5 399.0h1.1v0.6h-1.1zM259.8 397.6h1.1v0.7h-1.1zM261.4 396.1h1.0v0.7h-1.0zM217.8 385.1h0.8v1.1h-0.8zM215.8 382.9h1.4v0.9h-1.4zM216.9 382.8h1.5v1.0h-1.5zM222.5 402.8h0.8v0.6h-0.8zM223.9 404.1h0.7v1.2h-0.7zM214.0 387.5h1.0v1.1h-1.0zM214.5 387.8h1.4v1.3h-1.4zM215.5 387.7h1.5v1.4h-1.5zM213.4 390.1h1.6v0.9h-1.6zM256.8 369.1h0.8v0.8h-0.8zM255.6 370.0h0.8v1.1h-0.8zM257.0 370.1h1.0v1.3h-1.0zM257.5 370.9h1.4v1.2h-1.4zM212.4 386.6h1.2v0.8h-1.2zM232.4 398.0h1.2v0.9h-1.2zM232.0 398.7h0.9v0.9h-0.9zM232.7 398.3h0.9v1.2h-0.9zM223.3 391.9h1.2v0.6h-1.2zM240.3 365.0h1.6v1.1h-1.6zM240.7 365.8h1.2v1.2h-1.2zM227.1 404.0h1.4v0.6h-1.4zM222.0 401.2h1.4v1.2h-1.4zM220.2 402.0h1.1v0.9h-1.1zM262.3 394.2h1.4v1.3h-1.4zM263.2 396.6h1.2v1.0h-1.2zM263.4 394.0h1.0v0.8h-1.0zM261.0 397.0h0.9v0.8h-0.9zM249.8 404.2h1.3v0.6h-1.3zM252.0 401.5h1.3v1.2h-1.3zM222.2 400.3h1.2v1.4h-1.2zM221.2 403.6h1.4v1.2h-1.4zM262.8 385.3h1.1v0.8h-1.1zM264.8 384.1h1.5v0.9h-1.5zM263.6 384.1h1.4v0.7h-1.4zM264.6 386.1h1.6v0.6h-1.6zM250.7 404.9h0.9v1.3h-0.9zM260.0 377.8h1.3v0.8h-1.3zM260.2 377.8h1.3v0.7h-1.3zM236.0 400.4h1.2v0.9h-1.2zM238.5 400.7h1.4v1.3h-1.4zM238.4 402.6h0.8v0.9h-0.8zM218.1 375.2h0.8v1.2h-0.8zM219.3 376.1h0.9v0.6h-0.9zM226.8 404.1h0.7v1.4h-0.7zM228.2 404.4h1.1v0.8h-1.1zM239.4 403.8h1.0v0.8h-1.0zM222.5 404.8h1.4v0.7h-1.4zM223.6 406.9h1.1v1.3h-1.1zM251.0 368.8h1.1v0.9h-1.1zM250.4 370.8h1.0v1.1h-1.0zM249.5 370.2h0.7v1.1h-0.7zM249.7 371.3h0.9v0.7h-0.9zM262.1 391.7h0.9v0.9h-0.9zM262.5 389.2h1.5v0.9h-1.5zM259.9 390.4h0.8v0.7h-0.8zM262.4 390.6h1.5v1.1h-1.5zM261.8 390.5h1.1v0.8h-1.1zM261.0 389.7h0.9v1.2h-0.9zM241.5 368.3h1.0v1.3h-1.0zM242.1 368.2h0.9v0.7h-0.9zM256.6 369.7h0.7v1.3h-0.7zM243.2 371.1h0.8v0.7h-0.8zM259.6 384.0h0.9v1.0h-0.9zM239.7 369.0h0.7v0.7h-0.7zM245.7 371.5h1.0v0.8h-1.0zM258.6 393.3h1.5v0.8h-1.5zM232.3 395.4h1.2v0.8h-1.2zM254.4 396.9h1.3v0.9h-1.3zM247.4 392.2h1.3v0.7h-1.3zM261.0 384.8h1.4v0.9h-1.4zM250.5 403.0h0.9v1.3h-0.9zM211.7 383.6h1.4v1.0h-1.4zM262.0 378.0h1.5v1.3h-1.5zM249.2 379.7h1.2v0.9h-1.2zM252.8 394.1h1.4v1.2h-1.4zM230.1 387.2h1.4v1.0h-1.4zM239.7 383.5h0.7v1.3h-0.7zM220.5 407.2h1.4v1.0h-1.4zM245.0 396.0h1.4v1.1h-1.4zM254.7 371.9h1.0v1.0h-1.0z" fill="#000" fill-opacity="0.88"/>
<polygon points="205.5,393.4 206.4,391.0 207.0,388.7 208.3,385.7 210.6,383.3 211.6,381.0 213.9,378.8 215.7,376.9 216.2,374.9 218.0,373.3 219.9,371.6 223.0,370.2 225.0,369.1 228.7,367.8 232.1,365.6 236.1,364.2 238.0,364.5 240.1,364.5 241.6,364.9 243.3,365.6 245.5,366.3 247.2,367.7 248.7,367.5 251.3,368.0 252.7,368.4 254.1,368.1 255.9,366.6 256.9,366.3 257.5,367.2 258.2,368.7 258.3,370.5 259.2,371.5 260.5,372.0 261.0,373.3 262.3,374.7 263.0,377.3 263.8,378.8 264.2,381.5 264.8,383.7 265.2,385.7 264.3,387.8 264.6,390.0 263.8,392.7 263.8,394.2 264.8,396.4 265.2,398.2 263.7,398.6 262.0,398.9 259.6,399.6 257.0,401.4 254.9,402.0 252.7,403.8 250.9,404.7 249.3,405.4 247.2,406.5 245.1,405.9 243.1,405.2 241.6,405.2 239.2,405.0 236.5,405.3 233.3,405.2 231.9,405.1 229.8,405.6 227.7,405.2 225.6,406.2 224.0,407.4 222.2,409.3 221.0,408.2 219.9,407.9 218.0,406.5 217.5,405.6 217.3,404.4 216.6,403.8 218.0,402.8 219.4,400.6 220.8,399.6 222.7,399.0 225.5,398.2 227.7,396.8 225.7,395.6 223.8,394.4 222.2,393.4 220.2,393.3 218.1,392.0 216.6,392.0 214.6,392.7 213.2,392.4 211.1,392.7 209.7,393.1 207.7,392.9" fill="none" stroke="#f06464" stroke-width="0.5"/>
<path d="M269.3 401.2h1.0v0.7h-1.0zM267.8 399.9h1.3v1.2h-1.3zM241.9 416.0h1.2v1.3h-1.2zM241.9 415.4h1.1v1.4h-1.1zM239.8 412.9h1.3v0.7h-1.3zM262.8 403.1h1.0v0.7h-1.0zM262.6 401.1h1.1v0.7h-1.1zM262.5 401.8h0.8v1.1h-0.8zM255.2 421.6h1.4v0.9h-1.4zM252.9 421.1h1.5v0.9h-1.5zM253.7 421.6h1.0v1.0h-1.0zM258.0 401.3h1.5v0.7h-1.5zM256.8 404.4h1.6v0.7h-1.6zM255.8 403.3h1.0v0.8h-1.0zM255.0 402.9h1.5v1.0h-1.5zM245.8 405.6h1.1v1.2h-1.1zM249.1 407.4h1.6v0.8h-1.6zM249.4 405.3h1.1v1.1h-1.1zM242.7 417.6h1.2v1.4h-1.2zM243.6 418.8h1.3v1.1h-1.3zM256.6 403.0h0.8v0.9h-0.8zM278.0 413.8h0.8v0.7h-0.8zM277.8 415.6h1.1v1.3h-1.1zM276.9 414.6h1.6v1.4h-1.6zM253.6 405.8h0.8v1.3h-0.8zM255.1 403.5h1.6v0.8h-1.6zM238.8 416.0h1.1v1.0h-1.1zM239.1 415.2h0.9v0.8h-0.9zM276.4 401.0h0.8v1.2h-0.8zM253.3 419.9h1.1v1.2h-1.1zM252.0 419.8h1.6v1.1h-1.6zM252.5 420.9h1.2v0.9h-1.2zM275.8 402.5h0.7v0.7h-0.7zM276.7 400.9h1.6v0.8h-1.6zM277.7 402.8h0.8v0.7h-0.8zM243.3 413.1h1.4v1.2h-1.4zM256.9 404.5h1.5v1.0h-1.5zM257.1 404.4h1.5v1.4h-1.5zM268.7 401.5h1.2v0.6h-1.2zM266.9 402.4h1.6v0.9h-1.6zM266.3 402.7h1.2v0.9h-1.2zM268.9 399.8h1.4v1.1h-1.4zM250.7 417.8h0.8v0.8h-0.8zM241.5 417.2h1.3v0.9h-1.3zM243.4 418.5h1.5v0.7h-1.5zM243.6 417.4h1.5v0.8h-1.5zM242.7 419.0h1.1v1.1h-1.1zM280.4 409.2h1.0v1.3h-1.0zM279.3 408.8h1.5v1.3h-1.5zM244.9 411.0h0.9v1.0h-0.9zM243.5 411.4h0.7v0.8h-0.7zM241.6 412.5h1.3v1.1h-1.3zM260.9 417.9h1.2v1.0h-1.2zM270.2 408.7h1.2v0.6h-1.2zM277.0 400.5h0.7v1.2h-0.7zM276.3 408.2h1.1v0.7h-1.1zM274.5 403.8h1.1v1.0h-1.1zM255.5 412.1h1.3v1.2h-1.3zM252.6 407.2h0.7v1.1h-0.7zM246.2 409.5h1.1v0.9h-1.1zM254.1 416.8h1.5v1.1h-1.5zM279.1 405.1h1.4v1.0h-1.4z" fill="#000" fill-opacity="0.88"/>
<polygon points="237.4,412.1 239.0,410.6 240.2,409.1 241.6,407.9 243.5,406.5 246.0,406.0 248.5,405.2 250.4,404.6 253.2,403.1 255.5,402.4 258.5,401.2 261.1,400.9 263.8,399.6 266.0,399.6 267.5,399.6 269.3,398.9 272.1,398.9 275.6,399.6 279.1,400.3 280.3,402.0 281.7,403.1 282.5,405.2 281.8,407.3 281.1,408.4 280.4,410.7 279.4,411.7 278.1,413.2 277.7,414.9 275.5,415.7 274.4,416.8 272.1,417.6 270.4,418.1 268.5,417.6 266.6,417.6 265.0,418.0 262.6,418.6 261.0,419.0 259.2,419.3 257.7,419.8 255.5,420.4 253.8,420.7 251.8,421.6 249.9,422.5 248.3,422.1 247.3,421.9 245.8,421.8 244.8,420.6 242.7,418.8 241.6,417.6 240.6,415.6 239.3,413.8" fill="none" stroke="#f06464" stroke-width="0.5"/>
<path d="M355.2 375.9h1.5v0.9h-1.5zM353.9 377.0h1.0v0.8h-1.0zM353.5 377.7h0.7v1.3h-0.7zM328.7 384.9h1.6v0.7h-1.6zM313.9 403.0h1.3v1.0h-1.3zM312.9 401.5h1.0v1.4h-1.0zM312.5 402.7h1.0v1.4h-1.0zM313.3 400.6h1.6v0.7h-1.6zM303.4 412.5h1.2v0.9h-1.2zM365.6 406.8h1.4v1.1h-1.4zM363.8 407.2h1.2v0.7h-1.2zM365.3 406.2h0.8v1.0h-0.8zM364.6 405.5h1.5v0.9h-1.5zM332.5 371.2h1.5v1.1h-1.5zM331.5 370.6h1.5v1.1h-1.5zM330.9 372.0h1.6v1.1h-1.6zM324.4 390.2h1.2v1.3h-1.2zM321.0 379.0h1.4v0.6h-1.4zM320.8 379.3h1.3v0.9h-1.3zM319.7 379.9h1.4v1.2h-1.4zM328.0 397.4h0.7v0.8h-0.7zM328.4 394.6h1.3v0.9h-1.3zM325.4 394.6h0.7v0.9h-0.7zM344.5 373.0h1.4v0.8h-1.4zM342.4 370.0h0.9v0.8h-0.9zM305.1 422.8h1.1v0.9h-1.1zM307.4 421.6h1.3v0.8h-1.3zM351.0 383.7h0.9v1.3h-0.9zM348.6 383.4h0.9v1.0h-0.9zM353.3 380.7h0.8v0.7h-0.8zM350.6 381.2h0.8v1.3h-0.8zM317.2 398.6h1.1v0.9h-1.1zM302.2 426.9h0.8v1.2h-0.8zM301.9 425.5h1.1v0.9h-1.1zM318.4 396.5h1.1v0.8h-1.1zM318.7 399.0h1.1v1.0h-1.1zM342.3 370.4h0.8v1.2h-0.8zM342.0 370.1h0.8v1.2h-0.8zM344.2 367.6h0.9v1.2h-0.9zM325.0 396.4h1.3v1.0h-1.3zM327.0 394.7h0.9v0.7h-0.9zM326.2 394.2h1.2v0.7h-1.2zM367.0 399.7h1.2v1.3h-1.2zM364.9 402.5h1.1v0.7h-1.1zM364.6 400.2h1.1v1.0h-1.1zM366.7 402.2h1.5v0.7h-1.5zM321.7 419.5h1.0v1.0h-1.0zM342.3 373.3h1.1v1.3h-1.1zM302.5 409.7h1.5v0.7h-1.5zM303.6 410.4h1.1v0.7h-1.1zM300.9 412.3h0.9v1.2h-0.9zM301.1 409.8h0.8v1.1h-0.8zM359.4 397.0h1.4v1.1h-1.4zM303.8 411.0h1.0v0.6h-1.0zM306.3 411.1h1.3v1.3h-1.3zM303.6 411.2h1.2v0.9h-1.2zM303.9 415.8h1.6v1.0h-1.6zM314.8 421.0h0.8v1.2h-0.8zM314.8 422.9h0.9v1.1h-0.9zM316.7 422.7h1.4v0.6h-1.4zM352.0 389.6h1.4v1.1h-1.4zM350.2 388.5h1.6v0.6h-1.6zM350.7 390.6h0.7v1.2h-0.7zM351.1 389.3h1.0v1.2h-1.0zM354.6 387.9h0.9v1.2h-0.9zM313.1 421.9h1.5v0.9h-1.5zM310.3 420.0h1.4v1.3h-1.4zM302.7 411.2h1.2v0.9h-1.2zM303.4 412.1h0.7v1.1h-0.7zM344.6 414.1h1.5v0.8h-1.5zM300.9 415.1h1.1v1.2h-1.1zM320.1 414.5h0.7v0.8h-0.7zM355.1 405.3h1.1v1.0h-1.1zM327.0 407.2h1.3v1.0h-1.3zM347.9 389.0h1.4v1.0h-1.4zM338.4 375.2h1.1v1.2h-1.1zM338.5 387.6h0.9v1.0h-0.9zM360.9 408.1h1.3v0.7h-1.3zM305.2 406.7h1.4v0.9h-1.4zM319.7 418.2h1.3v0.9h-1.3zM326.7 407.5h1.0v0.6h-1.0zM326.9 410.6h1.4v1.3h-1.4zM340.1 373.5h1.4v1.2h-1.4zM341.1 368.1h0.8v1.0h-0.8zM313.0 423.9h1.4v0.8h-1.4zM338.0 381.0h0.9v1.0h-0.9z" fill="#000" fill-opacity="0.88"/>
<polygon points="333.6,367.7 336.3,367.5 338.6,366.7 340.5,366.3 342.6,367.7 345.1,368.8 347.5,370.5 349.6,371.6 351.5,373.0 353.0,374.6 353.2,376.1 354.1,377.1 355.1,378.1 353.9,379.1 353.2,380.4 351.6,382.3 352.4,384.5 352.4,386.5 353.0,388.5 354.3,389.0 355.5,390.0 357.2,391.3 358.4,393.1 359.1,395.3 360.0,396.8 363.0,397.7 365.1,398.1 368.3,398.2 368.5,400.6 369.0,403.9 369.7,406.5 369.2,408.2 367.9,410.1 367.6,411.4 365.7,411.7 363.8,412.7 361.3,412.8 358.9,413.1 356.5,413.4 354.4,413.5 353.2,414.3 352.0,414.9 350.3,416.3 348.3,417.0 346.8,416.7 344.7,417.6 342.4,418.4 340.1,418.6 337.8,419.0 335.1,418.1 333.7,417.7 330.8,417.6 328.9,417.2 327.3,416.8 325.3,416.3 323.5,416.9 321.3,418.1 319.7,419.0 319.1,421.1 317.8,423.7 317.0,426.0 315.2,425.5 312.1,425.8 310.0,426.0 309.1,424.3 309.6,422.9 308.6,421.8 307.5,421.7 307.1,421.7 305.9,421.8 305.7,423.2 305.4,424.6 304.5,426.0 303.2,426.4 302.1,426.0 300.3,426.0 300.5,423.3 300.5,421.9 301.0,419.0 301.0,417.7 300.6,415.3 300.3,413.5 300.9,411.8 302.0,409.9 302.4,407.9 304.2,406.3 305.6,404.4 307.3,402.4 310.0,401.2 312.2,399.6 314.2,398.2 316.4,397.4 317.4,397.7 319.7,396.8 321.7,396.0 323.7,396.1 325.3,395.4 324.7,393.6 324.3,391.8 323.9,389.9 323.0,388.9 322.4,387.1 321.1,385.7 320.5,383.6 320.6,382.0 319.7,380.2 320.4,378.1 320.6,376.0 321.1,374.6 323.0,373.5 324.3,372.3 326.7,370.5 329.4,369.9 331.4,368.6" fill="none" stroke="#f06464" stroke-width="0.5"/>
<path d="M464.5 417.1h1.0v0.9h-1.0zM462.0 417.8h0.8v1.0h-0.8zM454.9 399.8h1.1v1.0h-1.1zM455.4 402.6h0.7v1.2h-0.7zM407.9 375.3h1.5v1.1h-1.5zM406.5 373.4h0.9v0.7h-0.9zM428.1 383.9h1.0v1.0h-1.0zM427.4 384.0h1.3v1.3h-1.3zM433.5 443.8h0.8v0.9h-0.8zM434.5 444.0h1.4v0.7h-1.4zM434.9 444.8h1.0v0.7h-1.0zM391.8 414.4h1.0v0.9h-1.0zM392.2 414.8h1.5v0.9h-1.5zM464.6 417.4h1.2v0.8h-1.2zM464.9 416.1h0.8v1.4h-0.8zM453.8 396.5h1.2v1.2h-1.2zM395.9 421.9h1.3v1.0h-1.3zM395.4 422.3h1.4v0.7h-1.4zM393.3 421.5h1.3v0.7h-1.3zM394.1 422.0h1.4v1.4h-1.4zM404.1 436.7h1.4v1.3h-1.4zM396.8 385.8h1.3v1.2h-1.3zM396.7 388.3h0.9v1.0h-0.9zM397.7 389.4h1.1v1.4h-1.1zM397.9 389.2h1.4v1.0h-1.4zM394.9 422.0h0.8v1.3h-0.8zM436.9 385.7h1.3v0.9h-1.3zM437.9 385.4h1.1v0.6h-1.1zM438.7 386.9h0.8v1.0h-0.8zM405.3 371.6h1.1v1.2h-1.1zM405.6 373.9h1.2v0.6h-1.2zM406.6 373.4h1.5v1.0h-1.5zM405.2 371.7h1.5v1.2h-1.5zM458.6 402.0h1.0v0.9h-1.0zM457.8 402.5h0.8v0.9h-0.8zM457.5 402.7h0.8v0.7h-0.8zM457.6 399.7h1.3v0.8h-1.3zM450.9 393.0h1.1v1.2h-1.1zM450.7 394.5h1.5v1.2h-1.5zM401.5 382.0h1.0v1.3h-1.0zM401.7 381.3h1.3v1.3h-1.3zM401.6 381.2h1.1v1.1h-1.1zM419.9 368.8h1.4v1.1h-1.4zM412.4 374.1h1.4v0.7h-1.4zM411.9 375.1h1.3v1.1h-1.3zM413.7 374.4h0.8v1.2h-0.8zM393.8 393.0h1.5v1.4h-1.5zM395.3 394.7h1.5v0.6h-1.5zM395.4 394.4h0.7v1.2h-0.7zM421.0 367.4h1.4v0.8h-1.4zM424.3 368.6h1.2v1.3h-1.2zM460.5 434.9h1.5v1.4h-1.5zM460.4 434.8h0.9v0.6h-0.9zM415.7 372.7h1.5v1.3h-1.5zM424.0 384.4h1.4v0.9h-1.4zM425.5 384.0h0.9v1.2h-0.9zM422.4 367.3h1.1v0.9h-1.1zM424.6 369.5h0.8v1.2h-0.8zM445.2 442.6h0.7v1.1h-0.7zM445.0 441.1h1.5v0.8h-1.5zM444.0 441.8h1.1v1.2h-1.1zM430.1 441.5h0.7v1.3h-0.7zM397.9 422.2h0.7v1.1h-0.7zM397.1 423.0h0.7v1.0h-0.7zM414.7 442.7h1.4v1.0h-1.4zM412.8 441.6h0.9v1.0h-0.9zM413.0 442.9h1.1v1.0h-1.1zM415.0 440.6h0.9v1.3h-0.9zM440.6 445.0h1.6v0.8h-1.6zM437.9 446.4h1.3v0.8h-1.3zM437.5 443.1h1.3v0.9h-1.3zM460.3 404.9h1.0v0.8h-1.0zM458.7 406.0h1.0v1.3h-1.0zM459.6 404.9h1.5v0.9h-1.5zM460.2 404.3h1.6v1.1h-1.6zM446.9 389.3h1.6v1.1h-1.6zM449.2 393.3h1.4v0.8h-1.4zM450.7 393.6h1.5v1.2h-1.5zM452.1 392.0h1.2v0.9h-1.2zM451.1 391.9h1.3v0.7h-1.3zM469.2 408.0h1.5v0.7h-1.5zM453.7 438.5h1.4v1.3h-1.4zM455.7 436.1h0.9v1.2h-0.9zM453.3 437.3h0.9v1.3h-0.9zM450.9 443.1h1.3v0.9h-1.3zM449.8 443.7h1.4v1.2h-1.4zM448.9 442.7h1.6v1.0h-1.6zM441.3 388.3h1.4v0.7h-1.4zM402.5 424.0h0.8v1.2h-0.8zM403.6 423.6h1.1v1.3h-1.1zM421.9 369.5h0.9v0.6h-0.9zM422.6 369.7h1.2v1.0h-1.2zM445.9 444.5h0.9v1.2h-0.9zM444.0 445.9h0.7v0.7h-0.7zM396.5 424.7h1.3v0.8h-1.3zM397.4 426.0h1.4v1.0h-1.4zM396.7 423.7h1.4v0.7h-1.4zM405.2 433.9h1.2v0.7h-1.2zM435.5 387.5h0.8v1.0h-0.8zM436.8 385.7h1.5v0.6h-1.5zM419.0 380.7h1.4v1.0h-1.4zM410.2 436.6h1.1v1.4h-1.1zM438.2 436.3h0.8v1.0h-0.8zM393.6 393.1h1.3v1.3h-1.3zM416.4 393.0h1.4v0.8h-1.4zM469.4 414.1h0.9v1.3h-0.9zM449.4 435.1h1.6v1.1h-1.6z" fill="#000" fill-opacity="0.88"/>
<polygon points="403.0,371.9 406.2,371.5 409.6,371.6 412.7,371.9 415.3,370.7 417.3,369.8 419.7,369.1 421.3,367.6 423.6,367.3 425.2,365.6 427.1,365.8 428.4,365.3 430.8,365.6 431.9,367.1 432.8,368.1 433.5,369.1 432.9,370.6 433.1,371.6 432.2,373.3 430.9,374.9 429.8,377.0 428.0,378.8 429.1,380.7 429.6,381.7 430.8,383.0 432.3,384.2 433.9,385.2 434.9,385.7 437.2,384.8 439.0,384.5 440.5,384.4 442.7,386.1 444.1,387.3 446.0,388.5 447.0,389.9 447.7,390.7 448.8,391.3 450.1,392.0 451.2,392.2 453.0,392.7 453.8,394.8 454.7,395.9 455.7,398.2 457.5,399.4 459.5,400.5 461.3,401.0 462.4,402.1 463.9,403.9 465.4,405.2 466.6,407.1 468.4,408.6 469.6,410.7 470.3,411.7 470.8,412.1 471.0,413.5 470.0,414.9 469.3,416.4 468.2,417.6 466.2,418.2 464.3,419.2 462.7,420.4 462.6,422.0 462.2,424.4 461.3,426.0 460.8,427.8 461.7,430.5 461.3,432.9 459.9,433.8 458.1,434.6 457.1,435.7 456.0,436.9 455.4,438.5 454.3,439.8 453.2,441.7 451.2,442.9 450.2,444.7 447.3,444.7 444.0,445.6 440.5,445.4 438.0,446.4 436.0,447.6 433.5,448.8 431.6,448.6 429.1,447.7 426.6,446.8 423.6,446.2 421.5,445.2 418.3,444.0 415.2,444.8 412.8,444.7 410.0,445.4 409.1,444.4 408.4,442.7 407.2,441.2 405.8,439.0 404.5,437.5 403.0,435.7 403.0,433.4 402.0,430.8 401.6,428.7 398.9,428.1 396.8,427.3 394.7,426.0 393.6,425.5 392.0,424.6 391.2,424.6 390.7,420.7 390.7,417.6 390.5,413.5 392.2,411.6 393.8,408.9 394.7,406.5 394.9,403.9 394.7,402.1 395.4,399.6 394.7,397.0 394.1,395.2 393.3,392.7 395.1,390.5 396.3,387.9 397.5,385.7 398.7,383.6 399.0,382.0 400.3,380.2 400.8,377.7 402.1,374.9" fill="none" stroke="#f06464" stroke-width="0.5"/>
<polyline points="228.4,397.5 233.3,391.3 236.1,384.4 241.6,377.4 248.5,373.3 255.5,367.7" fill="none" stroke="#f06464" stroke-width="0.5"/>
<text x="191.00" y="260.50" font-size="14.3" text-anchor="start" fill="#000" font-weight="bold">e</text>
<text x="246.60" y="264.20" font-size="8.5" text-anchor="middle" fill="#222" stroke="#222" stroke-width="0.2">siCtrl</text>
<text x="340.70" y="264.20" font-size="8.5" text-anchor="middle" fill="#222" stroke="#222" stroke-width="0.2">siRCC2#1</text>
<text x="434.30" y="264.20" font-size="8.5" text-anchor="middle" fill="#222" stroke="#222" stroke-width="0.2">siRCC2#2</text>
<text x="195.6" y="314.5" font-size="9.3" stroke-width="0.2" text-anchor="middle" transform="rotate(-90 195.6 314.5)"><tspan fill="#4c7fe0" stroke="#4c7fe0">DNA</tspan><tspan fill="#333" stroke="#333"> paxillin</tspan></text>
<text x="195.6" y="405.3" font-size="9.3" stroke-width="0.2" text-anchor="middle" textLength="58.5" lengthAdjust="spacing" transform="rotate(-90 195.6 405.3)"><tspan fill="#333" stroke="#333">FAs + </tspan><tspan fill="#ee3030" stroke="#ee3030">outline</tspan></text>
<text x="191.30" y="9.50" font-size="14.3" text-anchor="start" fill="#000" font-weight="bold">b</text>
<text x="287.80" y="26.70" font-size="9" text-anchor="end" fill="#e8706c" textLength="83.0" lengthAdjust="spacing">Responding peptide</text>
<text x="287.80" y="36.90" font-size="9" text-anchor="end" fill="#e8706c" textLength="51.6" lengthAdjust="spacing">Rac1 aa 6–16</text>
<text x="285.00" y="114.50" font-size="9" text-anchor="end" fill="#ec5aa6" textLength="83.0" lengthAdjust="spacing">Responding peptide</text>
<text x="285.00" y="124.70" font-size="9" text-anchor="end" fill="#ec5aa6" textLength="70.0" lengthAdjust="spacing">RCC2 aa 110–120</text>
<text x="438.60" y="89.80" font-size="8.8" text-anchor="start" fill="#222" stroke="#222" stroke-width="0.05" textLength="17.9" lengthAdjust="spacing">Rac1</text>
<text x="458.00" y="203.30" font-size="8.8" text-anchor="start" fill="#222" stroke="#222" stroke-width="0.05">RCC2</text>
<polygon points="352.0,135.0 380.0,128.0 398.0,124.0 418.0,132.0 430.0,150.0 436.0,175.0 430.0,200.0 410.0,212.0 380.0,214.0 355.0,208.0 345.0,190.0 346.0,160.0" fill="#ececec" stroke="none" stroke-width="0.6" stroke-linejoin="round"/>
<polygon points="357.7,137.9 355.7,199.9 360.3,200.1 362.3,138.1" fill="#c4c4c4" stroke="#9a9a9a" stroke-width="0.5" stroke-linejoin="round"/>
<polygon points="365.7,140.0 364.7,205.0 369.3,205.0 370.3,140.0" fill="#bcbcbc" stroke="#9a9a9a" stroke-width="0.5" stroke-linejoin="round"/>
<polygon points="385.7,136.1 389.7,200.1 394.3,199.9 390.3,135.9" fill="#c8c8c8" stroke="#9a9a9a" stroke-width="0.5" stroke-linejoin="round"/>
<polygon points="391.7,140.2 395.7,196.2 400.3,195.8 396.3,139.8" fill="#b8b8b8" stroke="#9a9a9a" stroke-width="0.5" stroke-linejoin="round"/>
<polygon points="323.7,140.0 323.7,165.0 328.3,165.0 328.3,140.0" fill="#8c8c8c" stroke="#9a9a9a" stroke-width="0.5" stroke-linejoin="round"/>
<polygon points="370.0,129.2 383.0,151.2 387.0,148.8 374.0,126.8" fill="#c8c8c8" stroke="#9a9a9a" stroke-width="0.5" stroke-linejoin="round"/>
<path d="M332.0,200.0 L332.7,201.4 L333.6,203.4 L334.8,205.8 L336.1,208.1 L337.9,210.3 L340.0,212.0 L342.6,213.2 L345.6,214.0 L348.9,214.7 L352.5,215.2 L356.2,215.6 L360.0,216.0 L363.9,216.4 L368.1,216.7 L372.5,216.9 L376.9,217.1 L381.1,217.1 L385.0,217.0 L388.6,216.7 L392.0,216.3 L395.3,215.8 L398.5,215.2 L401.7,214.6 L405.0,214.0 L408.6,213.3 L412.4,212.6 L416.2,211.8 L419.8,211.1 L422.8,210.4 L425.0,210.0" fill="none" stroke="#c0c0c0" stroke-width="1.2" stroke-linecap="round" stroke-linejoin="round"/>
<path d="M386.0,125.0 L387.0,125.4 L388.6,125.9 L390.3,126.6 L392.1,127.4 L393.7,128.5 L395.0,130.0 L395.9,131.9 L396.7,134.3 L397.2,136.9 L397.7,139.6 L397.9,142.4 L398.0,145.0 L397.8,147.7 L397.3,150.6 L396.7,153.4 L396.0,156.1 L395.4,158.4 L395.0,160.0" fill="none" stroke="#bdbdbd" stroke-width="1.2" stroke-linecap="round" stroke-linejoin="round"/>
<polygon points="360.0,38.0 384.0,36.0 404.0,44.0 416.0,62.0 424.0,82.0 418.0,118.0 400.0,128.0 372.0,128.0 350.0,122.0 340.0,104.0 346.0,80.0 352.0,60.0" fill="#f5f5f5" stroke="none" stroke-width="0.6" stroke-linejoin="round"/>
<path d="M365.8,11.1 L366.0,11.9 L366.2,12.9 L366.6,14.2 L366.9,15.5 L367.4,16.8 L367.9,18.0 L368.5,19.0 L369.2,20.0 L370.0,21.0 L370.8,21.9 L371.7,22.8 L372.7,23.6 L373.8,24.4 L375.0,25.1 L376.3,25.8 L377.6,26.5 L378.8,27.1 L379.7,27.7 L380.4,28.2 L381.0,28.6 L381.4,29.0 L381.8,29.4 L382.1,29.9 L382.4,30.5 L382.7,31.3 L383.0,32.2 L383.2,33.1 L383.4,34.1 L383.6,35.1 L383.8,36.1 L384.0,37.1 L384.3,38.1 L384.6,39.2 L384.8,40.2 L385.0,41.0 L385.2,41.6" fill="none" stroke="#707070" stroke-width="2.4" stroke-linecap="round" stroke-linejoin="round"/>
<path d="M365.8,11.1 L366.0,11.9 L366.2,12.9 L366.6,14.2 L366.9,15.5 L367.4,16.8 L367.9,18.0 L368.5,19.0 L369.2,20.0 L370.0,21.0 L370.8,21.9 L371.7,22.8 L372.7,23.6 L373.8,24.4 L375.0,25.1 L376.3,25.8 L377.6,26.5 L378.8,27.1 L379.7,27.7 L380.4,28.2 L381.0,28.6 L381.4,29.0 L381.8,29.4 L382.1,29.9 L382.4,30.5 L382.7,31.3 L383.0,32.2 L383.2,33.1 L383.4,34.1 L383.6,35.1 L383.8,36.1 L384.0,37.1 L384.3,38.1 L384.6,39.2 L384.8,40.2 L385.0,41.0 L385.2,41.6" fill="none" stroke="#e6e6e6" stroke-width="1.0" stroke-linecap="round" stroke-linejoin="round"/>
<path d="M359.6,9.4 L359.9,9.4 L360.3,9.4 L360.7,9.4 L361.2,9.4 L361.8,9.4 L362.3,9.5 L362.9,9.7 L363.5,10.0 L364.2,10.3 L364.9,10.6 L365.4,10.9 L365.8,11.1" fill="none" stroke="#555" stroke-width="1.8" stroke-linecap="round" stroke-linejoin="round"/>
<path d="M370.0,16.6 L369.9,15.8 L369.7,14.7 L369.4,13.4 L369.3,12.0 L369.2,10.7 L369.3,9.7 L369.6,8.9 L370.0,8.2 L370.6,7.6 L371.2,7.1 L371.9,6.6 L372.7,6.2 L373.6,5.8 L374.6,5.5 L375.8,5.2 L376.9,5.0 L378.0,4.9 L379.0,4.9 L379.9,5.0 L380.8,5.3 L381.6,5.6 L382.4,6.0 L383.1,6.4 L383.8,6.9 L384.5,7.4 L385.2,8.1 L385.9,8.8 L386.4,9.4 L386.9,10.0 L387.3,10.4" fill="none" stroke="#707070" stroke-width="2.4" stroke-linecap="round" stroke-linejoin="round"/>
<path d="M370.0,16.6 L369.9,15.8 L369.7,14.7 L369.4,13.4 L369.3,12.0 L369.2,10.7 L369.3,9.7 L369.6,8.9 L370.0,8.2 L370.6,7.6 L371.2,7.1 L371.9,6.6 L372.7,6.2 L373.6,5.8 L374.6,5.5 L375.8,5.2 L376.9,5.0 L378.0,4.9 L379.0,4.9 L379.9,5.0 L380.8,5.3 L381.6,5.6 L382.4,6.0 L383.1,6.4 L383.8,6.9 L384.5,7.4 L385.2,8.1 L385.9,8.8 L386.4,9.4 L386.9,10.0 L387.3,10.4" fill="none" stroke="#ececec" stroke-width="1.0" stroke-linecap="round" stroke-linejoin="round"/>
<line x1="409.50" y1="16.00" x2="416.40" y2="7.60" stroke="#666" stroke-width="1.4"/>
<polygon points="371.4,19.5 378.0,21.5 392.0,27.0 404.6,36.0 400.0,37.0 388.0,30.5 375.0,24.5 370.5,22.0" fill="#f2f2f2" stroke="#707070" stroke-width="0.6" stroke-linejoin="round"/>
<polygon points="385.0,11.5 389.5,9.2 396.0,17.0 402.0,27.0 405.5,36.5 401.5,34.0 394.0,24.0 387.0,16.0" fill="#6e6e6e" stroke="#444" stroke-width="0.6" stroke-linejoin="round"/>
<polygon points="404.7,24.3 404.9,54.0 403.1,54.0 407.4,60.0 411.6,54.0 409.9,54.0 409.7,24.3" fill="#a8a8a8" stroke="#666" stroke-width="0.5" stroke-linejoin="round"/>
<polygon points="405.5,24.5 407.2,24.3 407.4,58.0 405.5,56.0" fill="#7a7a7a" stroke="none" stroke-width="0.6" stroke-linejoin="round"/>
<polygon points="407.2,43.1 419.5,62.8 418.3,63.6 424.0,66.0 424.4,59.8 423.1,60.6 410.8,40.9" fill="#ececec" stroke="#777" stroke-width="0.5" stroke-linejoin="round"/>
<polygon points="410.7,50.4 417.7,72.4 420.3,71.6 413.3,49.6" fill="#d6d6d6" stroke="#777" stroke-width="0.5" stroke-linejoin="round"/>
<g transform="translate(373.5 46.5) rotate(-27.5)"><ellipse cx="-9.39" cy="0" rx="5.17" ry="9.00" fill="none" stroke="#4a4a4a" stroke-width="3.78"/><ellipse cx="-9.39" cy="0" rx="5.17" ry="9.00" fill="none" stroke="#8c8c8c" stroke-width="2.52"/><ellipse cx="0.00" cy="0" rx="5.17" ry="9.00" fill="none" stroke="#4a4a4a" stroke-width="3.78"/><ellipse cx="0.00" cy="0" rx="5.17" ry="9.00" fill="none" stroke="#8c8c8c" stroke-width="2.52"/><ellipse cx="9.39" cy="0" rx="5.17" ry="9.00" fill="none" stroke="#4a4a4a" stroke-width="3.78"/><ellipse cx="9.39" cy="0" rx="5.17" ry="9.00" fill="none" stroke="#8c8c8c" stroke-width="2.52"/><path d="M-9.39,-9.00 A5.17,9.00 0 0 0 -9.39,9.00 A0.52,9.00 0 0 1 -9.39,-9.00Z" fill="#bdbdbd" stroke="#4a4a4a" stroke-width="0.6"/><path d="M0.00,-9.00 A5.17,9.00 0 0 0 0.00,9.00 A0.52,9.00 0 0 1 0.00,-9.00Z" fill="#bdbdbd" stroke="#4a4a4a" stroke-width="0.6"/><path d="M9.39,-9.00 A5.17,9.00 0 0 0 9.39,9.00 A0.52,9.00 0 0 1 9.39,-9.00Z" fill="#bdbdbd" stroke="#4a4a4a" stroke-width="0.6"/></g>
<polygon points="385.2,43.0 398.0,38.5 401.9,43.0 399.0,52.0 392.0,59.6 386.0,57.0 389.0,50.0" fill="#f6f6f6" stroke="#8a8a8a" stroke-width="0.6" stroke-linejoin="round"/>
<path d="M353.3,55.5 L365.8,55.0" fill="none" stroke="#9a9a9a" stroke-width="2.4" stroke-linecap="round" stroke-linejoin="round"/>
<path d="M353.3,55.5 L365.8,55.0" fill="none" stroke="#e6e6e6" stroke-width="1.0" stroke-linecap="round" stroke-linejoin="round"/>
<path d="M361.6,58.0 L362.1,58.6 L362.7,59.4 L363.4,60.4 L364.2,61.4 L365.1,62.3 L366.0,63.0 L367.1,63.6 L368.3,64.0 L369.6,64.4 L370.9,64.7 L371.9,65.0 L372.7,65.2" fill="none" stroke="#b0b0b0" stroke-width="1.2" stroke-linecap="round" stroke-linejoin="round"/>
<polygon points="366.6,82.4 384.6,70.4 381.4,65.6 363.4,77.6" fill="#5a5a5a" stroke="#333" stroke-width="0.5" stroke-linejoin="round"/>
<polygon points="352.6,66.0 357.0,64.4 359.9,67.0 358.5,73.1 354.0,72.0" fill="#555" stroke="#333" stroke-width="0.5" stroke-linejoin="round"/>
<polygon points="368.3,95.3 389.6,74.8 391.2,76.4 393.0,67.0 383.5,68.4 385.1,70.1 363.7,90.7" fill="#b0b0b0" stroke="#5a5a5a" stroke-width="0.5" stroke-linejoin="round"/>
<path d="M384.0,78.0 L384.5,78.6 L385.3,79.5 L386.1,80.5 L387.0,81.6 L387.6,82.8 L388.0,84.0 L388.0,85.3 L387.7,86.8 L387.2,88.4 L386.7,89.9 L386.3,91.1 L386.0,92.0" fill="none" stroke="#aaa" stroke-width="1.0" stroke-linecap="round" stroke-linejoin="round"/>
<polygon points="399.8,57.5 390.1,87.7 387.8,87.0 390.8,96.5 398.8,90.5 396.5,89.8 406.2,59.5" fill="#dc7876" stroke="#a85856" stroke-width="0.5" stroke-linejoin="round"/>
<path d="M398.0,86.0 L397.3,86.1 L396.4,86.3 L395.3,86.5 L394.1,86.8 L393.0,87.3 L392.0,88.0 L391.0,89.0 L390.0,90.2 L388.9,91.6 L388.0,93.1 L387.4,94.6 L387.0,96.0 L387.1,97.4 L387.5,99.0 L388.2,100.5 L388.9,101.9 L389.6,103.1 L390.0,104.0" fill="none" stroke="#e59a96" stroke-width="0.8" stroke-linecap="round" stroke-linejoin="round"/>
<g transform="translate(339.5 90.5) rotate(-5.2)"><ellipse cx="-12.43" cy="0" rx="4.56" ry="9.00" fill="none" stroke="#5a5a5a" stroke-width="3.78"/><ellipse cx="-12.43" cy="0" rx="4.56" ry="9.00" fill="none" stroke="#a8a8a8" stroke-width="2.52"/><ellipse cx="-4.14" cy="0" rx="4.56" ry="9.00" fill="none" stroke="#5a5a5a" stroke-width="3.78"/><ellipse cx="-4.14" cy="0" rx="4.56" ry="9.00" fill="none" stroke="#a8a8a8" stroke-width="2.52"/><ellipse cx="4.14" cy="0" rx="4.56" ry="9.00" fill="none" stroke="#5a5a5a" stroke-width="3.78"/><ellipse cx="4.14" cy="0" rx="4.56" ry="9.00" fill="none" stroke="#a8a8a8" stroke-width="2.52"/><ellipse cx="12.43" cy="0" rx="4.56" ry="9.00" fill="none" stroke="#5a5a5a" stroke-width="3.78"/><ellipse cx="12.43" cy="0" rx="4.56" ry="9.00" fill="none" stroke="#a8a8a8" stroke-width="2.52"/><path d="M-12.43,-9.00 A4.56,9.00 0 0 0 -12.43,9.00 A0.46,9.00 0 0 1 -12.43,-9.00Z" fill="#e0e0e0" stroke="#5a5a5a" stroke-width="0.6"/><path d="M-4.14,-9.00 A4.56,9.00 0 0 0 -4.14,9.00 A0.46,9.00 0 0 1 -4.14,-9.00Z" fill="#e0e0e0" stroke="#5a5a5a" stroke-width="0.6"/><path d="M4.14,-9.00 A4.56,9.00 0 0 0 4.14,9.00 A0.46,9.00 0 0 1 4.14,-9.00Z" fill="#e0e0e0" stroke="#5a5a5a" stroke-width="0.6"/><path d="M12.43,-9.00 A4.56,9.00 0 0 0 12.43,9.00 A0.46,9.00 0 0 1 12.43,-9.00Z" fill="#e0e0e0" stroke="#5a5a5a" stroke-width="0.6"/></g>
<g transform="translate(391.5 100.5) rotate(-17.2)"><ellipse cx="-10.12" cy="0" rx="5.57" ry="9.00" fill="none" stroke="#5a5a5a" stroke-width="3.78"/><ellipse cx="-10.12" cy="0" rx="5.57" ry="9.00" fill="none" stroke="#ababab" stroke-width="2.52"/><ellipse cx="0.00" cy="0" rx="5.57" ry="9.00" fill="none" stroke="#5a5a5a" stroke-width="3.78"/><ellipse cx="0.00" cy="0" rx="5.57" ry="9.00" fill="none" stroke="#ababab" stroke-width="2.52"/><ellipse cx="10.12" cy="0" rx="5.57" ry="9.00" fill="none" stroke="#5a5a5a" stroke-width="3.78"/><ellipse cx="10.12" cy="0" rx="5.57" ry="9.00" fill="none" stroke="#ababab" stroke-width="2.52"/><path d="M-10.12,-9.00 A5.57,9.00 0 0 0 -10.12,9.00 A0.56,9.00 0 0 1 -10.12,-9.00Z" fill="#e2e2e2" stroke="#5a5a5a" stroke-width="0.6"/><path d="M0.00,-9.00 A5.57,9.00 0 0 0 0.00,9.00 A0.56,9.00 0 0 1 0.00,-9.00Z" fill="#e2e2e2" stroke="#5a5a5a" stroke-width="0.6"/><path d="M10.12,-9.00 A5.57,9.00 0 0 0 10.12,9.00 A0.56,9.00 0 0 1 10.12,-9.00Z" fill="#e2e2e2" stroke="#5a5a5a" stroke-width="0.6"/></g>
<g transform="translate(367.0 114.0) rotate(-12.5)"><ellipse cx="-4.61" cy="0" rx="5.07" ry="7.00" fill="none" stroke="#5a5a5a" stroke-width="2.94"/><ellipse cx="-4.61" cy="0" rx="5.07" ry="7.00" fill="none" stroke="#a4a4a4" stroke-width="1.96"/><ellipse cx="4.61" cy="0" rx="5.07" ry="7.00" fill="none" stroke="#5a5a5a" stroke-width="2.94"/><ellipse cx="4.61" cy="0" rx="5.07" ry="7.00" fill="none" stroke="#a4a4a4" stroke-width="1.96"/><path d="M-4.61,-7.00 A5.07,7.00 0 0 0 -4.61,7.00 A0.51,7.00 0 0 1 -4.61,-7.00Z" fill="#e0e0e0" stroke="#5a5a5a" stroke-width="0.6"/><path d="M4.61,-7.00 A5.07,7.00 0 0 0 4.61,7.00 A0.51,7.00 0 0 1 4.61,-7.00Z" fill="#e0e0e0" stroke="#5a5a5a" stroke-width="0.6"/></g>
<g transform="translate(426.0 101.0) rotate(87.3)"><ellipse cx="-14.02" cy="0" rx="7.71" ry="7.80" fill="none" stroke="#8a8a8a" stroke-width="3.28"/><ellipse cx="-14.02" cy="0" rx="7.71" ry="7.80" fill="none" stroke="#ececec" stroke-width="2.18"/><ellipse cx="0.00" cy="0" rx="7.71" ry="7.80" fill="none" stroke="#8a8a8a" stroke-width="3.28"/><ellipse cx="0.00" cy="0" rx="7.71" ry="7.80" fill="none" stroke="#ececec" stroke-width="2.18"/><ellipse cx="14.02" cy="0" rx="7.71" ry="7.80" fill="none" stroke="#8a8a8a" stroke-width="3.28"/><ellipse cx="14.02" cy="0" rx="7.71" ry="7.80" fill="none" stroke="#ececec" stroke-width="2.18"/><path d="M-14.02,-7.80 A7.71,7.80 0 0 0 -14.02,7.80 A0.77,7.80 0 0 1 -14.02,-7.80Z" fill="#ffffff" stroke="#8a8a8a" stroke-width="0.6"/><path d="M0.00,-7.80 A7.71,7.80 0 0 0 0.00,7.80 A0.77,7.80 0 0 1 0.00,-7.80Z" fill="#ffffff" stroke="#8a8a8a" stroke-width="0.6"/><path d="M14.02,-7.80 A7.71,7.80 0 0 0 14.02,7.80 A0.77,7.80 0 0 1 14.02,-7.80Z" fill="#ffffff" stroke="#8a8a8a" stroke-width="0.6"/></g>
<path d="M328.0,95.0 L327.2,95.4 L326.0,96.0 L324.6,96.6 L323.2,97.4 L322.0,98.2 L321.0,99.0 L320.3,99.9 L319.7,100.9 L319.2,102.0 L319.0,103.1 L318.9,104.1 L319.0,105.0 L319.4,105.9 L320.1,106.8 L321.0,107.6 L322.0,108.3 L323.0,108.8 L324.0,109.0 L325.0,108.8 L326.1,108.1 L327.3,107.2 L328.4,106.3 L329.3,105.5 L330.0,105.0" fill="none" stroke="#6a6a6a" stroke-width="2.4" stroke-linecap="round" stroke-linejoin="round"/>
<path d="M321.9,109.6 L321.9,110.3 L322.0,111.2 L322.0,112.4 L322.1,113.6 L322.3,114.8 L322.5,116.0 L322.8,117.1 L323.1,118.3 L323.4,119.5 L323.8,120.7 L324.4,121.9 L325.0,123.0 L325.8,124.1 L326.7,125.2 L327.8,126.3 L328.9,127.3 L330.0,128.2 L331.0,129.0 L332.0,129.6 L333.1,129.9 L334.1,130.2 L335.1,130.4 L336.1,130.7 L337.0,131.0 L337.8,131.5 L338.6,132.0 L339.4,132.6 L340.0,133.2 L340.6,133.7 L341.0,134.0" fill="none" stroke="#4a4a4a" stroke-width="1.2" stroke-linecap="round" stroke-linejoin="round"/>
<path d="M404.0,104.0 L404.9,104.7 L406.1,105.7 L407.6,106.9 L409.2,108.1 L410.7,109.2 L412.0,110.0 L413.2,110.6 L414.4,111.0 L415.5,111.4 L416.5,111.6 L417.4,111.8 L418.0,112.0" fill="none" stroke="#999" stroke-width="1.0" stroke-linecap="round" stroke-linejoin="round"/>
<path d="M392.0,112.0 L392.6,112.9 L393.3,114.2 L394.2,115.8 L395.3,117.3 L396.6,118.8 L398.0,120.0 L399.7,121.0 L401.6,121.9 L403.8,122.6 L405.9,123.3 L408.0,123.7 L410.0,124.0 L411.9,124.0 L413.9,123.7 L415.8,123.2 L417.5,122.7 L418.9,122.3 L420.0,122.0" fill="none" stroke="#aaa" stroke-width="1.0" stroke-linecap="round" stroke-linejoin="round"/>
<path d="M345.0,104.0 L345.6,104.8 L346.6,106.0 L347.6,107.4 L348.7,108.9 L349.5,110.5 L350.0,112.0 L350.0,113.6 L349.6,115.3 L349.1,117.1 L348.5,118.9 L348.1,120.5 L348.0,122.0 L348.4,123.3 L349.0,124.5 L349.9,125.6 L350.7,126.6 L351.5,127.4 L352.0,128.0" fill="none" stroke="#c8c8c8" stroke-width="1.2" stroke-linecap="round" stroke-linejoin="round"/>
<path d="M355.0,96.0 L355.8,96.1 L357.0,96.1 L358.3,96.2 L359.7,96.3 L361.0,96.6 L362.0,97.0 L362.8,97.6 L363.4,98.4 L364.0,99.2 L364.4,100.2 L364.8,101.1 L365.0,102.0 L365.1,102.8 L365.0,103.7 L364.8,104.5 L364.5,105.3 L364.2,106.2 L364.0,107.0 L363.8,107.8 L363.5,108.6 L363.2,109.4 L363.0,110.3 L362.9,111.1 L363.0,112.0 L363.5,113.0 L364.2,114.0 L365.1,115.1 L366.0,116.1 L366.7,117.1 L367.0,118.0 L367.0,118.8 L366.7,119.7 L366.3,120.4 L365.7,121.1 L364.9,121.6 L364.0,122.0 L362.8,122.2 L361.3,122.2 L359.7,122.0 L358.0,121.8 L356.4,121.4 L355.0,121.0 L353.9,120.4 L352.8,119.5 L351.9,118.6 L351.0,117.7 L350.2,116.9 L349.5,116.5 L348.8,116.4 L348.2,116.4 L347.7,116.6 L347.3,116.9 L346.9,117.4 L346.5,118.0 L346.2,118.8 L346.1,119.8 L346.0,120.9 L345.9,122.1 L345.7,123.1 L345.5,124.0 L345.2,124.7 L344.9,125.3 L344.5,125.8 L344.1,126.3 L343.6,126.7 L343.0,127.0 L342.2,127.3 L341.2,127.4 L340.2,127.5 L339.2,127.6 L338.4,127.7 L338.0,128.0 L338.0,128.4 L338.4,128.9 L339.0,129.4 L339.7,130.0 L340.4,130.5 L341.0,131.0 L341.5,131.4 L342.1,131.8 L342.7,132.2 L343.2,132.5 L343.7,132.8 L344.0,133.0" fill="none" stroke="#c8237f" stroke-width="1.3" stroke-linecap="round" stroke-linejoin="round"/>
<polygon points="320.4,140.0 322.8,163.7 329.2,163.1 326.8,139.4" fill="#8a8a8a" stroke="#555" stroke-width="0.5" stroke-linejoin="round"/>
<polygon points="355.5,159.3 358.5,193.9 365.5,193.3 362.5,158.7" fill="#9a9a9a" stroke="#666" stroke-width="0.5" stroke-linejoin="round"/>
<polygon points="333.1,133.1 334.6,205.5 341.4,205.3 339.9,132.9" fill="#5a5a5a" stroke="#2e2e2e" stroke-width="0.5" stroke-linejoin="round"/>
<polygon points="343.2,148.8 339.2,203.8 345.8,204.2 349.8,149.2" fill="#6c6c6c" stroke="#333" stroke-width="0.5" stroke-linejoin="round"/>
<polygon points="350.1,149.8 347.3,197.3 353.7,197.7 356.5,150.2" fill="#7c7c7c" stroke="#333" stroke-width="0.5" stroke-linejoin="round"/>
<polygon points="343.5,133.5 348.0,133.0 349.0,137.0 347.5,150.0 344.5,150.0" fill="#c01a70" stroke="#8a1050" stroke-width="0.4" stroke-linejoin="round"/>
<polygon points="339.4,175.2 350.0,175.2 350.0,183.0 339.4,183.0" fill="#3a3a3a" stroke="#222" stroke-width="0.5" stroke-linejoin="round"/>
<polygon points="338.0,183.0 345.0,183.0 342.0,200.0 339.0,205.0" fill="#3a3a3a" stroke="none" stroke-width="0.6" stroke-linejoin="round"/>
<polygon points="319.6,170.9 331.6,164.4 332.5,166.1 335.5,159.4 328.3,158.3 329.1,159.9 317.2,166.3" fill="#4e4e4e" stroke="#2a2a2a" stroke-width="0.5" stroke-linejoin="round"/>
<path d="M304.0,168.6 L313.0,166.0" fill="none" stroke="#444" stroke-width="2.2" stroke-linecap="round" stroke-linejoin="round"/>
<polygon points="369.3,150.0 368.3,205.0 373.7,205.0 374.7,150.0" fill="#8e8e8e" stroke="#444" stroke-width="0.5" stroke-linejoin="round"/>
<polygon points="382.9,149.2 364.0,197.8 369.0,199.8 387.9,151.2" fill="#333" stroke="#1e1e1e" stroke-width="0.5" stroke-linejoin="round"/>
<polygon points="377.6,155.8 374.6,199.8 379.4,200.2 382.4,156.2" fill="#777" stroke="#333" stroke-width="0.5" stroke-linejoin="round"/>
<polygon points="396.3,143.5 404.8,189.4 411.2,188.2 402.7,142.3" fill="#7a7a7a" stroke="#444" stroke-width="0.5" stroke-linejoin="round"/>
<polygon points="409.2,153.8 413.7,184.0 419.3,183.2 414.8,153.0" fill="#686868" stroke="#333" stroke-width="0.5" stroke-linejoin="round"/>
<polygon points="419.1,149.0 414.5,180.6 419.9,181.4 424.5,149.8" fill="#4a4a4a" stroke="#2a2a2a" stroke-width="0.5" stroke-linejoin="round"/>
<polygon points="425.3,152.1 426.3,185.1 431.7,184.9 430.7,151.9" fill="#8a8a8a" stroke="#444" stroke-width="0.5" stroke-linejoin="round"/>
<polygon points="428.4,150.7 437.6,150.7 434.0,168.0 432.3,183.6 423.1,183.6 428.0,166.0" fill="#4a4a4a" stroke="#2a2a2a" stroke-width="0.5" stroke-linejoin="round"/>
<polygon points="438.3,148.4 441.6,176.1 448.0,175.3 444.7,147.6" fill="#9a9a9a" stroke="#666" stroke-width="0.5" stroke-linejoin="round"/>
<polygon points="421.6,130.0 429.0,142.9 427.1,144.0 435.0,146.8 436.5,138.6 434.6,139.7 427.2,126.8" fill="#555" stroke="#333" stroke-width="0.5" stroke-linejoin="round"/>
<polygon points="399.5,184.0 419.2,183.6 418.0,196.0 410.0,204.6 400.0,200.0" fill="#444" stroke="#222" stroke-width="0.5" stroke-linejoin="round"/>
<polygon points="440.0,182.0 452.0,176.0 454.0,184.0 444.0,192.0" fill="#5a5a5a" stroke="#2e2e2e" stroke-width="0.5" stroke-linejoin="round"/>
<polygon points="441.0,190.0 453.0,194.0 452.0,202.0 440.0,198.0" fill="#444" stroke="#2a2a2a" stroke-width="0.5" stroke-linejoin="round"/>
<polygon points="444.0,198.0 455.0,192.0 456.0,200.0 446.0,208.0" fill="#666" stroke="#2e2e2e" stroke-width="0.5" stroke-linejoin="round"/>
<path d="M446.8,175.7 L447.7,175.3 L448.9,174.8 L450.4,174.1 L452.0,173.4 L453.6,172.7 L455.0,172.0 L456.4,171.4 L457.7,170.7 L459.1,170.0 L460.4,169.3 L461.7,168.7 L463.0,168.0 L464.2,167.3 L465.5,166.5 L466.7,165.7 L467.9,164.9 L469.0,164.4 L470.0,164.0 L471.0,163.9 L472.0,164.1 L472.9,164.3 L473.8,164.7 L474.5,165.0 L475.0,165.2" fill="none" stroke="#999" stroke-width="2.6" stroke-linecap="round" stroke-linejoin="round"/>
<path d="M446.8,175.7 L447.7,175.3 L448.9,174.8 L450.4,174.1 L452.0,173.4 L453.6,172.7 L455.0,172.0 L456.4,171.4 L457.7,170.7 L459.1,170.0 L460.4,169.3 L461.7,168.7 L463.0,168.0 L464.2,167.3 L465.5,166.5 L466.7,165.7 L467.9,164.9 L469.0,164.4 L470.0,164.0 L471.0,163.9 L472.0,164.1 L472.9,164.3 L473.8,164.7 L474.5,165.0 L475.0,165.2" fill="none" stroke="#d0d0d0" stroke-width="1.0" stroke-linecap="round" stroke-linejoin="round"/>
<path d="M341.0,134.0 L341.5,133.5 L342.2,132.8 L343.1,132.0 L344.0,131.2 L345.0,130.5 L346.0,130.0 L347.1,129.8 L348.3,129.9 L349.6,130.0 L350.9,130.1 L352.0,130.2 L353.0,130.0 L353.7,129.5 L354.2,128.9 L354.6,128.1 L354.9,127.3 L355.4,126.5 L356.0,126.0 L356.8,125.6 L357.6,125.4 L358.6,125.2 L359.6,125.1 L360.7,125.0 L362.0,125.0 L363.5,125.1 L365.2,125.3 L367.0,125.6 L368.8,125.8 L370.5,126.0 L372.0,126.0 L373.2,125.8 L374.2,125.3 L375.1,124.8 L376.0,124.3 L376.9,124.0 L378.0,124.0 L379.3,124.3 L380.7,124.7 L382.2,125.4 L383.7,126.1 L385.0,127.0 L386.0,128.0 L386.8,129.1 L387.3,130.4 L387.8,131.9 L388.0,133.3 L388.1,134.7 L388.0,136.0 L387.6,137.2 L387.0,138.4 L386.1,139.5 L385.3,140.5 L384.5,141.4 L384.0,142.0" fill="none" stroke="#333" stroke-width="1.3" stroke-linecap="round" stroke-linejoin="round"/>
<path d="M333.0,146.0 L332.8,146.6 L332.4,147.5 L332.0,148.5 L331.6,149.6 L331.4,150.8 L331.5,152.0 L331.8,153.3 L332.3,154.7 L332.9,156.2 L333.7,157.7 L334.7,159.0 L336.0,160.0 L337.6,160.7 L339.4,161.2 L341.5,161.6 L343.7,161.8 L345.9,161.9 L348.0,162.0 L350.1,162.1 L352.3,162.1 L354.5,162.0 L356.6,161.8 L358.4,161.5 L360.0,161.0 L361.3,160.3 L362.4,159.5 L363.2,158.6 L363.9,157.5 L364.3,156.3 L364.4,155.0 L364.3,153.5 L363.9,151.8 L363.2,149.9 L362.4,148.1 L361.3,146.4 L360.0,145.0 L358.4,143.8 L356.5,142.7 L354.4,141.8 L352.1,141.0 L350.0,140.4 L348.0,140.0 L346.2,139.8 L344.3,139.7 L342.6,139.9 L340.9,140.1 L339.4,140.5 L338.0,141.0 L336.8,141.7 L335.8,142.6 L334.9,143.6 L334.1,144.6 L333.5,145.4 L333.0,146.0" fill="none" stroke="#2e2e2e" stroke-width="1.3" stroke-linecap="round" stroke-linejoin="round"/>
<path d="M364.4,198.8 L364.5,199.6 L364.7,200.7 L364.8,202.0 L365.1,203.4 L365.5,204.8 L366.0,206.0 L366.7,207.2 L367.6,208.4 L368.7,209.6 L369.8,210.6 L370.9,211.5 L372.0,212.0 L373.2,212.2 L374.5,212.2 L375.8,212.0 L377.1,211.6 L378.1,210.9 L378.8,210.0 L379.1,208.7 L379.1,206.9 L378.8,204.9 L378.5,202.9 L378.2,201.2 L378.0,200.0" fill="none" stroke="#333" stroke-width="1.3" stroke-linecap="round" stroke-linejoin="round"/>
<path d="M408.7,117.9 L408.1,118.6 L407.2,119.4 L406.1,120.4 L405.1,121.7 L404.1,123.2 L403.4,125.0 L402.9,127.4 L402.5,130.3 L402.2,133.5 L402.0,136.7 L402.0,139.4 L402.1,141.5 L402.5,142.8 L403.2,143.5 L404.0,143.9 L404.8,144.0 L405.5,144.1 L406.0,144.2" fill="none" stroke="#333" stroke-width="1.4" stroke-linecap="round" stroke-linejoin="round"/>
<path d="M408.7,117.9 L409.5,118.3 L410.6,118.9 L411.9,119.6 L413.3,120.3 L414.7,121.1 L416.0,122.0 L417.3,122.9 L418.6,123.9 L419.9,125.0 L421.2,126.1 L422.3,127.2 L423.1,128.4 L423.6,129.6 L423.8,130.8 L423.8,132.1 L423.8,133.4 L423.9,134.8 L424.4,136.3 L425.3,138.0 L426.5,140.0 L427.8,142.0 L429.1,144.0 L430.2,145.6 L431.0,146.8" fill="none" stroke="#333" stroke-width="1.4" stroke-linecap="round" stroke-linejoin="round"/>
<path d="M440.2,137.6 L441.1,137.4 L442.3,136.9 L443.8,136.5 L445.3,136.1 L446.8,136.0 L448.0,136.3 L449.1,137.0 L450.2,138.0 L451.3,139.2 L452.2,140.6 L452.9,142.3 L453.3,144.2 L453.4,146.5 L453.2,149.4 L452.8,152.4 L452.3,155.4 L451.5,158.0 L450.7,160.0 L449.6,161.2 L448.2,161.9 L446.6,162.3 L445.0,162.4 L443.7,162.5 L442.8,162.6" fill="none" stroke="#3a3a3a" stroke-width="1.2" stroke-linecap="round" stroke-linejoin="round"/>
<path d="M390.3,202.0 L390.5,203.2 L390.6,205.0 L390.9,207.1 L391.3,209.2 L391.9,211.1 L392.9,212.5 L394.4,213.5 L396.3,214.3 L398.6,215.0 L400.8,215.3 L402.9,215.4 L404.7,215.1 L406.1,214.2 L407.1,212.5 L408.1,210.6 L409.0,208.8 L410.0,207.5 L411.3,207.2 L412.8,208.2 L414.3,210.3 L416.0,212.9 L417.8,215.6 L419.7,217.8 L421.8,219.1 L424.2,219.2 L426.8,218.6 L429.5,217.5 L432.3,216.3 L435.1,215.4 L437.6,215.1 L440.1,215.6 L442.6,216.8 L445.0,218.2 L447.2,219.5 L449.2,220.3 L450.7,220.4 L451.8,219.4 L452.4,217.7 L452.8,215.5 L453.0,213.2 L453.1,211.2 L453.3,209.9" fill="none" stroke="#3a3a3a" stroke-width="1.2" stroke-linecap="round" stroke-linejoin="round"/>
<path d="M326.3,212.0 L327.3,211.9 L328.6,211.7 L330.2,211.4 L331.9,211.2 L333.5,211.1 L335.0,211.0 L336.2,211.1 L337.3,211.3 L338.4,211.6 L339.5,211.8 L340.7,212.0 L342.0,212.0 L343.5,211.8 L345.1,211.4 L346.8,210.9 L348.6,210.5 L350.3,210.1 L352.0,210.0 L353.8,210.1 L355.7,210.4 L357.6,210.9 L359.4,211.3 L360.9,211.7 L362.0,212.0" fill="none" stroke="#555" stroke-width="1.2" stroke-linecap="round" stroke-linejoin="round"/>
<path d="M318.0,206.0 L318.4,206.7 L319.0,207.8 L319.7,209.0 L320.5,210.2 L321.3,211.3 L322.0,212.0 L322.7,212.3 L323.6,212.4 L324.4,212.4 L325.2,212.2 L325.8,212.1 L326.3,212.0" fill="none" stroke="#555" stroke-width="1.2" stroke-linecap="round" stroke-linejoin="round"/>
<path d="M309.9,124.0 L309.6,124.9 L309.2,126.2 L308.7,127.7 L308.3,129.2 L308.0,130.6 L307.9,131.8 L308.2,132.6 L308.7,133.2 L309.4,133.6 L310.0,134.1 L310.5,134.8 L310.5,135.8 L310.0,137.2 L309.1,139.0 L307.9,140.9 L306.7,142.8 L305.8,144.7 L305.3,146.3 L305.3,147.6 L305.8,148.5 L306.4,149.4 L307.1,150.4 L307.7,151.5 L307.9,152.9 L307.7,154.9 L307.3,157.3 L306.8,159.9 L306.2,162.4 L305.6,164.5 L305.3,166.0" fill="none" stroke="#505050" stroke-width="1.3" stroke-linecap="round" stroke-linejoin="round"/>
<path d="M304.6,128.0 L309.9,124.0" fill="none" stroke="#505050" stroke-width="1.1" stroke-linecap="round" stroke-linejoin="round"/>
<line x1="324.00" y1="184.50" x2="306.00" y2="190.00" stroke="#2e2e2e" stroke-width="6.0" stroke-linecap="round"/>
<line x1="324.00" y1="198.70" x2="306.00" y2="204.20" stroke="#2e2e2e" stroke-width="6.0" stroke-linecap="round"/>
<line x1="324.00" y1="212.90" x2="306.00" y2="218.40" stroke="#2e2e2e" stroke-width="6.0" stroke-linecap="round"/>
<line x1="324.00" y1="227.10" x2="306.00" y2="232.60" stroke="#2e2e2e" stroke-width="6.0" stroke-linecap="round"/>
<polygon points="304.6,176.5 308.0,173.0 325.2,179.5 325.2,189.0 321.0,189.5 304.6,184.0" fill="#505050" stroke="#2a2a2a" stroke-width="0.5"/>
<polygon points="304.6,190.7 308.0,187.2 325.2,193.7 325.2,203.2 321.0,203.7 304.6,198.2" fill="#505050" stroke="#2a2a2a" stroke-width="0.5"/>
<polygon points="304.6,204.9 308.0,201.4 325.2,207.9 325.2,217.4 321.0,217.9 304.6,212.4" fill="#505050" stroke="#2a2a2a" stroke-width="0.5"/>
<polygon points="304.6,219.1 308.0,215.6 325.2,222.1 325.2,231.6 321.0,232.1 304.6,226.6" fill="#505050" stroke="#2a2a2a" stroke-width="0.5"/>
<path d="M324.0,226.0 L324.6,224.8 L325.5,223.1 L326.5,221.1 L327.6,219.1 L328.8,217.3 L330.0,216.0 L331.2,215.2 L332.6,214.6 L333.9,214.2 L335.3,214.1 L336.7,214.0 L338.0,214.0 L339.3,214.1 L340.7,214.4 L342.0,214.9 L343.2,215.3 L344.2,215.7 L345.0,216.0" fill="none" stroke="#3a3a3a" stroke-width="1.1" stroke-linecap="round" stroke-linejoin="round"/>
<path d="M388.0,130.0 L388.9,130.6 L390.2,131.3 L391.8,132.1 L393.3,133.2 L394.8,134.5 L396.0,136.0 L397.0,137.9 L397.9,140.0 L398.8,142.4 L399.4,145.0 L399.8,147.5 L400.0,150.0 L399.8,152.4 L399.3,154.9 L398.5,157.4 L397.6,160.0 L396.8,162.5 L396.0,165.0 L395.2,167.5 L394.4,170.0 L393.5,172.4 L392.7,174.9 L392.2,177.4 L392.0,180.0 L392.2,182.8 L392.9,185.9 L393.8,188.9 L394.7,191.8 L395.5,194.2 L396.0,196.0" fill="none" stroke="#c4c4c4" stroke-width="1.1" stroke-linecap="round" stroke-linejoin="round"/>
<path d="M358.0,200.0 L358.9,199.0 L360.1,197.6 L361.6,195.9 L363.2,194.1 L364.7,192.1 L366.0,190.0 L367.1,187.8 L368.1,185.4 L369.1,182.8 L370.1,180.2 L371.0,177.6 L372.0,175.0 L373.1,172.3 L374.2,169.4 L375.4,166.6 L376.4,163.9 L377.3,161.6 L378.0,160.0" fill="none" stroke="#c4c4c4" stroke-width="1.1" stroke-linecap="round" stroke-linejoin="round"/>
<path d="M392.0,150.0 L393.2,150.8 L394.9,151.9 L396.9,153.1 L398.9,154.6 L400.7,156.2 L402.0,158.0 L402.9,160.0 L403.6,162.2 L404.0,164.6 L404.2,167.1 L404.2,169.6 L404.0,172.0 L403.4,174.5 L402.4,177.2 L401.1,179.9 L399.9,182.4 L398.7,184.5 L398.0,186.0" fill="none" stroke="#c4c4c4" stroke-width="1.1" stroke-linecap="round" stroke-linejoin="round"/>
<path d="M420.0,130.0 L420.8,131.1 L421.9,132.6 L423.2,134.4 L424.7,136.3 L426.3,138.2 L428.0,140.0 L429.9,141.6 L432.0,143.1 L434.2,144.7 L436.4,146.3 L438.4,148.0 L440.0,150.0 L441.3,152.2 L442.4,154.7 L443.2,157.3 L443.9,160.0 L444.1,162.6 L444.0,165.0 L443.3,167.4 L441.9,170.0 L440.2,172.4 L438.5,174.7 L437.0,176.6 L436.0,178.0" fill="none" stroke="#c4c4c4" stroke-width="1.1" stroke-linecap="round" stroke-linejoin="round"/>
<path d="M350.0,212.0 L351.0,213.0 L352.2,214.4 L353.8,216.0 L355.6,217.6 L357.6,219.0 L360.0,220.0 L362.8,220.5 L366.0,220.7 L369.5,220.8 L373.1,220.6 L376.7,220.3 L380.0,220.0 L383.3,219.5 L386.8,218.8 L390.2,218.0 L393.4,217.2 L396.1,216.5 L398.0,216.0" fill="none" stroke="#c4c4c4" stroke-width="1.1" stroke-linecap="round" stroke-linejoin="round"/>
<path d="M361.0,139.8 L362.1,139.5 L363.7,139.1 L365.6,138.7 L367.6,138.3 L369.6,138.0 L371.5,138.0 L373.3,138.2 L375.2,138.6 L377.1,139.2 L378.9,139.9 L380.6,140.7 L382.0,141.5 L383.3,142.4 L384.4,143.4 L385.4,144.5 L386.3,145.6 L386.9,147.0 L387.3,148.5 L387.4,150.3 L387.3,152.3 L387.0,154.4 L386.5,156.6 L386.0,158.8 L385.5,160.8 L385.1,162.7 L384.6,164.6 L384.1,166.4 L383.5,168.1 L382.8,169.8 L382.0,171.3 L381.1,172.7 L380.0,174.0 L378.8,175.1 L377.6,176.2 L376.3,177.3 L375.0,178.3 L373.6,179.4 L372.1,180.5 L370.5,181.5 L369.0,182.4 L367.6,183.1 L366.3,183.6 L365.2,183.7 L364.1,183.5 L363.1,183.0 L362.2,182.5 L361.5,182.1 L361.0,181.8" fill="none" stroke="#333" stroke-width="1.3" stroke-linecap="round" stroke-linejoin="round"/>
<path d="M392.5,201.0 L392.6,202.2 L392.8,204.0 L393.0,206.1 L393.2,208.2 L393.7,210.1 L394.3,211.6 L395.1,212.7 L396.1,213.5 L397.1,214.2 L398.4,214.6 L399.8,214.9 L401.3,215.0 L403.1,214.7 L405.3,214.0 L407.7,213.1 L410.0,212.2 L412.0,211.6 L413.6,211.6 L414.7,212.2 L415.3,213.4 L415.7,214.8 L416.1,216.3 L416.4,217.6 L417.0,218.6 L417.8,219.3 L418.8,219.8 L419.8,220.2 L420.7,220.4 L421.6,220.5 L422.3,220.3 L422.8,219.8 L423.2,218.9 L423.5,217.8 L423.7,216.6 L423.9,215.7 L424.0,215.0" fill="none" stroke="#333" stroke-width="1.3" stroke-linecap="round" stroke-linejoin="round"/>
<path d="M408.3,117.0 L408.7,117.3 L409.3,117.6 L409.9,118.1 L410.6,118.7 L411.3,119.5 L411.8,120.5 L412.3,121.9 L412.9,123.7 L413.4,125.6 L413.7,127.6 L413.8,129.5 L413.6,131.0 L412.9,132.2 L411.8,133.2 L410.4,134.0 L408.9,134.7 L407.6,135.5 L406.5,136.3 L405.6,137.2 L404.9,138.1 L404.2,139.0 L403.6,139.9 L403.2,140.7 L403.0,141.5 L402.9,142.2 L402.9,142.9 L403.1,143.5 L403.5,144.0 L404.0,144.5 L404.8,145.0 L406.0,145.4 L407.5,145.8 L409.3,146.1 L411.1,146.4 L412.6,146.6 L413.6,146.8" fill="none" stroke="#333" stroke-width="1.3" stroke-linecap="round" stroke-linejoin="round"/>
<path d="M438.0,208.0 L438.4,209.2 L438.8,211.0 L439.4,213.1 L440.0,215.2 L440.8,217.1 L441.6,218.6 L442.6,219.7 L443.7,220.7 L445.0,221.4 L446.3,221.9 L447.5,222.1 L448.6,222.0 L449.6,221.4 L450.7,220.2 L451.6,218.7 L452.5,217.2 L453.3,215.9 L453.8,215.0" fill="none" stroke="#3a3a3a" stroke-width="1.2" stroke-linecap="round" stroke-linejoin="round"/>
<line x1="289.3" y1="39.7" x2="390.5" y2="80.4" stroke="#f08080" stroke-width="0.8" stroke-dasharray="2.6 1.9"/>
<line x1="289.3" y1="109.2" x2="345.3" y2="116.2" stroke="#ec5aa6" stroke-width="0.8" stroke-dasharray="2.6 1.9"/>
</svg></body></html>
